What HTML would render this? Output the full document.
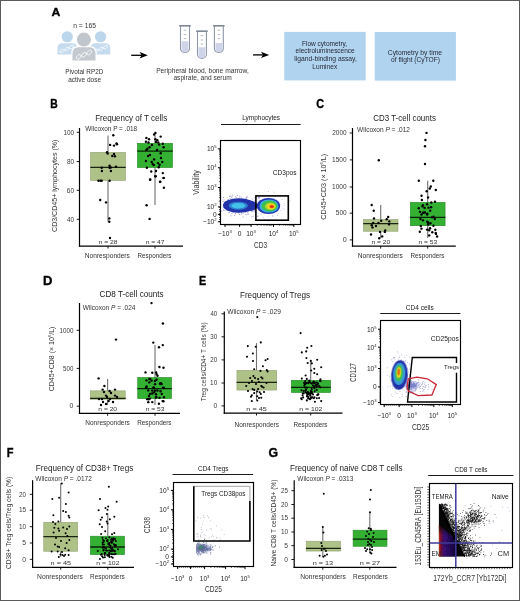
<!DOCTYPE html>
<html><head><meta charset="utf-8"><style>
html,body{margin:0;padding:0;background:#fff;}
body{width:520px;height:601px;overflow:hidden;position:relative;font-family:"Liberation Sans", sans-serif;}
.frame{position:absolute;left:0;top:0;width:518px;height:599px;border:1px solid #5a5a5a;}
svg{position:absolute;left:0;top:0;will-change:transform;}
</style></head><body>
<svg width="520" height="601" viewBox="0 0 520 601" font-family='"Liberation Sans", sans-serif'><defs><filter id="bl1" x="-50%" y="-50%" width="200%" height="200%"><feGaussianBlur stdDeviation="1.0"/></filter><filter id="bl2" x="-50%" y="-50%" width="200%" height="200%"><feGaussianBlur stdDeviation="0.6"/></filter><linearGradient id="gr1" x1="0" y1="0" x2="1" y2="0"><stop offset="0" stop-color="#c83a10"/><stop offset="0.1" stop-color="#801030"/><stop offset="0.3" stop-color="#3a1078"/><stop offset="0.7" stop-color="#220a58"/><stop offset="1" stop-color="#120630"/></linearGradient><linearGradient id="gr2" x1="0" y1="0" x2="0" y2="1"><stop offset="0" stop-color="#060606" stop-opacity="0.9"/><stop offset="0.35" stop-color="#060606" stop-opacity="0"/></linearGradient></defs><text x="51.60" y="15.90" font-size="11.6" textLength="8.83" lengthAdjust="spacingAndGlyphs" font-weight="bold" fill="#000" stroke="#000" stroke-width="0.35">A</text>
<text x="73.25" y="28.40" font-size="7.0" textLength="22.63" lengthAdjust="spacingAndGlyphs" fill="#333">n = 165</text>
<circle cx="67.25" cy="36.75" r="5.6" fill="#bcd6ec"/>
<circle cx="100.6" cy="36.75" r="5.6" fill="#bcd6ec"/>
<path d="M57.5,54.5 L57.5,47.7 Q57.5,43.2 62.0,43.2 L72.5,43.2 Q77.0,43.2 77.0,47.7 L77.0,54.5 Z" fill="#c6dcee"/>
<path d="M90.8,54.5 L90.8,47.7 Q90.8,43.2 95.3,43.2 L105.8,43.2 Q110.3,43.2 110.3,47.7 L110.3,54.5 Z" fill="#c6dcee"/>
<polyline points="59.50,52.00 60.23,52.38 60.95,52.61 61.67,52.58 62.40,52.23 63.12,51.56 63.85,50.66 64.58,49.67 65.30,48.72 66.03,47.96 66.75,47.50 67.47,47.36 68.20,47.52 68.92,47.87 69.65,48.26 70.38,48.56 71.10,48.63 71.83,48.38 72.55,47.81 73.28,46.98 74.00,46.00" fill="none" stroke="#fff" stroke-width="0.8"/>
<polyline points="59.50,52.00 60.23,51.02 60.95,50.19 61.67,49.62 62.40,49.37 63.12,49.44 63.85,49.74 64.58,50.13 65.30,50.48 66.03,50.64 66.75,50.50 67.47,50.04 68.20,49.28 68.92,48.33 69.65,47.34 70.38,46.44 71.10,45.77 71.83,45.42 72.55,45.39 73.28,45.62 74.00,46.00" fill="none" stroke="#fff" stroke-width="0.8"/>
<polyline points="93.50,52.00 94.22,52.38 94.95,52.61 95.67,52.58 96.40,52.23 97.12,51.56 97.85,50.66 98.58,49.67 99.30,48.72 100.03,47.96 100.75,47.50 101.47,47.36 102.20,47.52 102.92,47.87 103.65,48.26 104.38,48.56 105.10,48.63 105.83,48.38 106.55,47.81 107.28,46.98 108.00,46.00" fill="none" stroke="#fff" stroke-width="0.8"/>
<polyline points="93.50,52.00 94.22,51.02 94.95,50.19 95.67,49.62 96.40,49.37 97.12,49.44 97.85,49.74 98.58,50.13 99.30,50.48 100.03,50.64 100.75,50.50 101.47,50.04 102.20,49.28 102.92,48.33 103.65,47.34 104.38,46.44 105.10,45.77 105.83,45.42 106.55,45.39 107.28,45.62 108.00,46.00" fill="none" stroke="#fff" stroke-width="0.8"/>
<circle cx="83.9" cy="39.6" r="8.3" fill="#fff"/>
<path d="M72.5,61.0 L72.5,53.3 Q72.5,47.3 78.5,47.3 L89.5,47.3 Q95.5,47.3 95.5,53.3 L95.5,61.0 Z" fill="#fff" stroke="#fff" stroke-width="2.4"/>
<circle cx="83.9" cy="39.6" r="7.0" fill="#c0c6cc"/>
<path d="M72.5,60.6 L72.5,53.3 Q72.5,47.3 78.5,47.3 L89.5,47.3 Q95.5,47.3 95.5,53.3 L95.5,60.6 Z" fill="#c3c9ce"/>
<polyline points="76.00,58.00 76.80,58.67 77.60,59.13 78.40,59.20 79.20,58.79 80.00,57.93 80.80,56.73 81.60,55.38 82.40,54.11 83.20,53.11 84.00,52.55 84.80,52.46 85.60,52.81 86.40,53.43 87.20,54.13 88.00,54.68 88.80,54.89 89.60,54.65 90.40,53.93 91.20,52.82 92.00,51.50" fill="none" stroke="#fff" stroke-width="0.9"/>
<polyline points="76.00,58.00 76.80,56.68 77.60,55.57 78.40,54.85 79.20,54.61 80.00,54.82 80.80,55.37 81.60,56.07 82.40,56.69 83.20,57.04 84.00,56.95 84.80,56.39 85.60,55.39 86.40,54.12 87.20,52.77 88.00,51.57 88.80,50.71 89.60,50.30 90.40,50.37 91.20,50.83 92.00,51.50" fill="none" stroke="#fff" stroke-width="0.9"/>
<text x="65.27" y="74.30" font-size="7.6" textLength="38.13" lengthAdjust="spacingAndGlyphs" fill="#333">Pivotal RP2D</text>
<text x="68.22" y="82.00" font-size="7.6" textLength="32.86" lengthAdjust="spacingAndGlyphs" fill="#333">active dose</text>
<line x1="131.20" y1="55.30" x2="144.80" y2="55.30" stroke="#000" stroke-width="1.3"/>
<path d="M139.60000000000002,52.099999999999994 L147.8,55.3 L139.60000000000002,58.5 L141.60000000000002,55.3 Z" fill="#000"/>
<line x1="253.00" y1="54.90" x2="266.20" y2="54.90" stroke="#000" stroke-width="1.3"/>
<path d="M261.0,51.699999999999996 L269.2,54.9 L261.0,58.1 L263.0,54.9 Z" fill="#000"/>
<path d="M180.5,26.0 L180.5,48.89999999999999 A4.600000000000011,4.600000000000011 0 0 0 189.5,48.89999999999999 L189.5,26.0" fill="#fff" stroke="#8d97a6" stroke-width="1.1"/>
<path d="M181.6,41.2 L181.6,48.89999999999999 A3.4000000000000057,3.4000000000000057 0 0 0 188.4,48.89999999999999 L188.4,41.2 Z" fill="#d0d4e8"/>
<line x1="183.70" y1="30.20" x2="186.30" y2="30.20" stroke="#aab2c0" stroke-width="0.9"/>
<line x1="183.70" y1="34.60" x2="186.30" y2="34.60" stroke="#aab2c0" stroke-width="0.9"/>
<line x1="183.70" y1="38.60" x2="186.30" y2="38.60" stroke="#aab2c0" stroke-width="0.9"/>
<rect x="179.20" y="25.00" width="11.60" height="1.60" fill="#7f8894"/>
<path d="M197.5,31.4 L197.5,54.75 A4.55,4.55 0 0 0 206.39999999999998,54.75 L206.39999999999998,31.4" fill="#fff" stroke="#8d97a6" stroke-width="1.1"/>
<path d="M198.6,47.3 L198.6,54.75 A3.3499999999999943,3.3499999999999943 0 0 0 205.29999999999998,54.75 L205.29999999999998,47.3 Z" fill="#d0d4e8"/>
<line x1="200.65" y1="35.60" x2="203.25" y2="35.60" stroke="#aab2c0" stroke-width="0.9"/>
<line x1="200.65" y1="40.00" x2="203.25" y2="40.00" stroke="#aab2c0" stroke-width="0.9"/>
<line x1="200.65" y1="44.00" x2="203.25" y2="44.00" stroke="#aab2c0" stroke-width="0.9"/>
<rect x="196.20" y="30.40" width="11.50" height="1.60" fill="#7f8894"/>
<path d="M214.4,26.0 L214.4,48.95 A4.55,4.55 0 0 0 223.29999999999998,48.95 L223.29999999999998,26.0" fill="#fff" stroke="#8d97a6" stroke-width="1.1"/>
<path d="M215.5,43.0 L215.5,48.95 A3.3499999999999943,3.3499999999999943 0 0 0 222.2,48.95 L222.2,43.0 Z" fill="#d0d4e8"/>
<line x1="217.55" y1="30.20" x2="220.15" y2="30.20" stroke="#aab2c0" stroke-width="0.9"/>
<line x1="217.55" y1="34.60" x2="220.15" y2="34.60" stroke="#aab2c0" stroke-width="0.9"/>
<line x1="217.55" y1="38.60" x2="220.15" y2="38.60" stroke="#aab2c0" stroke-width="0.9"/>
<rect x="213.10" y="25.00" width="11.50" height="1.60" fill="#7f8894"/>
<text x="156.15" y="72.60" font-size="7.2" textLength="92.74" lengthAdjust="spacingAndGlyphs" fill="#333">Peripheral blood, bone marrow,</text>
<text x="173.42" y="80.40" font-size="7.2" textLength="58.32" lengthAdjust="spacingAndGlyphs" fill="#333">aspirate, and serum</text>
<rect x="284.30" y="31.90" width="81.40" height="48.50" fill="#b0d3f0"/>
<rect x="374.70" y="32.00" width="81.20" height="48.60" fill="#b0d3f0"/>
<text x="301.97" y="46.00" font-size="7.3" textLength="45.21" lengthAdjust="spacingAndGlyphs" fill="#262a36">Flow cytometry,</text>
<text x="295.62" y="53.40" font-size="7.3" textLength="59.06" lengthAdjust="spacingAndGlyphs" fill="#262a36">electroluminescence</text>
<text x="294.25" y="61.20" font-size="7.3" textLength="62.55" lengthAdjust="spacingAndGlyphs" fill="#262a36">ligand-binding assay,</text>
<text x="312.36" y="68.80" font-size="7.3" textLength="24.81" lengthAdjust="spacingAndGlyphs" fill="#262a36">Luminex</text>
<text x="387.86" y="54.50" font-size="7.3" textLength="54.14" lengthAdjust="spacingAndGlyphs" fill="#262a36">Cytometry by time</text>
<text x="391.12" y="61.90" font-size="7.3" textLength="48.89" lengthAdjust="spacingAndGlyphs" fill="#262a36">of flight (CyTOF)</text>
<text x="50.31" y="107.70" font-size="12.0" textLength="7.46" lengthAdjust="spacingAndGlyphs" font-weight="bold" fill="#000" stroke="#000" stroke-width="0.35">B</text>
<line x1="79.50" y1="128.00" x2="79.50" y2="246.70" stroke="#000" stroke-width="1.2"/>
<line x1="78.90" y1="246.10" x2="183.00" y2="246.10" stroke="#000" stroke-width="1.2"/>
<line x1="76.70" y1="132.30" x2="79.50" y2="132.30" stroke="#000" stroke-width="0.9"/>
<text x="63.41" y="134.50" font-size="6.3" textLength="10.63" lengthAdjust="spacingAndGlyphs" fill="#3a3a3a">100</text>
<line x1="76.70" y1="161.50" x2="79.50" y2="161.50" stroke="#000" stroke-width="0.9"/>
<text x="66.92" y="163.70" font-size="6.3" textLength="7.13" lengthAdjust="spacingAndGlyphs" fill="#3a3a3a">80</text>
<line x1="76.70" y1="190.30" x2="79.50" y2="190.30" stroke="#000" stroke-width="0.9"/>
<text x="66.87" y="192.50" font-size="6.3" textLength="7.18" lengthAdjust="spacingAndGlyphs" fill="#3a3a3a">60</text>
<line x1="76.70" y1="219.30" x2="79.50" y2="219.30" stroke="#000" stroke-width="0.9"/>
<text x="67.06" y="221.50" font-size="6.3" textLength="6.99" lengthAdjust="spacingAndGlyphs" fill="#3a3a3a">40</text>
<text x="57.50" y="231.96" font-size="7.7" textLength="92.40" lengthAdjust="spacingAndGlyphs" fill="#333" transform="rotate(-90 57.50 231.96)">CD3/CD45+ lymphocytes (%)</text>
<text x="95.14" y="120.60" font-size="8.7" textLength="72.05" lengthAdjust="spacingAndGlyphs" fill="#222">Frequency of T cells</text>
<text x="85.27" y="130.70" font-size="6.7" textLength="51.91" lengthAdjust="spacingAndGlyphs" fill="#333">Wilcoxon P = .018</text>
<line x1="108.00" y1="135.60" x2="108.00" y2="221.80" stroke="#6f6f6f" stroke-width="1.1"/>
<rect x="90.65" y="152.35" width="34.70" height="28.00" fill="#aec186" stroke="#98a87a" stroke-width="0.7"/>
<line x1="90.30" y1="167.30" x2="125.70" y2="167.30" stroke="#1a2410" stroke-width="1.3"/>
<circle cx="113.30" cy="135.30" r="1.2" fill="#000"/>
<circle cx="116.50" cy="143.50" r="1.2" fill="#000"/>
<circle cx="117.00" cy="144.20" r="1.2" fill="#000"/>
<circle cx="114.00" cy="145.60" r="1.2" fill="#000"/>
<circle cx="110.10" cy="144.90" r="1.2" fill="#000"/>
<circle cx="107.00" cy="152.30" r="1.2" fill="#000"/>
<circle cx="107.70" cy="153.60" r="1.2" fill="#000"/>
<circle cx="114.00" cy="153.90" r="1.2" fill="#000"/>
<circle cx="112.30" cy="156.00" r="1.2" fill="#000"/>
<circle cx="114.90" cy="156.20" r="1.2" fill="#000"/>
<circle cx="109.60" cy="165.70" r="1.2" fill="#000"/>
<circle cx="110.70" cy="167.50" r="1.2" fill="#000"/>
<circle cx="109.60" cy="167.80" r="1.2" fill="#000"/>
<circle cx="116.00" cy="166.80" r="1.2" fill="#000"/>
<circle cx="101.70" cy="167.80" r="1.2" fill="#000"/>
<circle cx="101.90" cy="171.00" r="1.2" fill="#000"/>
<circle cx="110.90" cy="171.00" r="1.2" fill="#000"/>
<circle cx="98.50" cy="180.70" r="1.2" fill="#000"/>
<circle cx="100.60" cy="180.70" r="1.2" fill="#000"/>
<circle cx="101.70" cy="180.70" r="1.2" fill="#000"/>
<circle cx="109.60" cy="180.70" r="1.2" fill="#000"/>
<circle cx="100.20" cy="200.00" r="1.2" fill="#000"/>
<circle cx="106.00" cy="202.40" r="1.2" fill="#000"/>
<circle cx="109.30" cy="218.40" r="1.2" fill="#000"/>
<circle cx="109.30" cy="221.80" r="1.2" fill="#000"/>
<circle cx="110.00" cy="238.00" r="1.2" fill="#000"/>
<line x1="108.00" y1="246.10" x2="108.00" y2="248.50" stroke="#000" stroke-width="0.9"/>
<text x="98.70" y="244.00" font-size="5.7" textLength="18.84" lengthAdjust="spacingAndGlyphs" fill="#333">n = 28</text>
<text x="84.86" y="257.50" font-size="6.8" textLength="44.98" lengthAdjust="spacingAndGlyphs" fill="#333">Nonresponders</text>
<line x1="155.00" y1="133.00" x2="155.00" y2="204.90" stroke="#6f6f6f" stroke-width="1.1"/>
<rect x="137.55" y="143.35" width="34.90" height="24.10" fill="#34b033" stroke="#2a8f2a" stroke-width="0.7"/>
<line x1="137.20" y1="151.10" x2="172.80" y2="151.10" stroke="#0a260a" stroke-width="1.3"/>
<circle cx="155.40" cy="132.90" r="1.2" fill="#000"/>
<circle cx="154.10" cy="134.50" r="1.2" fill="#000"/>
<circle cx="160.70" cy="136.60" r="1.2" fill="#000"/>
<circle cx="146.40" cy="137.90" r="1.2" fill="#000"/>
<circle cx="149.00" cy="139.30" r="1.2" fill="#000"/>
<circle cx="145.90" cy="141.70" r="1.2" fill="#000"/>
<circle cx="148.50" cy="142.50" r="1.2" fill="#000"/>
<circle cx="155.40" cy="139.30" r="1.2" fill="#000"/>
<circle cx="157.30" cy="140.30" r="1.2" fill="#000"/>
<circle cx="155.90" cy="141.90" r="1.2" fill="#000"/>
<circle cx="158.30" cy="142.50" r="1.2" fill="#000"/>
<circle cx="159.10" cy="144.60" r="1.2" fill="#000"/>
<circle cx="162.80" cy="143.80" r="1.2" fill="#000"/>
<circle cx="163.60" cy="147.20" r="1.2" fill="#000"/>
<circle cx="149.60" cy="147.20" r="1.2" fill="#000"/>
<circle cx="147.50" cy="148.80" r="1.2" fill="#000"/>
<circle cx="146.40" cy="149.90" r="1.2" fill="#000"/>
<circle cx="160.70" cy="153.30" r="1.2" fill="#000"/>
<circle cx="145.90" cy="161.00" r="1.2" fill="#000"/>
<circle cx="154.10" cy="159.40" r="1.2" fill="#000"/>
<circle cx="151.70" cy="162.00" r="1.2" fill="#000"/>
<circle cx="152.70" cy="164.10" r="1.2" fill="#000"/>
<circle cx="153.80" cy="165.00" r="1.2" fill="#000"/>
<circle cx="158.00" cy="163.10" r="1.2" fill="#000"/>
<circle cx="159.60" cy="164.70" r="1.2" fill="#000"/>
<circle cx="162.30" cy="162.00" r="1.2" fill="#000"/>
<circle cx="146.90" cy="167.80" r="1.2" fill="#000"/>
<circle cx="158.80" cy="167.30" r="1.2" fill="#000"/>
<circle cx="151.20" cy="171.50" r="1.2" fill="#000"/>
<circle cx="162.80" cy="173.10" r="1.2" fill="#000"/>
<circle cx="163.60" cy="177.90" r="1.2" fill="#000"/>
<circle cx="155.40" cy="176.30" r="1.2" fill="#000"/>
<circle cx="150.10" cy="179.50" r="1.2" fill="#000"/>
<circle cx="160.10" cy="181.60" r="1.2" fill="#000"/>
<circle cx="150.20" cy="179.70" r="1.2" fill="#000"/>
<circle cx="155.60" cy="176.20" r="1.2" fill="#000"/>
<circle cx="160.20" cy="181.90" r="1.2" fill="#000"/>
<circle cx="163.70" cy="178.10" r="1.2" fill="#000"/>
<circle cx="163.90" cy="187.70" r="1.2" fill="#000"/>
<circle cx="146.60" cy="205.30" r="1.2" fill="#000"/>
<circle cx="149.60" cy="218.90" r="1.2" fill="#000"/>
<circle cx="152.00" cy="145.00" r="1.2" fill="#000"/>
<circle cx="157.00" cy="150.00" r="1.2" fill="#000"/>
<circle cx="150.00" cy="155.00" r="1.2" fill="#000"/>
<circle cx="161.00" cy="158.00" r="1.2" fill="#000"/>
<circle cx="148.00" cy="156.00" r="1.2" fill="#000"/>
<circle cx="156.00" cy="171.00" r="1.2" fill="#000"/>
<line x1="155.00" y1="246.10" x2="155.00" y2="248.50" stroke="#000" stroke-width="0.9"/>
<text x="145.70" y="244.00" font-size="5.7" textLength="18.88" lengthAdjust="spacingAndGlyphs" fill="#333">n = 47</text>
<text x="137.58" y="257.50" font-size="6.8" textLength="33.94" lengthAdjust="spacingAndGlyphs" fill="#333">Responders</text>
<text x="242.17" y="120.20" font-size="7.0" textLength="37.96" lengthAdjust="spacingAndGlyphs" fill="#222">Lymphocytes</text>
<line x1="221.00" y1="124.50" x2="300.60" y2="124.50" stroke="#1a1a1a" stroke-width="1.0"/>
<rect x="220.50" y="140.50" width="80.00" height="84.00" fill="none" stroke="#000" stroke-width="1.15"/>
<g fill="#6a58c0" opacity="0.6"><circle cx="240.9" cy="211.3" r="0.55"/><circle cx="231.6" cy="210.2" r="0.55"/><circle cx="237.7" cy="204.9" r="0.55"/><circle cx="257.1" cy="206.7" r="0.55"/><circle cx="239.6" cy="209.1" r="0.55"/><circle cx="250.1" cy="205.9" r="0.55"/><circle cx="245.3" cy="201.9" r="0.55"/><circle cx="236.7" cy="204.2" r="0.55"/><circle cx="228.0" cy="199.7" r="0.55"/><circle cx="225.4" cy="205.0" r="0.55"/><circle cx="238.4" cy="204.7" r="0.55"/><circle cx="240.6" cy="200.4" r="0.55"/><circle cx="239.3" cy="207.0" r="0.55"/><circle cx="246.8" cy="202.4" r="0.55"/><circle cx="236.4" cy="197.5" r="0.55"/><circle cx="235.5" cy="196.8" r="0.55"/><circle cx="227.2" cy="210.6" r="0.55"/><circle cx="220.2" cy="209.4" r="0.55"/><circle cx="243.0" cy="204.7" r="0.55"/><circle cx="244.1" cy="208.2" r="0.55"/><circle cx="249.4" cy="205.0" r="0.55"/><circle cx="234.7" cy="203.5" r="0.55"/><circle cx="231.1" cy="205.8" r="0.55"/><circle cx="232.9" cy="210.5" r="0.55"/><circle cx="223.2" cy="201.4" r="0.55"/><circle cx="231.4" cy="197.2" r="0.55"/><circle cx="257.1" cy="195.9" r="0.55"/><circle cx="237.5" cy="203.8" r="0.55"/><circle cx="254.9" cy="197.7" r="0.55"/><circle cx="249.6" cy="202.9" r="0.55"/><circle cx="238.6" cy="203.2" r="0.55"/><circle cx="245.8" cy="201.2" r="0.55"/><circle cx="239.3" cy="207.5" r="0.55"/><circle cx="256.6" cy="195.9" r="0.55"/><circle cx="253.7" cy="210.0" r="0.55"/><circle cx="235.6" cy="207.3" r="0.55"/><circle cx="235.8" cy="212.9" r="0.55"/><circle cx="241.9" cy="205.1" r="0.55"/><circle cx="237.9" cy="205.2" r="0.55"/><circle cx="238.4" cy="202.3" r="0.55"/><circle cx="258.5" cy="198.0" r="0.55"/><circle cx="207.5" cy="205.5" r="0.55"/><circle cx="238.7" cy="207.6" r="0.55"/><circle cx="238.2" cy="205.4" r="0.55"/><circle cx="243.0" cy="210.1" r="0.55"/><circle cx="236.0" cy="204.4" r="0.55"/><circle cx="257.5" cy="208.2" r="0.55"/><circle cx="231.1" cy="215.8" r="0.55"/><circle cx="247.0" cy="203.5" r="0.55"/><circle cx="229.4" cy="207.3" r="0.55"/><circle cx="232.5" cy="201.6" r="0.55"/><circle cx="228.3" cy="203.9" r="0.55"/><circle cx="250.0" cy="204.2" r="0.55"/><circle cx="227.0" cy="208.8" r="0.55"/><circle cx="240.6" cy="209.5" r="0.55"/><circle cx="250.8" cy="205.3" r="0.55"/><circle cx="238.7" cy="205.8" r="0.55"/><circle cx="229.8" cy="208.8" r="0.55"/><circle cx="252.3" cy="206.7" r="0.55"/><circle cx="237.9" cy="204.9" r="0.55"/><circle cx="233.0" cy="202.6" r="0.55"/><circle cx="236.4" cy="202.5" r="0.55"/><circle cx="236.1" cy="199.4" r="0.55"/><circle cx="243.2" cy="206.2" r="0.55"/><circle cx="229.6" cy="196.3" r="0.55"/><circle cx="239.9" cy="210.6" r="0.55"/><circle cx="233.4" cy="204.0" r="0.55"/><circle cx="234.9" cy="208.7" r="0.55"/><circle cx="231.8" cy="210.1" r="0.55"/><circle cx="237.3" cy="209.9" r="0.55"/><circle cx="240.3" cy="205.0" r="0.55"/><circle cx="226.7" cy="203.1" r="0.55"/><circle cx="237.6" cy="208.8" r="0.55"/><circle cx="242.2" cy="203.1" r="0.55"/><circle cx="243.7" cy="210.1" r="0.55"/><circle cx="238.7" cy="204.2" r="0.55"/><circle cx="236.5" cy="209.4" r="0.55"/><circle cx="244.8" cy="202.1" r="0.55"/><circle cx="243.4" cy="204.0" r="0.55"/><circle cx="233.2" cy="211.2" r="0.55"/><circle cx="247.4" cy="203.0" r="0.55"/><circle cx="240.7" cy="208.1" r="0.55"/><circle cx="234.2" cy="205.5" r="0.55"/><circle cx="246.0" cy="198.5" r="0.55"/><circle cx="242.9" cy="209.1" r="0.55"/><circle cx="244.5" cy="200.4" r="0.55"/><circle cx="242.9" cy="202.4" r="0.55"/><circle cx="245.1" cy="208.5" r="0.55"/><circle cx="241.9" cy="202.8" r="0.55"/><circle cx="234.7" cy="209.6" r="0.55"/><circle cx="231.9" cy="208.1" r="0.55"/><circle cx="244.6" cy="204.8" r="0.55"/><circle cx="261.6" cy="206.3" r="0.55"/><circle cx="259.3" cy="197.5" r="0.55"/><circle cx="219.8" cy="210.1" r="0.55"/><circle cx="245.7" cy="204.7" r="0.55"/><circle cx="239.5" cy="198.0" r="0.55"/><circle cx="234.3" cy="201.7" r="0.55"/><circle cx="238.0" cy="209.7" r="0.55"/><circle cx="240.5" cy="207.6" r="0.55"/><circle cx="233.7" cy="204.2" r="0.55"/><circle cx="241.0" cy="204.8" r="0.55"/><circle cx="251.4" cy="202.3" r="0.55"/><circle cx="257.0" cy="201.9" r="0.55"/><circle cx="249.5" cy="202.8" r="0.55"/><circle cx="254.8" cy="206.6" r="0.55"/><circle cx="243.6" cy="209.1" r="0.55"/><circle cx="234.3" cy="201.6" r="0.55"/><circle cx="221.8" cy="211.1" r="0.55"/><circle cx="233.7" cy="203.5" r="0.55"/><circle cx="239.7" cy="214.4" r="0.55"/><circle cx="224.4" cy="207.0" r="0.55"/><circle cx="236.4" cy="208.2" r="0.55"/><circle cx="223.8" cy="204.3" r="0.55"/><circle cx="247.6" cy="212.5" r="0.55"/><circle cx="254.4" cy="202.4" r="0.55"/><circle cx="240.5" cy="205.5" r="0.55"/><circle cx="227.6" cy="200.0" r="0.55"/><circle cx="246.8" cy="207.0" r="0.55"/><circle cx="238.7" cy="211.1" r="0.55"/><circle cx="231.0" cy="208.2" r="0.55"/><circle cx="240.1" cy="205.8" r="0.55"/><circle cx="244.4" cy="206.7" r="0.55"/><circle cx="242.4" cy="207.1" r="0.55"/><circle cx="257.4" cy="204.7" r="0.55"/><circle cx="249.1" cy="208.6" r="0.55"/><circle cx="236.9" cy="209.3" r="0.55"/><circle cx="232.3" cy="210.9" r="0.55"/><circle cx="232.7" cy="203.9" r="0.55"/><circle cx="242.9" cy="209.5" r="0.55"/><circle cx="248.2" cy="209.8" r="0.55"/><circle cx="238.1" cy="202.0" r="0.55"/><circle cx="244.9" cy="207.3" r="0.55"/><circle cx="231.4" cy="210.1" r="0.55"/><circle cx="241.8" cy="202.0" r="0.55"/><circle cx="244.0" cy="200.4" r="0.55"/><circle cx="232.1" cy="207.7" r="0.55"/><circle cx="226.0" cy="206.2" r="0.55"/><circle cx="227.8" cy="209.1" r="0.55"/><circle cx="233.5" cy="206.8" r="0.55"/><circle cx="226.5" cy="204.6" r="0.55"/><circle cx="248.5" cy="207.9" r="0.55"/><circle cx="223.5" cy="209.9" r="0.55"/><circle cx="248.0" cy="204.4" r="0.55"/><circle cx="252.8" cy="201.6" r="0.55"/><circle cx="239.2" cy="210.7" r="0.55"/><circle cx="251.8" cy="211.4" r="0.55"/><circle cx="230.2" cy="198.5" r="0.55"/><circle cx="243.5" cy="200.0" r="0.55"/><circle cx="238.8" cy="200.6" r="0.55"/><circle cx="249.6" cy="209.4" r="0.55"/><circle cx="245.0" cy="206.1" r="0.55"/><circle cx="240.4" cy="204.8" r="0.55"/><circle cx="243.5" cy="207.0" r="0.55"/><circle cx="244.1" cy="204.2" r="0.55"/><circle cx="257.1" cy="207.2" r="0.55"/><circle cx="252.5" cy="211.6" r="0.55"/><circle cx="232.1" cy="198.9" r="0.55"/><circle cx="251.3" cy="204.4" r="0.55"/><circle cx="240.7" cy="204.9" r="0.55"/><circle cx="241.2" cy="201.0" r="0.55"/><circle cx="239.1" cy="204.1" r="0.55"/><circle cx="239.9" cy="196.2" r="0.55"/><circle cx="247.4" cy="207.4" r="0.55"/><circle cx="224.5" cy="202.9" r="0.55"/><circle cx="240.3" cy="208.6" r="0.55"/><circle cx="240.0" cy="211.8" r="0.55"/><circle cx="240.2" cy="201.8" r="0.55"/><circle cx="233.9" cy="209.1" r="0.55"/><circle cx="234.5" cy="209.5" r="0.55"/><circle cx="249.2" cy="208.5" r="0.55"/><circle cx="249.2" cy="205.3" r="0.55"/><circle cx="239.9" cy="203.5" r="0.55"/><circle cx="234.5" cy="199.4" r="0.55"/><circle cx="235.0" cy="201.5" r="0.55"/><circle cx="227.2" cy="206.6" r="0.55"/><circle cx="244.1" cy="204.6" r="0.55"/><circle cx="252.3" cy="210.0" r="0.55"/><circle cx="249.4" cy="203.5" r="0.55"/><circle cx="226.6" cy="208.3" r="0.55"/><circle cx="242.8" cy="209.0" r="0.55"/><circle cx="243.8" cy="211.3" r="0.55"/><circle cx="237.4" cy="208.8" r="0.55"/><circle cx="231.9" cy="196.3" r="0.55"/><circle cx="236.0" cy="212.3" r="0.55"/><circle cx="224.9" cy="210.3" r="0.55"/><circle cx="233.9" cy="204.3" r="0.55"/><circle cx="240.4" cy="206.9" r="0.55"/><circle cx="231.2" cy="206.5" r="0.55"/><circle cx="244.0" cy="209.5" r="0.55"/><circle cx="233.2" cy="212.5" r="0.55"/><circle cx="257.2" cy="216.1" r="0.55"/><circle cx="227.9" cy="206.7" r="0.55"/><circle cx="223.3" cy="207.6" r="0.55"/><circle cx="245.0" cy="201.2" r="0.55"/><circle cx="225.7" cy="206.8" r="0.55"/><circle cx="245.7" cy="202.7" r="0.55"/><circle cx="237.6" cy="195.4" r="0.55"/><circle cx="233.6" cy="206.6" r="0.55"/><circle cx="241.4" cy="212.6" r="0.55"/><circle cx="229.7" cy="196.5" r="0.55"/><circle cx="244.1" cy="203.5" r="0.55"/><circle cx="242.6" cy="209.0" r="0.55"/><circle cx="245.4" cy="212.1" r="0.55"/><circle cx="252.2" cy="199.0" r="0.55"/><circle cx="239.4" cy="214.4" r="0.55"/><circle cx="236.3" cy="210.1" r="0.55"/><circle cx="239.5" cy="204.2" r="0.55"/><circle cx="254.2" cy="210.4" r="0.55"/><circle cx="237.8" cy="209.8" r="0.55"/><circle cx="228.2" cy="203.0" r="0.55"/><circle cx="248.1" cy="206.2" r="0.55"/><circle cx="230.4" cy="207.9" r="0.55"/><circle cx="243.0" cy="211.4" r="0.55"/><circle cx="248.6" cy="204.8" r="0.55"/><circle cx="235.6" cy="205.4" r="0.55"/><circle cx="237.9" cy="212.1" r="0.55"/><circle cx="254.3" cy="211.7" r="0.55"/><circle cx="243.4" cy="205.0" r="0.55"/><circle cx="248.1" cy="204.5" r="0.55"/><circle cx="242.1" cy="199.0" r="0.55"/><circle cx="236.2" cy="212.0" r="0.55"/><circle cx="230.8" cy="199.7" r="0.55"/><circle cx="238.5" cy="213.0" r="0.55"/><circle cx="253.1" cy="204.5" r="0.55"/><circle cx="235.7" cy="205.5" r="0.55"/><circle cx="231.6" cy="206.2" r="0.55"/><circle cx="237.3" cy="199.8" r="0.55"/><circle cx="234.8" cy="204.9" r="0.55"/><circle cx="232.3" cy="201.3" r="0.55"/><circle cx="248.1" cy="214.0" r="0.55"/><circle cx="237.4" cy="204.2" r="0.55"/><circle cx="244.5" cy="205.0" r="0.55"/><circle cx="233.0" cy="211.8" r="0.55"/><circle cx="230.6" cy="202.9" r="0.55"/><circle cx="234.0" cy="202.3" r="0.55"/><circle cx="237.9" cy="208.4" r="0.55"/><circle cx="253.0" cy="208.8" r="0.55"/><circle cx="240.3" cy="200.7" r="0.55"/><circle cx="239.4" cy="202.0" r="0.55"/><circle cx="239.1" cy="210.1" r="0.55"/><circle cx="241.8" cy="205.1" r="0.55"/><circle cx="233.2" cy="205.9" r="0.55"/><circle cx="241.0" cy="202.1" r="0.55"/><circle cx="235.5" cy="209.7" r="0.55"/><circle cx="225.1" cy="204.1" r="0.55"/><circle cx="229.5" cy="212.5" r="0.55"/><circle cx="245.4" cy="208.2" r="0.55"/><circle cx="243.6" cy="207.2" r="0.55"/><circle cx="242.6" cy="199.3" r="0.55"/><circle cx="242.3" cy="208.5" r="0.55"/><circle cx="227.1" cy="209.5" r="0.55"/><circle cx="246.0" cy="199.6" r="0.55"/><circle cx="235.8" cy="204.7" r="0.55"/><circle cx="235.3" cy="207.6" r="0.55"/><circle cx="228.5" cy="205.1" r="0.55"/><circle cx="242.0" cy="209.0" r="0.55"/><circle cx="240.4" cy="205.0" r="0.55"/><circle cx="246.2" cy="197.6" r="0.55"/><circle cx="248.4" cy="204.7" r="0.55"/><circle cx="228.7" cy="204.2" r="0.55"/><circle cx="223.5" cy="197.4" r="0.55"/><circle cx="237.1" cy="202.7" r="0.55"/><circle cx="246.6" cy="202.3" r="0.55"/><circle cx="228.3" cy="202.0" r="0.55"/><circle cx="255.4" cy="206.1" r="0.55"/><circle cx="234.5" cy="201.8" r="0.55"/><circle cx="230.1" cy="205.3" r="0.55"/><circle cx="243.8" cy="210.8" r="0.55"/><circle cx="250.3" cy="207.1" r="0.55"/><circle cx="234.1" cy="202.4" r="0.55"/><circle cx="219.2" cy="201.7" r="0.55"/><circle cx="243.8" cy="204.6" r="0.55"/><circle cx="243.3" cy="200.3" r="0.55"/><circle cx="248.1" cy="207.2" r="0.55"/><circle cx="240.4" cy="207.7" r="0.55"/><circle cx="219.9" cy="203.7" r="0.55"/><circle cx="231.9" cy="213.6" r="0.55"/><circle cx="238.4" cy="203.9" r="0.55"/><circle cx="247.7" cy="201.6" r="0.55"/><circle cx="252.8" cy="203.0" r="0.55"/><circle cx="239.5" cy="202.2" r="0.55"/><circle cx="247.3" cy="196.9" r="0.55"/><circle cx="246.2" cy="202.6" r="0.55"/><circle cx="240.4" cy="201.2" r="0.55"/><circle cx="242.1" cy="206.8" r="0.55"/><circle cx="245.3" cy="207.3" r="0.55"/><circle cx="245.6" cy="210.2" r="0.55"/><circle cx="236.5" cy="201.0" r="0.55"/><circle cx="228.5" cy="208.9" r="0.55"/><circle cx="236.6" cy="210.4" r="0.55"/><circle cx="240.4" cy="201.7" r="0.55"/><circle cx="248.1" cy="214.2" r="0.55"/><circle cx="238.4" cy="202.1" r="0.55"/><circle cx="232.4" cy="209.7" r="0.55"/><circle cx="234.7" cy="204.3" r="0.55"/><circle cx="246.2" cy="206.0" r="0.55"/><circle cx="241.0" cy="203.7" r="0.55"/><circle cx="234.3" cy="206.7" r="0.55"/><circle cx="241.4" cy="208.5" r="0.55"/><circle cx="235.5" cy="207.4" r="0.55"/><circle cx="244.3" cy="206.3" r="0.55"/><circle cx="245.1" cy="210.2" r="0.55"/><circle cx="241.8" cy="206.3" r="0.55"/><circle cx="231.3" cy="207.4" r="0.55"/><circle cx="239.2" cy="204.7" r="0.55"/><circle cx="232.6" cy="208.4" r="0.55"/><circle cx="263.0" cy="207.8" r="0.55"/><circle cx="240.8" cy="207.8" r="0.55"/><circle cx="234.7" cy="206.4" r="0.55"/><circle cx="234.0" cy="203.3" r="0.55"/><circle cx="242.1" cy="207.0" r="0.55"/><circle cx="239.0" cy="202.7" r="0.55"/><circle cx="242.4" cy="201.4" r="0.55"/><circle cx="246.9" cy="204.5" r="0.55"/><circle cx="240.0" cy="209.3" r="0.55"/><circle cx="245.0" cy="200.6" r="0.55"/><circle cx="237.8" cy="207.5" r="0.55"/><circle cx="230.2" cy="195.9" r="0.55"/><circle cx="239.4" cy="205.8" r="0.55"/><circle cx="243.9" cy="206.3" r="0.55"/><circle cx="241.2" cy="207.0" r="0.55"/><circle cx="252.4" cy="208.0" r="0.55"/><circle cx="244.9" cy="204.4" r="0.55"/><circle cx="250.1" cy="205.2" r="0.55"/><circle cx="246.6" cy="197.1" r="0.55"/><circle cx="242.2" cy="205.6" r="0.55"/><circle cx="235.9" cy="211.4" r="0.55"/><circle cx="243.6" cy="205.4" r="0.55"/><circle cx="235.3" cy="213.9" r="0.55"/><circle cx="246.7" cy="208.8" r="0.55"/><circle cx="233.1" cy="211.5" r="0.55"/><circle cx="245.0" cy="204.9" r="0.55"/><circle cx="239.1" cy="199.2" r="0.55"/><circle cx="245.9" cy="201.4" r="0.55"/><circle cx="247.6" cy="204.2" r="0.55"/><circle cx="234.4" cy="207.5" r="0.55"/><circle cx="241.9" cy="201.3" r="0.55"/><circle cx="239.3" cy="208.5" r="0.55"/><circle cx="237.7" cy="200.4" r="0.55"/><circle cx="237.8" cy="202.0" r="0.55"/><circle cx="234.8" cy="206.2" r="0.55"/><circle cx="239.5" cy="205.1" r="0.55"/><circle cx="225.2" cy="207.5" r="0.55"/><circle cx="238.2" cy="204.3" r="0.55"/><circle cx="241.4" cy="214.1" r="0.55"/><circle cx="228.4" cy="199.3" r="0.55"/><circle cx="246.8" cy="202.7" r="0.55"/><circle cx="251.7" cy="201.9" r="0.55"/><circle cx="235.7" cy="209.5" r="0.55"/><circle cx="248.2" cy="207.9" r="0.55"/><circle cx="244.1" cy="205.5" r="0.55"/><circle cx="236.1" cy="205.1" r="0.55"/><circle cx="251.4" cy="209.0" r="0.55"/><circle cx="240.2" cy="207.3" r="0.55"/><circle cx="247.4" cy="210.9" r="0.55"/><circle cx="238.8" cy="205.7" r="0.55"/><circle cx="243.0" cy="216.9" r="0.55"/><circle cx="242.2" cy="211.3" r="0.55"/><circle cx="226.3" cy="209.5" r="0.55"/><circle cx="227.4" cy="201.5" r="0.55"/><circle cx="234.3" cy="205.4" r="0.55"/><circle cx="241.6" cy="207.5" r="0.55"/><circle cx="242.0" cy="204.2" r="0.55"/><circle cx="263.2" cy="207.6" r="0.55"/><circle cx="246.0" cy="214.4" r="0.55"/><circle cx="248.6" cy="208.4" r="0.55"/><circle cx="242.9" cy="213.8" r="0.55"/><circle cx="230.3" cy="202.0" r="0.55"/><circle cx="241.3" cy="197.5" r="0.55"/><circle cx="233.1" cy="210.7" r="0.55"/><circle cx="235.9" cy="206.7" r="0.55"/><circle cx="246.2" cy="201.2" r="0.55"/><circle cx="242.4" cy="203.4" r="0.55"/><circle cx="230.2" cy="204.9" r="0.55"/><circle cx="239.5" cy="204.3" r="0.55"/><circle cx="234.1" cy="210.0" r="0.55"/><circle cx="250.3" cy="208.3" r="0.55"/><circle cx="239.1" cy="201.6" r="0.55"/><circle cx="232.7" cy="201.4" r="0.55"/><circle cx="241.9" cy="209.8" r="0.55"/><circle cx="248.1" cy="205.9" r="0.55"/><circle cx="236.6" cy="206.7" r="0.55"/><circle cx="241.1" cy="208.5" r="0.55"/><circle cx="253.1" cy="203.2" r="0.55"/><circle cx="258.7" cy="197.3" r="0.55"/><circle cx="224.1" cy="199.7" r="0.55"/><circle cx="230.9" cy="205.0" r="0.55"/><circle cx="258.4" cy="203.1" r="0.55"/><circle cx="249.8" cy="204.5" r="0.55"/><circle cx="241.4" cy="201.8" r="0.55"/><circle cx="260.2" cy="205.8" r="0.55"/><circle cx="234.5" cy="215.5" r="0.55"/><circle cx="241.6" cy="207.7" r="0.55"/><circle cx="238.7" cy="202.5" r="0.55"/><circle cx="227.2" cy="205.3" r="0.55"/><circle cx="254.4" cy="207.8" r="0.55"/><circle cx="238.4" cy="210.4" r="0.55"/><circle cx="231.7" cy="211.7" r="0.55"/><circle cx="239.9" cy="202.5" r="0.55"/><circle cx="246.0" cy="208.1" r="0.55"/><circle cx="236.9" cy="206.9" r="0.55"/><circle cx="248.7" cy="211.8" r="0.55"/><circle cx="232.4" cy="195.1" r="0.55"/><circle cx="258.2" cy="204.9" r="0.55"/><circle cx="236.3" cy="207.8" r="0.55"/><circle cx="236.2" cy="210.3" r="0.55"/><circle cx="228.9" cy="205.1" r="0.55"/><circle cx="228.8" cy="212.3" r="0.55"/><circle cx="237.8" cy="210.6" r="0.55"/><circle cx="252.4" cy="201.0" r="0.55"/><circle cx="238.0" cy="209.0" r="0.55"/><circle cx="240.4" cy="205.4" r="0.55"/><circle cx="247.5" cy="209.8" r="0.55"/><circle cx="234.7" cy="205.4" r="0.55"/><circle cx="245.8" cy="206.9" r="0.55"/><circle cx="241.3" cy="201.3" r="0.55"/><circle cx="255.7" cy="205.0" r="0.55"/><circle cx="242.4" cy="205.9" r="0.55"/><circle cx="240.6" cy="206.6" r="0.55"/></g>
<g fill="#7a68c8" opacity="0.5"><circle cx="262.2" cy="208.9" r="0.5"/><circle cx="276.3" cy="209.0" r="0.5"/><circle cx="273.0" cy="209.4" r="0.5"/><circle cx="268.2" cy="216.0" r="0.5"/><circle cx="263.3" cy="208.9" r="0.5"/><circle cx="275.1" cy="208.4" r="0.5"/><circle cx="260.7" cy="201.6" r="0.5"/><circle cx="278.9" cy="202.3" r="0.5"/><circle cx="268.1" cy="209.7" r="0.5"/><circle cx="268.6" cy="198.2" r="0.5"/><circle cx="254.8" cy="206.5" r="0.5"/><circle cx="262.6" cy="205.7" r="0.5"/><circle cx="268.6" cy="207.8" r="0.5"/><circle cx="258.7" cy="198.7" r="0.5"/><circle cx="274.5" cy="203.9" r="0.5"/><circle cx="259.9" cy="197.1" r="0.5"/><circle cx="271.7" cy="200.7" r="0.5"/><circle cx="260.7" cy="210.1" r="0.5"/><circle cx="270.1" cy="209.8" r="0.5"/><circle cx="259.2" cy="192.8" r="0.5"/><circle cx="261.1" cy="205.5" r="0.5"/><circle cx="263.4" cy="211.4" r="0.5"/><circle cx="270.5" cy="201.8" r="0.5"/><circle cx="271.9" cy="206.3" r="0.5"/><circle cx="264.6" cy="212.6" r="0.5"/><circle cx="256.4" cy="212.1" r="0.5"/><circle cx="275.6" cy="196.8" r="0.5"/><circle cx="266.7" cy="206.2" r="0.5"/><circle cx="260.1" cy="204.1" r="0.5"/><circle cx="262.3" cy="207.3" r="0.5"/><circle cx="264.1" cy="196.3" r="0.5"/><circle cx="276.3" cy="211.5" r="0.5"/><circle cx="262.2" cy="211.3" r="0.5"/><circle cx="282.1" cy="199.3" r="0.5"/><circle cx="265.1" cy="204.4" r="0.5"/><circle cx="271.9" cy="205.5" r="0.5"/><circle cx="258.2" cy="213.3" r="0.5"/><circle cx="265.8" cy="210.6" r="0.5"/><circle cx="284.0" cy="203.3" r="0.5"/><circle cx="265.1" cy="211.6" r="0.5"/><circle cx="267.3" cy="209.6" r="0.5"/><circle cx="268.0" cy="221.0" r="0.5"/><circle cx="272.4" cy="208.7" r="0.5"/><circle cx="268.9" cy="208.9" r="0.5"/><circle cx="256.6" cy="205.6" r="0.5"/><circle cx="273.2" cy="201.0" r="0.5"/><circle cx="268.3" cy="206.5" r="0.5"/><circle cx="264.4" cy="219.5" r="0.5"/><circle cx="273.0" cy="208.7" r="0.5"/><circle cx="262.5" cy="207.4" r="0.5"/><circle cx="265.9" cy="206.6" r="0.5"/><circle cx="269.6" cy="219.5" r="0.5"/><circle cx="277.4" cy="215.5" r="0.5"/><circle cx="277.6" cy="221.1" r="0.5"/><circle cx="263.4" cy="200.6" r="0.5"/><circle cx="269.5" cy="208.3" r="0.5"/><circle cx="268.3" cy="203.9" r="0.5"/><circle cx="272.8" cy="215.6" r="0.5"/><circle cx="269.6" cy="205.9" r="0.5"/><circle cx="276.4" cy="205.5" r="0.5"/><circle cx="265.5" cy="208.6" r="0.5"/><circle cx="252.0" cy="216.4" r="0.5"/><circle cx="267.3" cy="209.6" r="0.5"/><circle cx="270.2" cy="209.1" r="0.5"/><circle cx="258.7" cy="215.9" r="0.5"/><circle cx="272.0" cy="208.5" r="0.5"/><circle cx="290.1" cy="200.7" r="0.5"/><circle cx="273.2" cy="206.5" r="0.5"/><circle cx="257.5" cy="216.7" r="0.5"/><circle cx="257.1" cy="207.7" r="0.5"/><circle cx="267.4" cy="208.0" r="0.5"/><circle cx="261.4" cy="213.9" r="0.5"/><circle cx="269.8" cy="200.6" r="0.5"/><circle cx="259.5" cy="208.4" r="0.5"/><circle cx="259.9" cy="209.2" r="0.5"/><circle cx="270.3" cy="204.1" r="0.5"/><circle cx="254.5" cy="200.5" r="0.5"/><circle cx="270.6" cy="204.4" r="0.5"/><circle cx="281.1" cy="204.8" r="0.5"/><circle cx="270.7" cy="210.4" r="0.5"/><circle cx="268.7" cy="208.6" r="0.5"/><circle cx="275.1" cy="206.3" r="0.5"/><circle cx="270.4" cy="205.2" r="0.5"/><circle cx="282.1" cy="207.9" r="0.5"/><circle cx="273.9" cy="192.1" r="0.5"/><circle cx="264.6" cy="201.4" r="0.5"/><circle cx="268.3" cy="204.8" r="0.5"/><circle cx="260.7" cy="205.6" r="0.5"/><circle cx="273.7" cy="212.4" r="0.5"/><circle cx="264.3" cy="212.3" r="0.5"/><circle cx="263.7" cy="210.1" r="0.5"/><circle cx="262.0" cy="212.3" r="0.5"/><circle cx="284.3" cy="205.6" r="0.5"/><circle cx="276.6" cy="199.8" r="0.5"/><circle cx="263.6" cy="220.3" r="0.5"/><circle cx="267.6" cy="209.5" r="0.5"/><circle cx="256.6" cy="207.0" r="0.5"/><circle cx="262.5" cy="213.1" r="0.5"/><circle cx="264.3" cy="219.8" r="0.5"/><circle cx="260.4" cy="208.7" r="0.5"/><circle cx="254.0" cy="205.0" r="0.5"/><circle cx="276.6" cy="206.5" r="0.5"/><circle cx="258.9" cy="209.5" r="0.5"/><circle cx="274.7" cy="209.2" r="0.5"/><circle cx="275.0" cy="199.9" r="0.5"/><circle cx="280.8" cy="210.6" r="0.5"/><circle cx="253.3" cy="216.4" r="0.5"/><circle cx="264.7" cy="209.6" r="0.5"/><circle cx="254.1" cy="203.9" r="0.5"/><circle cx="255.2" cy="211.2" r="0.5"/><circle cx="266.4" cy="202.4" r="0.5"/><circle cx="265.4" cy="212.6" r="0.5"/><circle cx="262.6" cy="209.9" r="0.5"/><circle cx="259.7" cy="198.7" r="0.5"/><circle cx="264.6" cy="205.6" r="0.5"/><circle cx="269.3" cy="211.7" r="0.5"/><circle cx="265.1" cy="205.2" r="0.5"/><circle cx="273.4" cy="209.2" r="0.5"/><circle cx="267.6" cy="208.2" r="0.5"/><circle cx="252.7" cy="204.3" r="0.5"/><circle cx="256.8" cy="205.2" r="0.5"/><circle cx="274.3" cy="198.6" r="0.5"/><circle cx="274.5" cy="204.2" r="0.5"/><circle cx="266.5" cy="204.7" r="0.5"/><circle cx="273.0" cy="203.7" r="0.5"/><circle cx="253.5" cy="208.6" r="0.5"/><circle cx="267.0" cy="210.2" r="0.5"/><circle cx="272.2" cy="201.0" r="0.5"/><circle cx="269.4" cy="207.6" r="0.5"/><circle cx="267.5" cy="207.5" r="0.5"/><circle cx="270.2" cy="204.2" r="0.5"/><circle cx="266.9" cy="211.9" r="0.5"/><circle cx="260.6" cy="206.6" r="0.5"/><circle cx="260.9" cy="201.7" r="0.5"/><circle cx="265.1" cy="207.9" r="0.5"/><circle cx="278.6" cy="206.0" r="0.5"/><circle cx="274.5" cy="209.7" r="0.5"/><circle cx="268.5" cy="191.5" r="0.5"/><circle cx="268.9" cy="207.3" r="0.5"/><circle cx="260.7" cy="207.7" r="0.5"/><circle cx="278.3" cy="201.2" r="0.5"/><circle cx="264.4" cy="211.5" r="0.5"/><circle cx="255.4" cy="201.8" r="0.5"/><circle cx="270.1" cy="211.8" r="0.5"/><circle cx="276.5" cy="210.8" r="0.5"/><circle cx="284.1" cy="208.9" r="0.5"/><circle cx="259.0" cy="206.0" r="0.5"/><circle cx="272.4" cy="208.9" r="0.5"/><circle cx="254.5" cy="208.9" r="0.5"/><circle cx="262.4" cy="206.0" r="0.5"/><circle cx="278.2" cy="206.2" r="0.5"/><circle cx="263.4" cy="206.4" r="0.5"/><circle cx="263.5" cy="217.2" r="0.5"/><circle cx="273.8" cy="211.6" r="0.5"/><circle cx="263.2" cy="203.8" r="0.5"/><circle cx="269.8" cy="196.1" r="0.5"/><circle cx="275.2" cy="200.6" r="0.5"/><circle cx="268.7" cy="208.7" r="0.5"/><circle cx="262.5" cy="208.8" r="0.5"/><circle cx="272.9" cy="216.5" r="0.5"/></g>
<g filter="url(#bl2)"><ellipse cx="239" cy="205.5" rx="16" ry="7.3" fill="#2030a8"/><ellipse cx="248" cy="205.8" rx="10" ry="5.2" fill="#2030a8"/><ellipse cx="238.3" cy="205.7" rx="9.6" ry="4.0" fill="#2f7fd0"/><ellipse cx="238.3" cy="205.7" rx="7" ry="2.8" fill="#45c0e8"/><ellipse cx="268.5" cy="206" rx="11.6" ry="8" fill="#2436b0"/><ellipse cx="269" cy="206" rx="9.6" ry="6.6" fill="#38b0dc"/><ellipse cx="269.5" cy="206" rx="8" ry="5.4" fill="#3cbf4a"/><ellipse cx="270.5" cy="206.3" rx="5.6" ry="3.7" fill="#a8d830"/><ellipse cx="271" cy="206.4" rx="4" ry="2.8" fill="#f0d020"/><ellipse cx="271.8" cy="206.5" rx="2.2" ry="1.6" fill="#e83010"/></g>
<rect x="255.9" y="195.9" width="32.4" height="24.3" fill="none" stroke="#000" stroke-width="1.6"/>
<text x="272.87" y="175.20" font-size="6.4" textLength="23.67" lengthAdjust="spacingAndGlyphs" fill="#222">CD3pos</text>
<line x1="219.00" y1="201.06" x2="220.50" y2="201.06" stroke="#000" stroke-width="0.6"/>
<line x1="219.00" y1="197.64" x2="220.50" y2="197.64" stroke="#000" stroke-width="0.6"/>
<line x1="219.00" y1="195.22" x2="220.50" y2="195.22" stroke="#000" stroke-width="0.6"/>
<line x1="219.00" y1="193.34" x2="220.50" y2="193.34" stroke="#000" stroke-width="0.6"/>
<line x1="219.00" y1="191.80" x2="220.50" y2="191.80" stroke="#000" stroke-width="0.6"/>
<line x1="219.00" y1="190.51" x2="220.50" y2="190.51" stroke="#000" stroke-width="0.6"/>
<line x1="219.00" y1="189.38" x2="220.50" y2="189.38" stroke="#000" stroke-width="0.6"/>
<line x1="219.00" y1="188.39" x2="220.50" y2="188.39" stroke="#000" stroke-width="0.6"/>
<line x1="219.00" y1="181.54" x2="220.50" y2="181.54" stroke="#000" stroke-width="0.6"/>
<line x1="219.00" y1="178.05" x2="220.50" y2="178.05" stroke="#000" stroke-width="0.6"/>
<line x1="219.00" y1="175.58" x2="220.50" y2="175.58" stroke="#000" stroke-width="0.6"/>
<line x1="219.00" y1="173.66" x2="220.50" y2="173.66" stroke="#000" stroke-width="0.6"/>
<line x1="219.00" y1="172.09" x2="220.50" y2="172.09" stroke="#000" stroke-width="0.6"/>
<line x1="219.00" y1="170.77" x2="220.50" y2="170.77" stroke="#000" stroke-width="0.6"/>
<line x1="219.00" y1="169.62" x2="220.50" y2="169.62" stroke="#000" stroke-width="0.6"/>
<line x1="219.00" y1="168.61" x2="220.50" y2="168.61" stroke="#000" stroke-width="0.6"/>
<line x1="219.00" y1="162.01" x2="220.50" y2="162.01" stroke="#000" stroke-width="0.6"/>
<line x1="219.00" y1="158.68" x2="220.50" y2="158.68" stroke="#000" stroke-width="0.6"/>
<line x1="219.00" y1="156.32" x2="220.50" y2="156.32" stroke="#000" stroke-width="0.6"/>
<line x1="219.00" y1="154.49" x2="220.50" y2="154.49" stroke="#000" stroke-width="0.6"/>
<line x1="219.00" y1="152.99" x2="220.50" y2="152.99" stroke="#000" stroke-width="0.6"/>
<line x1="219.00" y1="151.73" x2="220.50" y2="151.73" stroke="#000" stroke-width="0.6"/>
<line x1="219.00" y1="150.63" x2="220.50" y2="150.63" stroke="#000" stroke-width="0.6"/>
<line x1="219.00" y1="149.66" x2="220.50" y2="149.66" stroke="#000" stroke-width="0.6"/>
<line x1="257.24" y1="224.30" x2="257.24" y2="225.80" stroke="#000" stroke-width="0.6"/>
<line x1="261.19" y1="224.30" x2="261.19" y2="225.80" stroke="#000" stroke-width="0.6"/>
<line x1="263.99" y1="224.30" x2="263.99" y2="225.80" stroke="#000" stroke-width="0.6"/>
<line x1="266.16" y1="224.30" x2="266.16" y2="225.80" stroke="#000" stroke-width="0.6"/>
<line x1="267.93" y1="224.30" x2="267.93" y2="225.80" stroke="#000" stroke-width="0.6"/>
<line x1="269.43" y1="224.30" x2="269.43" y2="225.80" stroke="#000" stroke-width="0.6"/>
<line x1="270.73" y1="224.30" x2="270.73" y2="225.80" stroke="#000" stroke-width="0.6"/>
<line x1="271.88" y1="224.30" x2="271.88" y2="225.80" stroke="#000" stroke-width="0.6"/>
<line x1="279.37" y1="224.30" x2="279.37" y2="225.80" stroke="#000" stroke-width="0.6"/>
<line x1="283.16" y1="224.30" x2="283.16" y2="225.80" stroke="#000" stroke-width="0.6"/>
<line x1="285.84" y1="224.30" x2="285.84" y2="225.80" stroke="#000" stroke-width="0.6"/>
<line x1="287.93" y1="224.30" x2="287.93" y2="225.80" stroke="#000" stroke-width="0.6"/>
<line x1="289.63" y1="224.30" x2="289.63" y2="225.80" stroke="#000" stroke-width="0.6"/>
<line x1="291.07" y1="224.30" x2="291.07" y2="225.80" stroke="#000" stroke-width="0.6"/>
<line x1="292.32" y1="224.30" x2="292.32" y2="225.80" stroke="#000" stroke-width="0.6"/>
<line x1="293.42" y1="224.30" x2="293.42" y2="225.80" stroke="#000" stroke-width="0.6"/>
<line x1="225.00" y1="224.30" x2="225.00" y2="225.80" stroke="#000" stroke-width="0.6"/>
<line x1="227.00" y1="224.30" x2="227.00" y2="225.80" stroke="#000" stroke-width="0.6"/>
<line x1="229.00" y1="224.30" x2="229.00" y2="225.80" stroke="#000" stroke-width="0.6"/>
<line x1="231.00" y1="224.30" x2="231.00" y2="225.80" stroke="#000" stroke-width="0.6"/>
<line x1="233.00" y1="224.30" x2="233.00" y2="225.80" stroke="#000" stroke-width="0.6"/>
<line x1="235.00" y1="224.30" x2="235.00" y2="225.80" stroke="#000" stroke-width="0.6"/>
<line x1="237.00" y1="224.30" x2="237.00" y2="225.80" stroke="#000" stroke-width="0.6"/>
<line x1="239.00" y1="224.30" x2="239.00" y2="225.80" stroke="#000" stroke-width="0.6"/>
<line x1="241.00" y1="224.30" x2="241.00" y2="225.80" stroke="#000" stroke-width="0.6"/>
<line x1="243.00" y1="224.30" x2="243.00" y2="225.80" stroke="#000" stroke-width="0.6"/>
<line x1="245.00" y1="224.30" x2="245.00" y2="225.80" stroke="#000" stroke-width="0.6"/>
<line x1="247.00" y1="224.30" x2="247.00" y2="225.80" stroke="#000" stroke-width="0.6"/>
<line x1="249.00" y1="224.30" x2="249.00" y2="225.80" stroke="#000" stroke-width="0.6"/>
<line x1="251.00" y1="224.30" x2="251.00" y2="225.80" stroke="#000" stroke-width="0.6"/>
<line x1="219.00" y1="207.50" x2="220.50" y2="207.50" stroke="#000" stroke-width="0.6"/>
<line x1="219.00" y1="209.50" x2="220.50" y2="209.50" stroke="#000" stroke-width="0.6"/>
<line x1="219.00" y1="211.50" x2="220.50" y2="211.50" stroke="#000" stroke-width="0.6"/>
<line x1="219.00" y1="213.50" x2="220.50" y2="213.50" stroke="#000" stroke-width="0.6"/>
<line x1="219.00" y1="215.50" x2="220.50" y2="215.50" stroke="#000" stroke-width="0.6"/>
<line x1="219.00" y1="217.50" x2="220.50" y2="217.50" stroke="#000" stroke-width="0.6"/>
<line x1="219.00" y1="219.50" x2="220.50" y2="219.50" stroke="#000" stroke-width="0.6"/>
<line x1="219.00" y1="221.50" x2="220.50" y2="221.50" stroke="#000" stroke-width="0.6"/>
<line x1="217.90" y1="148.80" x2="220.50" y2="148.80" stroke="#000" stroke-width="1.0"/>
<text x="216.60" y="151.10" font-size="6.6" text-anchor="end" fill="#262626">10<tspan font-size="4.2" dy="-3.0">5</tspan></text>
<line x1="217.90" y1="167.70" x2="220.50" y2="167.70" stroke="#000" stroke-width="1.0"/>
<text x="216.60" y="170.00" font-size="6.6" text-anchor="end" fill="#262626">10<tspan font-size="4.2" dy="-3.0">4</tspan></text>
<line x1="217.90" y1="187.50" x2="220.50" y2="187.50" stroke="#000" stroke-width="1.0"/>
<text x="216.60" y="189.80" font-size="6.6" text-anchor="end" fill="#262626">10<tspan font-size="4.2" dy="-3.0">3</tspan></text>
<line x1="217.90" y1="206.90" x2="220.50" y2="206.90" stroke="#000" stroke-width="1.0"/>
<text x="216.60" y="209.20" font-size="6.6" text-anchor="end" fill="#262626">10<tspan font-size="4.2" dy="-3.0">2</tspan></text>
<line x1="217.90" y1="214.40" x2="220.50" y2="214.40" stroke="#000" stroke-width="1.0"/>
<text x="216.60" y="216.70" font-size="6.6" text-anchor="end" fill="#262626">0</text>
<line x1="217.90" y1="221.80" x2="220.50" y2="221.80" stroke="#000" stroke-width="1.0"/>
<text x="216.60" y="224.10" font-size="6.6" text-anchor="end" fill="#262626">−10<tspan font-size="4.2" dy="-3.0">2</tspan></text>
<line x1="225.00" y1="224.30" x2="225.00" y2="226.90" stroke="#000" stroke-width="1.0"/>
<text x="225.00" y="235.80" font-size="6.6" text-anchor="middle" fill="#262626">−10<tspan font-size="4.2" dy="-3.0">3</tspan></text>
<line x1="239.60" y1="224.30" x2="239.60" y2="226.90" stroke="#000" stroke-width="1.0"/>
<text x="239.60" y="235.80" font-size="6.6" text-anchor="middle" fill="#262626">0</text>
<line x1="251.00" y1="224.30" x2="251.00" y2="226.90" stroke="#000" stroke-width="1.0"/>
<text x="251.00" y="235.80" font-size="6.6" text-anchor="middle" fill="#262626">10<tspan font-size="4.2" dy="-3.0">3</tspan></text>
<line x1="273.50" y1="224.30" x2="273.50" y2="226.90" stroke="#000" stroke-width="1.0"/>
<text x="273.50" y="235.80" font-size="6.6" text-anchor="middle" fill="#262626">10<tspan font-size="4.2" dy="-3.0">4</tspan></text>
<line x1="293.80" y1="224.30" x2="293.80" y2="226.90" stroke="#000" stroke-width="1.0"/>
<text x="293.80" y="235.80" font-size="6.6" text-anchor="middle" fill="#262626">10<tspan font-size="4.2" dy="-3.0">5</tspan></text>
<text x="254.07" y="247.80" font-size="8.2" textLength="13.12" lengthAdjust="spacingAndGlyphs" fill="#333">CD3</text>
<text x="198.60" y="194.83" font-size="8.2" textLength="24.75" lengthAdjust="spacingAndGlyphs" fill="#333" transform="rotate(-90 198.60 194.83)">Viability</text>
<text x="316.35" y="107.60" font-size="12.0" textLength="7.84" lengthAdjust="spacingAndGlyphs" font-weight="bold" fill="#000" stroke="#000" stroke-width="0.35">C</text>
<line x1="352.50" y1="128.00" x2="352.50" y2="246.80" stroke="#000" stroke-width="1.2"/>
<line x1="351.90" y1="246.20" x2="455.80" y2="246.20" stroke="#000" stroke-width="1.2"/>
<line x1="349.70" y1="133.00" x2="352.50" y2="133.00" stroke="#000" stroke-width="0.9"/>
<text x="332.27" y="135.20" font-size="6.3" textLength="14.38" lengthAdjust="spacingAndGlyphs" fill="#3a3a3a">2000</text>
<line x1="349.70" y1="159.90" x2="352.50" y2="159.90" stroke="#000" stroke-width="0.9"/>
<text x="332.10" y="162.10" font-size="6.3" textLength="14.55" lengthAdjust="spacingAndGlyphs" fill="#3a3a3a">1500</text>
<line x1="349.70" y1="187.00" x2="352.50" y2="187.00" stroke="#000" stroke-width="0.9"/>
<text x="332.10" y="189.20" font-size="6.3" textLength="14.55" lengthAdjust="spacingAndGlyphs" fill="#3a3a3a">1000</text>
<line x1="349.70" y1="213.20" x2="352.50" y2="213.20" stroke="#000" stroke-width="0.9"/>
<text x="335.79" y="215.40" font-size="6.3" textLength="10.87" lengthAdjust="spacingAndGlyphs" fill="#3a3a3a">500</text>
<line x1="349.70" y1="239.90" x2="352.50" y2="239.90" stroke="#000" stroke-width="0.9"/>
<text x="342.67" y="242.10" font-size="6.3" textLength="4.01" lengthAdjust="spacingAndGlyphs" fill="#3a3a3a">0</text>
<text x="326.00" y="219.66" font-size="7.6" textLength="65.89" lengthAdjust="spacingAndGlyphs" fill="#333" transform="rotate(-90 326.00 219.66)">CD45+CD3 (× 10<tspan font-size="4.4" dy="-2.6">6</tspan><tspan dy="2.6">/L)</tspan></text>
<text x="373.20" y="120.50" font-size="8.7" textLength="62.69" lengthAdjust="spacingAndGlyphs" fill="#222">CD3 T-cell counts</text>
<text x="357.07" y="131.90" font-size="6.7" textLength="52.86" lengthAdjust="spacingAndGlyphs" fill="#333">Wilcoxon <tspan font-style="italic">P</tspan> = .012</text>
<line x1="380.70" y1="205.00" x2="380.70" y2="237.90" stroke="#6f6f6f" stroke-width="1.1"/>
<rect x="363.55" y="219.55" width="34.40" height="11.70" fill="#aec186" stroke="#98a87a" stroke-width="0.7"/>
<line x1="363.20" y1="223.70" x2="398.30" y2="223.70" stroke="#1a2410" stroke-width="1.3"/>
<circle cx="371.70" cy="205.00" r="1.2" fill="#000"/>
<circle cx="373.70" cy="210.70" r="1.2" fill="#000"/>
<circle cx="374.00" cy="218.40" r="1.2" fill="#000"/>
<circle cx="388.20" cy="217.00" r="1.2" fill="#000"/>
<circle cx="386.70" cy="219.20" r="1.2" fill="#000"/>
<circle cx="381.20" cy="220.70" r="1.2" fill="#000"/>
<circle cx="389.30" cy="221.40" r="1.2" fill="#000"/>
<circle cx="373.20" cy="222.90" r="1.2" fill="#000"/>
<circle cx="378.50" cy="222.90" r="1.2" fill="#000"/>
<circle cx="371.70" cy="225.20" r="1.2" fill="#000"/>
<circle cx="389.00" cy="224.40" r="1.2" fill="#000"/>
<circle cx="372.50" cy="227.40" r="1.2" fill="#000"/>
<circle cx="385.20" cy="230.40" r="1.2" fill="#000"/>
<circle cx="384.80" cy="231.90" r="1.2" fill="#000"/>
<circle cx="380.00" cy="231.90" r="1.2" fill="#000"/>
<circle cx="371.00" cy="234.50" r="1.2" fill="#000"/>
<circle cx="382.20" cy="236.40" r="1.2" fill="#000"/>
<circle cx="379.20" cy="238.20" r="1.2" fill="#000"/>
<circle cx="378.80" cy="160.30" r="1.2" fill="#000"/>
<circle cx="376.00" cy="226.00" r="1.2" fill="#000"/>
<line x1="380.70" y1="246.20" x2="380.70" y2="248.60" stroke="#000" stroke-width="0.9"/>
<text x="371.41" y="244.20" font-size="5.7" textLength="18.81" lengthAdjust="spacingAndGlyphs" fill="#333">n = 20</text>
<text x="357.86" y="257.50" font-size="6.8" textLength="44.98" lengthAdjust="spacingAndGlyphs" fill="#333">Nonresponders</text>
<line x1="427.70" y1="180.80" x2="427.70" y2="238.00" stroke="#6f6f6f" stroke-width="1.1"/>
<rect x="410.35" y="202.45" width="34.70" height="23.20" fill="#34b033" stroke="#2a8f2a" stroke-width="0.7"/>
<line x1="410.00" y1="217.30" x2="445.40" y2="217.30" stroke="#0a260a" stroke-width="1.3"/>
<circle cx="426.50" cy="132.90" r="1.2" fill="#000"/>
<circle cx="425.40" cy="140.00" r="1.2" fill="#000"/>
<circle cx="425.00" cy="146.30" r="1.2" fill="#000"/>
<circle cx="425.00" cy="164.00" r="1.2" fill="#000"/>
<circle cx="418.80" cy="180.80" r="1.2" fill="#000"/>
<circle cx="433.30" cy="180.80" r="1.2" fill="#000"/>
<circle cx="430.80" cy="186.50" r="1.2" fill="#000"/>
<circle cx="429.80" cy="188.50" r="1.2" fill="#000"/>
<circle cx="426.70" cy="191.30" r="1.2" fill="#000"/>
<circle cx="435.80" cy="190.00" r="1.2" fill="#000"/>
<circle cx="421.50" cy="195.80" r="1.2" fill="#000"/>
<circle cx="428.10" cy="197.50" r="1.2" fill="#000"/>
<circle cx="421.90" cy="200.00" r="1.2" fill="#000"/>
<circle cx="431.30" cy="202.50" r="1.2" fill="#000"/>
<circle cx="435.00" cy="201.70" r="1.2" fill="#000"/>
<circle cx="427.10" cy="204.20" r="1.2" fill="#000"/>
<circle cx="422.90" cy="205.20" r="1.2" fill="#000"/>
<circle cx="418.80" cy="208.30" r="1.2" fill="#000"/>
<circle cx="430.20" cy="210.80" r="1.2" fill="#000"/>
<circle cx="424.00" cy="212.50" r="1.2" fill="#000"/>
<circle cx="427.10" cy="214.60" r="1.2" fill="#000"/>
<circle cx="420.80" cy="226.00" r="1.2" fill="#000"/>
<circle cx="419.80" cy="231.70" r="1.2" fill="#000"/>
<circle cx="429.20" cy="230.20" r="1.2" fill="#000"/>
<circle cx="432.30" cy="232.30" r="1.2" fill="#000"/>
<circle cx="437.10" cy="236.50" r="1.2" fill="#000"/>
<circle cx="429.20" cy="235.40" r="1.2" fill="#000"/>
<circle cx="427.24" cy="221.67" r="1.2" fill="#000"/>
<circle cx="434.79" cy="219.04" r="1.2" fill="#000"/>
<circle cx="428.13" cy="222.45" r="1.2" fill="#000"/>
<circle cx="422.95" cy="220.33" r="1.2" fill="#000"/>
<circle cx="430.08" cy="228.20" r="1.2" fill="#000"/>
<circle cx="421.51" cy="214.50" r="1.2" fill="#000"/>
<circle cx="421.45" cy="228.67" r="1.2" fill="#000"/>
<circle cx="431.10" cy="207.17" r="1.2" fill="#000"/>
<circle cx="435.72" cy="233.01" r="1.2" fill="#000"/>
<circle cx="430.46" cy="223.24" r="1.2" fill="#000"/>
<circle cx="422.52" cy="206.42" r="1.2" fill="#000"/>
<circle cx="428.45" cy="207.67" r="1.2" fill="#000"/>
<circle cx="423.04" cy="212.77" r="1.2" fill="#000"/>
<circle cx="420.48" cy="218.99" r="1.2" fill="#000"/>
<circle cx="427.05" cy="229.59" r="1.2" fill="#000"/>
<circle cx="428.31" cy="223.93" r="1.2" fill="#000"/>
<circle cx="428.00" cy="224.55" r="1.2" fill="#000"/>
<circle cx="427.32" cy="213.79" r="1.2" fill="#000"/>
<circle cx="435.96" cy="233.88" r="1.2" fill="#000"/>
<circle cx="433.44" cy="225.82" r="1.2" fill="#000"/>
<circle cx="425.04" cy="212.43" r="1.2" fill="#000"/>
<circle cx="424.62" cy="207.97" r="1.2" fill="#000"/>
<circle cx="432.26" cy="217.21" r="1.2" fill="#000"/>
<circle cx="433.55" cy="216.82" r="1.2" fill="#000"/>
<circle cx="435.33" cy="229.72" r="1.2" fill="#000"/>
<circle cx="420.01" cy="211.87" r="1.2" fill="#000"/>
<line x1="427.70" y1="246.20" x2="427.70" y2="248.60" stroke="#000" stroke-width="0.9"/>
<text x="418.40" y="244.20" font-size="5.7" textLength="18.84" lengthAdjust="spacingAndGlyphs" fill="#333">n = 53</text>
<text x="410.48" y="257.50" font-size="6.8" textLength="33.94" lengthAdjust="spacingAndGlyphs" fill="#333">Responders</text>
<text x="43.03" y="284.50" font-size="12.0" textLength="9.42" lengthAdjust="spacingAndGlyphs" font-weight="bold" fill="#000" stroke="#000" stroke-width="0.35">D</text>
<line x1="79.50" y1="303.00" x2="79.50" y2="414.00" stroke="#000" stroke-width="1.2"/>
<line x1="78.90" y1="413.40" x2="180.00" y2="413.40" stroke="#000" stroke-width="1.2"/>
<line x1="76.70" y1="330.30" x2="79.50" y2="330.30" stroke="#000" stroke-width="0.9"/>
<text x="59.52" y="332.50" font-size="6.3" textLength="13.92" lengthAdjust="spacingAndGlyphs" fill="#3a3a3a">1000</text>
<line x1="76.70" y1="368.40" x2="79.50" y2="368.40" stroke="#000" stroke-width="0.9"/>
<text x="63.05" y="370.60" font-size="6.3" textLength="10.39" lengthAdjust="spacingAndGlyphs" fill="#3a3a3a">500</text>
<line x1="76.70" y1="406.20" x2="79.50" y2="406.20" stroke="#000" stroke-width="0.9"/>
<text x="69.63" y="408.40" font-size="6.3" textLength="3.84" lengthAdjust="spacingAndGlyphs" fill="#3a3a3a">0</text>
<text x="53.70" y="391.35" font-size="7.6" textLength="64.78" lengthAdjust="spacingAndGlyphs" fill="#333" transform="rotate(-90 53.70 391.35)">CD45+CD8 (× 10<tspan font-size="4.4" dy="-2.6">6</tspan><tspan dy="2.6">/L)</tspan></text>
<text x="99.59" y="296.90" font-size="8.7" textLength="64.00" lengthAdjust="spacingAndGlyphs" fill="#222">CD8 T-cell counts</text>
<text x="82.77" y="309.50" font-size="6.7" textLength="52.72" lengthAdjust="spacingAndGlyphs" fill="#333">Wilcoxon <tspan font-style="italic">P</tspan> = .024</text>
<line x1="107.60" y1="379.00" x2="107.60" y2="405.00" stroke="#6f6f6f" stroke-width="1.1"/>
<rect x="90.45" y="390.85" width="34.80" height="8.40" fill="#aec186" stroke="#98a87a" stroke-width="0.7"/>
<line x1="90.10" y1="398.30" x2="125.60" y2="398.30" stroke="#1a2410" stroke-width="1.3"/>
<circle cx="116.00" cy="339.60" r="1.2" fill="#000"/>
<circle cx="98.60" cy="378.40" r="1.2" fill="#000"/>
<circle cx="104.40" cy="386.00" r="1.2" fill="#000"/>
<circle cx="102.60" cy="389.60" r="1.2" fill="#000"/>
<circle cx="109.60" cy="391.00" r="1.2" fill="#000"/>
<circle cx="115.00" cy="389.60" r="1.2" fill="#000"/>
<circle cx="106.00" cy="395.60" r="1.2" fill="#000"/>
<circle cx="107.00" cy="397.00" r="1.2" fill="#000"/>
<circle cx="115.00" cy="395.60" r="1.2" fill="#000"/>
<circle cx="99.00" cy="399.00" r="1.2" fill="#000"/>
<circle cx="102.00" cy="399.00" r="1.2" fill="#000"/>
<circle cx="110.00" cy="399.00" r="1.2" fill="#000"/>
<circle cx="103.00" cy="402.00" r="1.2" fill="#000"/>
<circle cx="113.00" cy="402.00" r="1.2" fill="#000"/>
<circle cx="106.00" cy="404.00" r="1.2" fill="#000"/>
<circle cx="101.00" cy="405.00" r="1.2" fill="#000"/>
<circle cx="108.60" cy="401.00" r="1.2" fill="#000"/>
<circle cx="111.00" cy="393.00" r="1.2" fill="#000"/>
<circle cx="104.00" cy="392.00" r="1.2" fill="#000"/>
<circle cx="117.00" cy="397.00" r="1.2" fill="#000"/>
<line x1="107.60" y1="413.40" x2="107.60" y2="415.80" stroke="#000" stroke-width="0.9"/>
<text x="98.31" y="411.20" font-size="5.7" textLength="18.81" lengthAdjust="spacingAndGlyphs" fill="#333">n = 20</text>
<text x="85.27" y="425.20" font-size="6.8" textLength="44.57" lengthAdjust="spacingAndGlyphs" fill="#333">Nonresponders</text>
<line x1="155.00" y1="345.10" x2="155.00" y2="405.00" stroke="#6f6f6f" stroke-width="1.1"/>
<rect x="137.75" y="377.65" width="33.70" height="20.90" fill="#34b033" stroke="#2a8f2a" stroke-width="0.7"/>
<line x1="137.40" y1="388.60" x2="171.80" y2="388.60" stroke="#0a260a" stroke-width="1.3"/>
<circle cx="151.50" cy="303.10" r="1.2" fill="#000"/>
<circle cx="162.90" cy="323.50" r="1.2" fill="#000"/>
<circle cx="153.30" cy="342.60" r="1.2" fill="#000"/>
<circle cx="162.80" cy="345.10" r="1.2" fill="#000"/>
<circle cx="159.00" cy="347.30" r="1.2" fill="#000"/>
<circle cx="159.40" cy="367.00" r="1.2" fill="#000"/>
<circle cx="163.50" cy="367.70" r="1.2" fill="#000"/>
<circle cx="145.50" cy="372.40" r="1.2" fill="#000"/>
<circle cx="152.30" cy="372.70" r="1.2" fill="#000"/>
<circle cx="156.10" cy="372.40" r="1.2" fill="#000"/>
<circle cx="156.60" cy="374.10" r="1.2" fill="#000"/>
<circle cx="157.50" cy="375.80" r="1.2" fill="#000"/>
<circle cx="148.97" cy="395.93" r="1.2" fill="#000"/>
<circle cx="157.43" cy="390.46" r="1.2" fill="#000"/>
<circle cx="149.89" cy="398.61" r="1.2" fill="#000"/>
<circle cx="160.54" cy="391.32" r="1.2" fill="#000"/>
<circle cx="155.09" cy="384.14" r="1.2" fill="#000"/>
<circle cx="146.06" cy="387.65" r="1.2" fill="#000"/>
<circle cx="156.54" cy="379.80" r="1.2" fill="#000"/>
<circle cx="160.29" cy="384.04" r="1.2" fill="#000"/>
<circle cx="150.19" cy="379.10" r="1.2" fill="#000"/>
<circle cx="163.96" cy="397.21" r="1.2" fill="#000"/>
<circle cx="161.75" cy="394.01" r="1.2" fill="#000"/>
<circle cx="146.61" cy="386.55" r="1.2" fill="#000"/>
<circle cx="154.96" cy="381.01" r="1.2" fill="#000"/>
<circle cx="163.14" cy="387.58" r="1.2" fill="#000"/>
<circle cx="148.79" cy="399.26" r="1.2" fill="#000"/>
<circle cx="148.25" cy="402.13" r="1.2" fill="#000"/>
<circle cx="154.16" cy="392.35" r="1.2" fill="#000"/>
<circle cx="152.17" cy="390.60" r="1.2" fill="#000"/>
<circle cx="149.36" cy="378.97" r="1.2" fill="#000"/>
<circle cx="161.59" cy="384.11" r="1.2" fill="#000"/>
<circle cx="160.04" cy="383.42" r="1.2" fill="#000"/>
<circle cx="163.44" cy="401.24" r="1.2" fill="#000"/>
<circle cx="159.59" cy="397.83" r="1.2" fill="#000"/>
<circle cx="156.45" cy="396.97" r="1.2" fill="#000"/>
<circle cx="148.20" cy="390.38" r="1.2" fill="#000"/>
<circle cx="160.89" cy="383.23" r="1.2" fill="#000"/>
<circle cx="162.62" cy="401.08" r="1.2" fill="#000"/>
<circle cx="153.37" cy="387.50" r="1.2" fill="#000"/>
<circle cx="154.12" cy="388.03" r="1.2" fill="#000"/>
<circle cx="163.91" cy="388.05" r="1.2" fill="#000"/>
<circle cx="146.48" cy="380.42" r="1.2" fill="#000"/>
<circle cx="158.93" cy="403.81" r="1.2" fill="#000"/>
<circle cx="154.93" cy="390.78" r="1.2" fill="#000"/>
<circle cx="155.91" cy="397.45" r="1.2" fill="#000"/>
<circle cx="150.00" cy="393.83" r="1.2" fill="#000"/>
<circle cx="156.02" cy="394.19" r="1.2" fill="#000"/>
<circle cx="149.25" cy="382.42" r="1.2" fill="#000"/>
<circle cx="152.27" cy="402.10" r="1.2" fill="#000"/>
<circle cx="152.24" cy="393.53" r="1.2" fill="#000"/>
<circle cx="151.52" cy="380.69" r="1.2" fill="#000"/>
<circle cx="147.18" cy="399.16" r="1.2" fill="#000"/>
<line x1="155.00" y1="413.40" x2="155.00" y2="415.80" stroke="#000" stroke-width="0.9"/>
<text x="145.70" y="411.20" font-size="5.7" textLength="18.84" lengthAdjust="spacingAndGlyphs" fill="#333">n = 53</text>
<text x="137.18" y="425.20" font-size="6.8" textLength="34.35" lengthAdjust="spacingAndGlyphs" fill="#333">Responders</text>
<text x="199.08" y="284.50" font-size="12.0" textLength="7.13" lengthAdjust="spacingAndGlyphs" font-weight="bold" fill="#000" stroke="#000" stroke-width="0.35">E</text>
<line x1="224.30" y1="311.60" x2="224.30" y2="413.70" stroke="#000" stroke-width="1.2"/>
<line x1="223.70" y1="413.10" x2="342.50" y2="413.10" stroke="#000" stroke-width="1.2"/>
<line x1="221.50" y1="313.80" x2="224.30" y2="313.80" stroke="#000" stroke-width="0.9"/>
<text x="210.46" y="316.00" font-size="6.3" textLength="6.78" lengthAdjust="spacingAndGlyphs" fill="#3a3a3a">40</text>
<line x1="221.50" y1="336.80" x2="224.30" y2="336.80" stroke="#000" stroke-width="0.9"/>
<text x="210.36" y="339.00" font-size="6.3" textLength="6.88" lengthAdjust="spacingAndGlyphs" fill="#3a3a3a">30</text>
<line x1="221.50" y1="359.90" x2="224.30" y2="359.90" stroke="#000" stroke-width="0.9"/>
<text x="210.29" y="362.10" font-size="6.3" textLength="6.96" lengthAdjust="spacingAndGlyphs" fill="#3a3a3a">20</text>
<line x1="221.50" y1="383.00" x2="224.30" y2="383.00" stroke="#000" stroke-width="0.9"/>
<text x="210.11" y="385.20" font-size="6.3" textLength="7.14" lengthAdjust="spacingAndGlyphs" fill="#3a3a3a">10</text>
<line x1="221.50" y1="405.90" x2="224.30" y2="405.90" stroke="#000" stroke-width="0.9"/>
<text x="213.54" y="408.10" font-size="6.3" textLength="3.72" lengthAdjust="spacingAndGlyphs" fill="#3a3a3a">0</text>
<text x="206.00" y="401.35" font-size="7.8" textLength="78.95" lengthAdjust="spacingAndGlyphs" fill="#333" transform="rotate(-90 206.00 401.35)">Treg cells/CD4+ T cells (%)</text>
<text x="239.94" y="297.60" font-size="8.7" textLength="70.16" lengthAdjust="spacingAndGlyphs" fill="#222">Frequency of Tregs</text>
<text x="227.37" y="314.30" font-size="6.7" textLength="53.44" lengthAdjust="spacingAndGlyphs" fill="#333">Wilcoxon <tspan font-style="italic">P</tspan> = .029</text>
<line x1="256.50" y1="343.10" x2="256.50" y2="400.10" stroke="#6f6f6f" stroke-width="1.1"/>
<rect x="236.95" y="370.45" width="39.70" height="19.60" fill="#aec186" stroke="#98a87a" stroke-width="0.7"/>
<line x1="236.60" y1="382.30" x2="277.00" y2="382.30" stroke="#1a2410" stroke-width="1.3"/>
<circle cx="257.30" cy="317.10" r="1.05" fill="#000"/>
<circle cx="260.80" cy="342.40" r="1.05" fill="#000"/>
<circle cx="247.80" cy="346.10" r="1.05" fill="#000"/>
<circle cx="255.70" cy="346.70" r="1.05" fill="#000"/>
<circle cx="252.90" cy="353.50" r="1.05" fill="#000"/>
<circle cx="247.00" cy="356.70" r="1.05" fill="#000"/>
<circle cx="267.60" cy="359.00" r="1.05" fill="#000"/>
<circle cx="265.50" cy="360.30" r="1.05" fill="#000"/>
<circle cx="253.00" cy="361.00" r="1.05" fill="#000"/>
<circle cx="262.90" cy="366.20" r="1.05" fill="#000"/>
<circle cx="254.20" cy="369.30" r="1.05" fill="#000"/>
<circle cx="260.50" cy="370.90" r="1.05" fill="#000"/>
<circle cx="266.80" cy="370.10" r="1.05" fill="#000"/>
<circle cx="267.60" cy="371.40" r="1.05" fill="#000"/>
<circle cx="253.40" cy="376.10" r="1.05" fill="#000"/>
<circle cx="250.20" cy="378.00" r="1.05" fill="#000"/>
<circle cx="255.00" cy="378.00" r="1.05" fill="#000"/>
<circle cx="258.10" cy="379.10" r="1.05" fill="#000"/>
<circle cx="261.30" cy="377.20" r="1.05" fill="#000"/>
<circle cx="262.40" cy="378.40" r="1.05" fill="#000"/>
<circle cx="258.90" cy="382.00" r="1.05" fill="#000"/>
<circle cx="266.50" cy="383.10" r="1.05" fill="#000"/>
<circle cx="246.20" cy="386.00" r="1.05" fill="#000"/>
<circle cx="261.30" cy="386.00" r="1.05" fill="#000"/>
<circle cx="262.10" cy="386.70" r="1.05" fill="#000"/>
<circle cx="263.60" cy="387.50" r="1.05" fill="#000"/>
<circle cx="252.60" cy="389.10" r="1.05" fill="#000"/>
<circle cx="254.20" cy="389.90" r="1.05" fill="#000"/>
<circle cx="258.10" cy="389.10" r="1.05" fill="#000"/>
<circle cx="257.30" cy="391.50" r="1.05" fill="#000"/>
<circle cx="259.70" cy="392.30" r="1.05" fill="#000"/>
<circle cx="254.20" cy="393.10" r="1.05" fill="#000"/>
<circle cx="260.80" cy="393.90" r="1.05" fill="#000"/>
<circle cx="251.80" cy="395.40" r="1.05" fill="#000"/>
<circle cx="251.00" cy="396.70" r="1.05" fill="#000"/>
<circle cx="257.30" cy="396.20" r="1.05" fill="#000"/>
<circle cx="261.30" cy="397.80" r="1.05" fill="#000"/>
<circle cx="251.80" cy="401.00" r="1.05" fill="#000"/>
<circle cx="257.30" cy="400.50" r="1.05" fill="#000"/>
<circle cx="249.00" cy="383.00" r="1.05" fill="#000"/>
<circle cx="264.00" cy="392.00" r="1.05" fill="#000"/>
<circle cx="256.00" cy="384.00" r="1.05" fill="#000"/>
<circle cx="252.00" cy="381.00" r="1.05" fill="#000"/>
<circle cx="259.00" cy="398.00" r="1.05" fill="#000"/>
<circle cx="248.00" cy="391.00" r="1.05" fill="#000"/>
<line x1="256.50" y1="413.10" x2="256.50" y2="415.50" stroke="#000" stroke-width="0.9"/>
<text x="246.37" y="411.00" font-size="5.7" textLength="20.49" lengthAdjust="spacingAndGlyphs" fill="#333">n = 45</text>
<text x="234.47" y="426.60" font-size="6.8" textLength="44.57" lengthAdjust="spacingAndGlyphs" fill="#333">Nonresponders</text>
<line x1="310.70" y1="360.40" x2="310.70" y2="400.10" stroke="#6f6f6f" stroke-width="1.1"/>
<rect x="291.45" y="380.35" width="39.00" height="12.00" fill="#34b033" stroke="#2a8f2a" stroke-width="0.7"/>
<line x1="291.10" y1="387.40" x2="330.80" y2="387.40" stroke="#0a260a" stroke-width="1.3"/>
<circle cx="300.60" cy="333.10" r="1.05" fill="#000"/>
<circle cx="311.40" cy="346.00" r="1.05" fill="#000"/>
<circle cx="307.20" cy="347.80" r="1.05" fill="#000"/>
<circle cx="301.80" cy="352.40" r="1.05" fill="#000"/>
<circle cx="306.20" cy="351.40" r="1.05" fill="#000"/>
<circle cx="306.40" cy="358.10" r="1.05" fill="#000"/>
<circle cx="317.20" cy="359.70" r="1.05" fill="#000"/>
<circle cx="310.80" cy="360.90" r="1.05" fill="#000"/>
<circle cx="307.70" cy="363.00" r="1.05" fill="#000"/>
<circle cx="311.80" cy="363.40" r="1.05" fill="#000"/>
<circle cx="321.20" cy="367.20" r="1.05" fill="#000"/>
<circle cx="314.30" cy="368.70" r="1.05" fill="#000"/>
<circle cx="311.20" cy="370.50" r="1.05" fill="#000"/>
<circle cx="314.30" cy="373.00" r="1.05" fill="#000"/>
<circle cx="317.20" cy="374.30" r="1.05" fill="#000"/>
<circle cx="305.60" cy="375.50" r="1.05" fill="#000"/>
<circle cx="301.80" cy="378.60" r="1.05" fill="#000"/>
<circle cx="306.80" cy="378.90" r="1.05" fill="#000"/>
<circle cx="320.50" cy="379.30" r="1.05" fill="#000"/>
<circle cx="301.20" cy="398.30" r="1.05" fill="#000"/>
<circle cx="306.80" cy="400.40" r="1.05" fill="#000"/>
<circle cx="314.90" cy="401.70" r="1.05" fill="#000"/>
<circle cx="321.20" cy="401.10" r="1.05" fill="#000"/>
<circle cx="310.00" cy="399.20" r="1.05" fill="#000"/>
<circle cx="308.08" cy="383.32" r="1.05" fill="#000"/>
<circle cx="313.71" cy="398.28" r="1.05" fill="#000"/>
<circle cx="303.57" cy="391.06" r="1.05" fill="#000"/>
<circle cx="307.04" cy="387.67" r="1.05" fill="#000"/>
<circle cx="310.17" cy="395.62" r="1.05" fill="#000"/>
<circle cx="303.84" cy="393.23" r="1.05" fill="#000"/>
<circle cx="314.15" cy="383.10" r="1.05" fill="#000"/>
<circle cx="305.99" cy="383.00" r="1.05" fill="#000"/>
<circle cx="310.44" cy="393.09" r="1.05" fill="#000"/>
<circle cx="307.72" cy="392.42" r="1.05" fill="#000"/>
<circle cx="319.97" cy="380.66" r="1.05" fill="#000"/>
<circle cx="314.52" cy="397.34" r="1.05" fill="#000"/>
<circle cx="313.08" cy="394.52" r="1.05" fill="#000"/>
<circle cx="307.77" cy="394.65" r="1.05" fill="#000"/>
<circle cx="316.79" cy="382.48" r="1.05" fill="#000"/>
<circle cx="316.79" cy="398.26" r="1.05" fill="#000"/>
<circle cx="305.23" cy="381.07" r="1.05" fill="#000"/>
<circle cx="307.84" cy="392.16" r="1.05" fill="#000"/>
<circle cx="317.97" cy="383.64" r="1.05" fill="#000"/>
<circle cx="319.11" cy="386.03" r="1.05" fill="#000"/>
<circle cx="304.10" cy="382.92" r="1.05" fill="#000"/>
<circle cx="308.22" cy="393.27" r="1.05" fill="#000"/>
<circle cx="306.11" cy="389.87" r="1.05" fill="#000"/>
<circle cx="310.09" cy="382.70" r="1.05" fill="#000"/>
<circle cx="311.71" cy="389.17" r="1.05" fill="#000"/>
<circle cx="310.21" cy="394.89" r="1.05" fill="#000"/>
<circle cx="305.26" cy="390.80" r="1.05" fill="#000"/>
<circle cx="316.86" cy="386.44" r="1.05" fill="#000"/>
<circle cx="305.52" cy="382.78" r="1.05" fill="#000"/>
<circle cx="312.43" cy="397.25" r="1.05" fill="#000"/>
<circle cx="311.63" cy="397.49" r="1.05" fill="#000"/>
<circle cx="311.02" cy="393.21" r="1.05" fill="#000"/>
<circle cx="308.35" cy="382.55" r="1.05" fill="#000"/>
<circle cx="317.16" cy="394.99" r="1.05" fill="#000"/>
<circle cx="305.85" cy="392.18" r="1.05" fill="#000"/>
<circle cx="301.69" cy="399.23" r="1.05" fill="#000"/>
<circle cx="316.24" cy="384.84" r="1.05" fill="#000"/>
<circle cx="302.74" cy="393.60" r="1.05" fill="#000"/>
<circle cx="314.43" cy="388.21" r="1.05" fill="#000"/>
<circle cx="315.45" cy="385.52" r="1.05" fill="#000"/>
<circle cx="313.00" cy="385.54" r="1.05" fill="#000"/>
<circle cx="319.13" cy="397.95" r="1.05" fill="#000"/>
<circle cx="305.27" cy="387.60" r="1.05" fill="#000"/>
<circle cx="317.89" cy="394.64" r="1.05" fill="#000"/>
<circle cx="304.94" cy="384.29" r="1.05" fill="#000"/>
<circle cx="311.71" cy="383.61" r="1.05" fill="#000"/>
<circle cx="312.19" cy="393.33" r="1.05" fill="#000"/>
<circle cx="314.72" cy="391.34" r="1.05" fill="#000"/>
<circle cx="312.59" cy="383.10" r="1.05" fill="#000"/>
<circle cx="309.11" cy="393.52" r="1.05" fill="#000"/>
<circle cx="314.48" cy="382.37" r="1.05" fill="#000"/>
<circle cx="318.43" cy="394.26" r="1.05" fill="#000"/>
<circle cx="310.88" cy="391.05" r="1.05" fill="#000"/>
<circle cx="311.20" cy="397.87" r="1.05" fill="#000"/>
<circle cx="311.59" cy="391.79" r="1.05" fill="#000"/>
<circle cx="309.78" cy="398.83" r="1.05" fill="#000"/>
<circle cx="306.74" cy="392.99" r="1.05" fill="#000"/>
<circle cx="305.96" cy="383.54" r="1.05" fill="#000"/>
<circle cx="309.66" cy="381.43" r="1.05" fill="#000"/>
<circle cx="301.47" cy="390.20" r="1.05" fill="#000"/>
<circle cx="306.77" cy="393.63" r="1.05" fill="#000"/>
<circle cx="308.11" cy="398.44" r="1.05" fill="#000"/>
<circle cx="314.92" cy="383.04" r="1.05" fill="#000"/>
<circle cx="308.38" cy="397.08" r="1.05" fill="#000"/>
<circle cx="303.11" cy="397.38" r="1.05" fill="#000"/>
<circle cx="304.31" cy="385.59" r="1.05" fill="#000"/>
<circle cx="307.01" cy="395.95" r="1.05" fill="#000"/>
<circle cx="308.56" cy="393.83" r="1.05" fill="#000"/>
<circle cx="311.45" cy="391.88" r="1.05" fill="#000"/>
<circle cx="317.46" cy="384.66" r="1.05" fill="#000"/>
<circle cx="313.57" cy="381.44" r="1.05" fill="#000"/>
<circle cx="316.68" cy="389.90" r="1.05" fill="#000"/>
<circle cx="320.56" cy="381.09" r="1.05" fill="#000"/>
<circle cx="307.21" cy="396.52" r="1.05" fill="#000"/>
<circle cx="309.19" cy="380.54" r="1.05" fill="#000"/>
<circle cx="302.56" cy="395.20" r="1.05" fill="#000"/>
<circle cx="314.33" cy="386.45" r="1.05" fill="#000"/>
<circle cx="320.34" cy="387.33" r="1.05" fill="#000"/>
<line x1="310.70" y1="413.10" x2="310.70" y2="415.50" stroke="#000" stroke-width="0.9"/>
<text x="299.29" y="411.00" font-size="5.7" textLength="23.10" lengthAdjust="spacingAndGlyphs" fill="#333">n = 102</text>
<text x="293.38" y="426.60" font-size="6.8" textLength="34.15" lengthAdjust="spacingAndGlyphs" fill="#333">Responders</text>
<text x="405.87" y="309.80" font-size="7.0" textLength="27.76" lengthAdjust="spacingAndGlyphs" fill="#222">CD4 cells</text>
<line x1="380.30" y1="313.50" x2="460.40" y2="313.50" stroke="#1a1a1a" stroke-width="1.0"/>
<rect x="380.50" y="320.50" width="80.00" height="84.00" fill="none" stroke="#000" stroke-width="1.15"/>
<g fill="#4a50b8" opacity="0.5"><circle cx="406.4" cy="387.4" r="0.55"/><circle cx="410.1" cy="387.1" r="0.55"/><circle cx="414.3" cy="387.2" r="0.55"/><circle cx="420.1" cy="383.3" r="0.55"/><circle cx="406.6" cy="383.9" r="0.55"/><circle cx="413.1" cy="385.4" r="0.55"/><circle cx="408.0" cy="387.3" r="0.55"/><circle cx="410.6" cy="392.7" r="0.55"/><circle cx="413.8" cy="381.2" r="0.55"/><circle cx="407.8" cy="384.1" r="0.55"/><circle cx="410.6" cy="389.9" r="0.55"/><circle cx="408.0" cy="380.1" r="0.55"/><circle cx="408.8" cy="385.1" r="0.55"/><circle cx="416.6" cy="383.2" r="0.55"/><circle cx="411.6" cy="385.9" r="0.55"/><circle cx="409.8" cy="386.2" r="0.55"/><circle cx="422.5" cy="383.6" r="0.55"/><circle cx="413.3" cy="385.3" r="0.55"/><circle cx="415.9" cy="383.9" r="0.55"/><circle cx="418.9" cy="382.1" r="0.55"/><circle cx="415.3" cy="385.8" r="0.55"/><circle cx="413.8" cy="384.1" r="0.55"/><circle cx="410.1" cy="388.2" r="0.55"/><circle cx="407.0" cy="385.2" r="0.55"/><circle cx="418.1" cy="387.2" r="0.55"/><circle cx="408.1" cy="389.6" r="0.55"/><circle cx="414.1" cy="386.5" r="0.55"/><circle cx="411.9" cy="386.0" r="0.55"/><circle cx="411.2" cy="387.1" r="0.55"/><circle cx="410.9" cy="384.2" r="0.55"/><circle cx="415.2" cy="389.9" r="0.55"/><circle cx="410.9" cy="389.5" r="0.55"/><circle cx="409.4" cy="385.2" r="0.55"/><circle cx="412.0" cy="386.8" r="0.55"/><circle cx="407.2" cy="381.9" r="0.55"/><circle cx="406.6" cy="388.7" r="0.55"/><circle cx="410.4" cy="389.0" r="0.55"/><circle cx="419.4" cy="387.2" r="0.55"/><circle cx="423.8" cy="381.5" r="0.55"/><circle cx="408.2" cy="378.4" r="0.55"/><circle cx="413.4" cy="386.3" r="0.55"/><circle cx="421.2" cy="384.9" r="0.55"/><circle cx="424.2" cy="389.8" r="0.55"/><circle cx="418.1" cy="382.2" r="0.55"/><circle cx="407.6" cy="387.9" r="0.55"/><circle cx="410.6" cy="386.6" r="0.55"/><circle cx="422.9" cy="391.2" r="0.55"/><circle cx="406.6" cy="386.4" r="0.55"/><circle cx="411.3" cy="386.5" r="0.55"/><circle cx="407.8" cy="383.2" r="0.55"/><circle cx="407.0" cy="387.3" r="0.55"/><circle cx="415.4" cy="385.6" r="0.55"/><circle cx="406.8" cy="387.0" r="0.55"/><circle cx="411.1" cy="386.6" r="0.55"/><circle cx="408.3" cy="384.5" r="0.55"/><circle cx="416.1" cy="386.9" r="0.55"/><circle cx="406.2" cy="396.4" r="0.55"/><circle cx="413.9" cy="388.6" r="0.55"/><circle cx="407.4" cy="383.0" r="0.55"/><circle cx="416.2" cy="385.7" r="0.55"/><circle cx="406.5" cy="389.1" r="0.55"/><circle cx="415.2" cy="386.7" r="0.55"/><circle cx="406.2" cy="392.3" r="0.55"/><circle cx="411.2" cy="382.9" r="0.55"/><circle cx="412.8" cy="386.5" r="0.55"/><circle cx="406.3" cy="388.0" r="0.55"/><circle cx="408.1" cy="392.0" r="0.55"/><circle cx="407.8" cy="386.8" r="0.55"/><circle cx="416.5" cy="384.3" r="0.55"/><circle cx="415.1" cy="385.8" r="0.55"/><circle cx="416.7" cy="383.5" r="0.55"/><circle cx="409.8" cy="381.2" r="0.55"/><circle cx="410.0" cy="386.0" r="0.55"/><circle cx="410.5" cy="391.9" r="0.55"/><circle cx="422.5" cy="382.0" r="0.55"/><circle cx="412.8" cy="389.8" r="0.55"/><circle cx="410.0" cy="381.9" r="0.55"/><circle cx="410.4" cy="382.6" r="0.55"/><circle cx="413.7" cy="382.2" r="0.55"/><circle cx="408.3" cy="392.7" r="0.55"/><circle cx="409.4" cy="385.7" r="0.55"/><circle cx="428.6" cy="384.6" r="0.55"/><circle cx="407.3" cy="385.2" r="0.55"/><circle cx="409.8" cy="385.1" r="0.55"/><circle cx="419.1" cy="385.1" r="0.55"/><circle cx="411.1" cy="386.7" r="0.55"/><circle cx="413.7" cy="383.1" r="0.55"/><circle cx="406.5" cy="379.1" r="0.55"/><circle cx="406.1" cy="386.2" r="0.55"/><circle cx="407.3" cy="385.8" r="0.55"/><circle cx="409.2" cy="385.0" r="0.55"/><circle cx="411.8" cy="381.1" r="0.55"/><circle cx="414.2" cy="383.4" r="0.55"/><circle cx="410.4" cy="384.6" r="0.55"/><circle cx="409.8" cy="383.6" r="0.55"/><circle cx="418.1" cy="382.7" r="0.55"/><circle cx="416.8" cy="386.7" r="0.55"/><circle cx="408.3" cy="386.1" r="0.55"/><circle cx="414.6" cy="384.1" r="0.55"/><circle cx="414.1" cy="382.9" r="0.55"/><circle cx="411.5" cy="388.2" r="0.55"/><circle cx="407.2" cy="382.4" r="0.55"/><circle cx="423.1" cy="386.4" r="0.55"/><circle cx="407.8" cy="384.9" r="0.55"/><circle cx="414.5" cy="385.2" r="0.55"/><circle cx="407.8" cy="383.5" r="0.55"/><circle cx="407.1" cy="389.4" r="0.55"/><circle cx="409.9" cy="385.7" r="0.55"/><circle cx="415.4" cy="388.8" r="0.55"/><circle cx="414.1" cy="383.6" r="0.55"/><circle cx="422.3" cy="388.4" r="0.55"/><circle cx="406.6" cy="384.9" r="0.55"/><circle cx="410.4" cy="384.7" r="0.55"/><circle cx="411.5" cy="391.4" r="0.55"/><circle cx="420.2" cy="388.5" r="0.55"/><circle cx="415.1" cy="391.3" r="0.55"/><circle cx="408.3" cy="387.5" r="0.55"/><circle cx="414.2" cy="386.1" r="0.55"/><circle cx="424.8" cy="384.3" r="0.55"/><circle cx="406.2" cy="385.7" r="0.55"/><circle cx="410.3" cy="389.5" r="0.55"/><circle cx="420.2" cy="386.4" r="0.55"/><circle cx="409.6" cy="386.1" r="0.55"/><circle cx="406.5" cy="391.8" r="0.55"/><circle cx="415.5" cy="390.0" r="0.55"/><circle cx="418.6" cy="385.6" r="0.55"/><circle cx="411.5" cy="382.3" r="0.55"/><circle cx="413.7" cy="392.1" r="0.55"/><circle cx="425.4" cy="387.4" r="0.55"/><circle cx="412.2" cy="391.7" r="0.55"/><circle cx="408.8" cy="382.0" r="0.55"/><circle cx="410.6" cy="386.6" r="0.55"/><circle cx="407.1" cy="383.2" r="0.55"/><circle cx="408.5" cy="384.6" r="0.55"/><circle cx="410.4" cy="386.8" r="0.55"/><circle cx="408.0" cy="384.3" r="0.55"/><circle cx="413.1" cy="384.3" r="0.55"/><circle cx="413.4" cy="384.7" r="0.55"/><circle cx="408.9" cy="385.1" r="0.55"/><circle cx="423.3" cy="390.0" r="0.55"/><circle cx="411.6" cy="390.0" r="0.55"/><circle cx="409.5" cy="388.2" r="0.55"/><circle cx="407.8" cy="386.1" r="0.55"/><circle cx="422.1" cy="384.2" r="0.55"/><circle cx="411.2" cy="380.8" r="0.55"/><circle cx="411.1" cy="385.5" r="0.55"/><circle cx="415.1" cy="384.2" r="0.55"/><circle cx="425.0" cy="382.8" r="0.55"/><circle cx="407.5" cy="378.1" r="0.55"/><circle cx="415.7" cy="388.9" r="0.55"/><circle cx="412.7" cy="381.6" r="0.55"/><circle cx="418.5" cy="382.2" r="0.55"/><circle cx="412.7" cy="392.5" r="0.55"/><circle cx="416.1" cy="388.3" r="0.55"/><circle cx="417.2" cy="383.2" r="0.55"/><circle cx="408.4" cy="388.0" r="0.55"/><circle cx="411.9" cy="389.7" r="0.55"/><circle cx="425.3" cy="385.9" r="0.55"/><circle cx="413.4" cy="387.8" r="0.55"/><circle cx="409.0" cy="383.8" r="0.55"/><circle cx="407.2" cy="386.3" r="0.55"/><circle cx="410.5" cy="389.4" r="0.55"/><circle cx="410.3" cy="382.1" r="0.55"/><circle cx="420.5" cy="391.5" r="0.55"/><circle cx="409.7" cy="384.8" r="0.55"/><circle cx="428.1" cy="389.3" r="0.55"/><circle cx="426.2" cy="385.5" r="0.55"/><circle cx="412.2" cy="384.4" r="0.55"/><circle cx="411.8" cy="387.3" r="0.55"/><circle cx="409.6" cy="392.8" r="0.55"/><circle cx="418.2" cy="382.7" r="0.55"/><circle cx="409.9" cy="387.8" r="0.55"/><circle cx="412.7" cy="392.9" r="0.55"/><circle cx="414.2" cy="390.5" r="0.55"/><circle cx="410.8" cy="382.6" r="0.55"/><circle cx="412.8" cy="385.4" r="0.55"/><circle cx="411.2" cy="385.7" r="0.55"/><circle cx="407.9" cy="386.4" r="0.55"/><circle cx="407.9" cy="387.4" r="0.55"/><circle cx="432.1" cy="389.5" r="0.55"/><circle cx="410.6" cy="392.1" r="0.55"/><circle cx="410.3" cy="381.4" r="0.55"/><circle cx="418.5" cy="379.9" r="0.55"/><circle cx="416.4" cy="382.7" r="0.55"/><circle cx="418.9" cy="384.3" r="0.55"/><circle cx="407.9" cy="382.2" r="0.55"/><circle cx="411.2" cy="386.0" r="0.55"/><circle cx="411.8" cy="383.1" r="0.55"/><circle cx="411.0" cy="386.8" r="0.55"/><circle cx="410.9" cy="384.4" r="0.55"/><circle cx="416.6" cy="388.9" r="0.55"/><circle cx="411.2" cy="384.0" r="0.55"/><circle cx="413.2" cy="388.1" r="0.55"/><circle cx="424.1" cy="387.1" r="0.55"/><circle cx="428.7" cy="386.9" r="0.55"/><circle cx="409.0" cy="387.4" r="0.55"/><circle cx="415.7" cy="381.5" r="0.55"/><circle cx="407.3" cy="389.8" r="0.55"/><circle cx="420.2" cy="386.7" r="0.55"/><circle cx="412.7" cy="391.1" r="0.55"/></g>
<g fill="#6a60c0" opacity="0.5"><circle cx="407.3" cy="373.7" r="0.5"/><circle cx="409.9" cy="363.9" r="0.5"/><circle cx="392.5" cy="386.0" r="0.5"/><circle cx="402.8" cy="363.6" r="0.5"/><circle cx="404.9" cy="381.8" r="0.5"/><circle cx="403.1" cy="370.0" r="0.5"/><circle cx="393.1" cy="358.7" r="0.5"/><circle cx="398.4" cy="372.5" r="0.5"/><circle cx="396.9" cy="368.9" r="0.5"/><circle cx="404.1" cy="363.7" r="0.5"/><circle cx="395.7" cy="391.9" r="0.5"/><circle cx="396.3" cy="368.2" r="0.5"/><circle cx="404.8" cy="357.6" r="0.5"/><circle cx="407.6" cy="362.4" r="0.5"/><circle cx="395.3" cy="362.3" r="0.5"/><circle cx="394.7" cy="367.3" r="0.5"/><circle cx="404.2" cy="373.3" r="0.5"/><circle cx="406.4" cy="381.0" r="0.5"/><circle cx="393.2" cy="374.1" r="0.5"/><circle cx="396.4" cy="370.1" r="0.5"/><circle cx="400.1" cy="377.3" r="0.5"/><circle cx="401.7" cy="354.7" r="0.5"/><circle cx="398.7" cy="369.8" r="0.5"/><circle cx="408.8" cy="371.7" r="0.5"/><circle cx="399.3" cy="374.0" r="0.5"/><circle cx="403.4" cy="363.5" r="0.5"/><circle cx="398.8" cy="372.8" r="0.5"/><circle cx="399.4" cy="371.6" r="0.5"/><circle cx="396.7" cy="374.7" r="0.5"/><circle cx="392.8" cy="388.6" r="0.5"/><circle cx="399.4" cy="357.4" r="0.5"/><circle cx="398.0" cy="382.5" r="0.5"/><circle cx="398.5" cy="372.6" r="0.5"/><circle cx="387.9" cy="386.8" r="0.5"/><circle cx="399.8" cy="356.1" r="0.5"/><circle cx="397.2" cy="387.1" r="0.5"/><circle cx="401.4" cy="360.4" r="0.5"/><circle cx="396.6" cy="376.1" r="0.5"/><circle cx="409.9" cy="376.1" r="0.5"/><circle cx="403.2" cy="371.0" r="0.5"/><circle cx="399.7" cy="364.8" r="0.5"/><circle cx="392.8" cy="361.6" r="0.5"/><circle cx="396.5" cy="385.3" r="0.5"/><circle cx="399.3" cy="384.8" r="0.5"/><circle cx="403.3" cy="375.3" r="0.5"/><circle cx="396.9" cy="393.4" r="0.5"/><circle cx="405.2" cy="385.2" r="0.5"/><circle cx="412.0" cy="387.7" r="0.5"/><circle cx="400.6" cy="377.4" r="0.5"/><circle cx="402.3" cy="394.3" r="0.5"/><circle cx="394.4" cy="357.5" r="0.5"/><circle cx="397.0" cy="374.0" r="0.5"/><circle cx="396.5" cy="382.4" r="0.5"/><circle cx="402.5" cy="373.7" r="0.5"/><circle cx="399.9" cy="391.3" r="0.5"/><circle cx="409.6" cy="389.8" r="0.5"/><circle cx="397.6" cy="385.2" r="0.5"/><circle cx="393.7" cy="357.4" r="0.5"/><circle cx="408.1" cy="382.0" r="0.5"/><circle cx="402.9" cy="386.9" r="0.5"/><circle cx="407.9" cy="376.6" r="0.5"/><circle cx="400.9" cy="379.6" r="0.5"/><circle cx="403.8" cy="375.7" r="0.5"/><circle cx="392.8" cy="396.6" r="0.5"/><circle cx="395.8" cy="368.7" r="0.5"/><circle cx="402.6" cy="373.7" r="0.5"/><circle cx="402.2" cy="396.0" r="0.5"/><circle cx="406.7" cy="369.9" r="0.5"/><circle cx="401.2" cy="373.6" r="0.5"/><circle cx="405.9" cy="366.0" r="0.5"/><circle cx="394.8" cy="358.9" r="0.5"/><circle cx="402.1" cy="377.7" r="0.5"/><circle cx="403.2" cy="381.8" r="0.5"/><circle cx="393.5" cy="370.8" r="0.5"/><circle cx="394.2" cy="385.3" r="0.5"/><circle cx="403.9" cy="361.1" r="0.5"/><circle cx="402.3" cy="375.2" r="0.5"/><circle cx="400.2" cy="380.5" r="0.5"/><circle cx="396.6" cy="371.4" r="0.5"/><circle cx="396.2" cy="368.2" r="0.5"/><circle cx="394.4" cy="384.7" r="0.5"/><circle cx="402.6" cy="372.0" r="0.5"/><circle cx="391.3" cy="394.7" r="0.5"/><circle cx="399.8" cy="376.0" r="0.5"/><circle cx="402.9" cy="389.7" r="0.5"/><circle cx="398.1" cy="352.9" r="0.5"/><circle cx="398.0" cy="374.0" r="0.5"/><circle cx="396.7" cy="387.5" r="0.5"/><circle cx="397.4" cy="377.1" r="0.5"/><circle cx="395.5" cy="381.1" r="0.5"/><circle cx="396.1" cy="381.7" r="0.5"/><circle cx="400.3" cy="375.7" r="0.5"/><circle cx="401.2" cy="359.7" r="0.5"/><circle cx="397.3" cy="376.2" r="0.5"/><circle cx="397.7" cy="385.0" r="0.5"/><circle cx="404.0" cy="367.7" r="0.5"/><circle cx="405.5" cy="372.2" r="0.5"/><circle cx="402.4" cy="385.3" r="0.5"/><circle cx="394.0" cy="366.8" r="0.5"/><circle cx="399.3" cy="372.1" r="0.5"/><circle cx="391.2" cy="380.2" r="0.5"/><circle cx="400.5" cy="376.0" r="0.5"/><circle cx="401.2" cy="380.7" r="0.5"/><circle cx="395.5" cy="377.1" r="0.5"/><circle cx="397.5" cy="369.9" r="0.5"/><circle cx="395.3" cy="385.1" r="0.5"/><circle cx="387.4" cy="367.8" r="0.5"/><circle cx="403.1" cy="371.3" r="0.5"/><circle cx="396.3" cy="383.6" r="0.5"/><circle cx="394.9" cy="371.7" r="0.5"/><circle cx="401.7" cy="369.5" r="0.5"/><circle cx="397.0" cy="374.8" r="0.5"/><circle cx="404.5" cy="365.9" r="0.5"/><circle cx="402.3" cy="373.6" r="0.5"/><circle cx="397.9" cy="362.2" r="0.5"/><circle cx="408.3" cy="379.3" r="0.5"/><circle cx="400.9" cy="371.4" r="0.5"/><circle cx="407.7" cy="368.3" r="0.5"/><circle cx="394.5" cy="367.1" r="0.5"/><circle cx="399.4" cy="377.1" r="0.5"/><circle cx="389.6" cy="376.8" r="0.5"/><circle cx="400.9" cy="383.8" r="0.5"/><circle cx="397.9" cy="387.5" r="0.5"/><circle cx="409.6" cy="369.3" r="0.5"/><circle cx="398.3" cy="383.1" r="0.5"/><circle cx="405.6" cy="374.2" r="0.5"/><circle cx="405.3" cy="360.2" r="0.5"/><circle cx="404.3" cy="378.2" r="0.5"/><circle cx="404.1" cy="378.6" r="0.5"/><circle cx="403.0" cy="370.2" r="0.5"/><circle cx="406.6" cy="355.5" r="0.5"/><circle cx="400.9" cy="368.5" r="0.5"/><circle cx="409.4" cy="364.0" r="0.5"/><circle cx="400.2" cy="374.0" r="0.5"/><circle cx="403.6" cy="374.2" r="0.5"/><circle cx="394.3" cy="373.0" r="0.5"/><circle cx="405.5" cy="381.1" r="0.5"/><circle cx="396.0" cy="363.0" r="0.5"/><circle cx="393.2" cy="373.2" r="0.5"/><circle cx="398.8" cy="370.9" r="0.5"/><circle cx="397.0" cy="375.9" r="0.5"/><circle cx="406.2" cy="383.3" r="0.5"/><circle cx="397.5" cy="381.3" r="0.5"/><circle cx="398.4" cy="385.8" r="0.5"/><circle cx="404.8" cy="382.7" r="0.5"/><circle cx="410.8" cy="383.6" r="0.5"/><circle cx="404.2" cy="386.8" r="0.5"/><circle cx="394.5" cy="371.3" r="0.5"/><circle cx="397.9" cy="382.0" r="0.5"/><circle cx="399.8" cy="363.0" r="0.5"/><circle cx="395.8" cy="372.5" r="0.5"/><circle cx="397.3" cy="370.1" r="0.5"/><circle cx="392.3" cy="375.4" r="0.5"/><circle cx="393.2" cy="370.7" r="0.5"/><circle cx="396.5" cy="371.5" r="0.5"/><circle cx="406.8" cy="370.4" r="0.5"/><circle cx="397.6" cy="351.8" r="0.5"/><circle cx="395.2" cy="376.4" r="0.5"/><circle cx="398.0" cy="381.4" r="0.5"/><circle cx="398.1" cy="381.5" r="0.5"/><circle cx="401.0" cy="384.0" r="0.5"/><circle cx="398.2" cy="382.3" r="0.5"/><circle cx="397.3" cy="367.3" r="0.5"/><circle cx="405.3" cy="361.8" r="0.5"/><circle cx="395.0" cy="389.0" r="0.5"/><circle cx="400.5" cy="377.6" r="0.5"/><circle cx="400.8" cy="373.9" r="0.5"/><circle cx="409.5" cy="374.6" r="0.5"/><circle cx="406.8" cy="374.2" r="0.5"/><circle cx="396.2" cy="371.8" r="0.5"/><circle cx="399.9" cy="397.5" r="0.5"/><circle cx="396.6" cy="378.2" r="0.5"/><circle cx="391.9" cy="379.3" r="0.5"/><circle cx="399.0" cy="377.8" r="0.5"/><circle cx="400.1" cy="370.1" r="0.5"/><circle cx="400.0" cy="374.3" r="0.5"/><circle cx="404.8" cy="373.6" r="0.5"/><circle cx="399.0" cy="362.5" r="0.5"/><circle cx="404.0" cy="372.7" r="0.5"/><circle cx="395.1" cy="385.1" r="0.5"/><circle cx="404.3" cy="374.0" r="0.5"/><circle cx="399.9" cy="362.3" r="0.5"/><circle cx="387.8" cy="375.3" r="0.5"/><circle cx="392.1" cy="380.0" r="0.5"/><circle cx="397.8" cy="376.4" r="0.5"/><circle cx="396.9" cy="378.0" r="0.5"/><circle cx="403.5" cy="375.3" r="0.5"/><circle cx="403.4" cy="381.1" r="0.5"/><circle cx="398.9" cy="358.9" r="0.5"/><circle cx="402.8" cy="368.7" r="0.5"/><circle cx="394.4" cy="357.5" r="0.5"/><circle cx="390.7" cy="386.1" r="0.5"/><circle cx="408.5" cy="386.2" r="0.5"/><circle cx="409.8" cy="356.9" r="0.5"/><circle cx="403.3" cy="361.6" r="0.5"/><circle cx="392.2" cy="379.7" r="0.5"/><circle cx="404.2" cy="365.9" r="0.5"/><circle cx="391.3" cy="359.8" r="0.5"/><circle cx="398.5" cy="381.9" r="0.5"/><circle cx="409.5" cy="378.1" r="0.5"/></g>
<g filter="url(#bl2)" transform="rotate(4 399.5 374.5)"><ellipse cx="399.5" cy="375" rx="8.3" ry="14.8" fill="#2430a8"/><ellipse cx="399.2" cy="374" rx="6.0" ry="11.2" fill="#3a9ad8"/><ellipse cx="398.9" cy="373.3" rx="3.9" ry="8.2" fill="#3cbf4a"/><ellipse cx="398.7" cy="372.5" rx="2.3" ry="5.6" fill="#e0d828"/><ellipse cx="398.6" cy="372" rx="1.3" ry="3.4" fill="#e07010"/></g>
<g filter="url(#bl1)"><ellipse cx="412" cy="385.5" rx="6" ry="3" fill="#3040b0" opacity="0.45"/></g>
<path d="M412.3,357.5 L456.5,357.5 L456.5,402.0 L407.5,402.0 Z" fill="none" stroke="#000" stroke-width="1.4"/>
<path d="M408.3,378.8 L416.9,377.1 L427.3,378.8 L436.3,384.6 L431.9,395 L418.1,395.6 L408.3,391 L407.1,386.9 Z" fill="none" stroke="#c82838" stroke-width="1.3"/>
<text x="430.86" y="340.80" font-size="6.3" textLength="27.88" lengthAdjust="spacingAndGlyphs" fill="#222">CD25pos</text>
<rect x="454.50" y="363.00" width="4.50" height="9.70" fill="#fff"/>
<text x="444.07" y="368.80" font-size="5.9" textLength="14.94" lengthAdjust="spacingAndGlyphs" fill="#222">Tregs</text>
<line x1="379.10" y1="362.09" x2="380.60" y2="362.09" stroke="#000" stroke-width="0.6"/>
<line x1="379.10" y1="358.34" x2="380.60" y2="358.34" stroke="#000" stroke-width="0.6"/>
<line x1="379.10" y1="355.68" x2="380.60" y2="355.68" stroke="#000" stroke-width="0.6"/>
<line x1="379.10" y1="353.61" x2="380.60" y2="353.61" stroke="#000" stroke-width="0.6"/>
<line x1="379.10" y1="351.93" x2="380.60" y2="351.93" stroke="#000" stroke-width="0.6"/>
<line x1="379.10" y1="350.50" x2="380.60" y2="350.50" stroke="#000" stroke-width="0.6"/>
<line x1="379.10" y1="349.26" x2="380.60" y2="349.26" stroke="#000" stroke-width="0.6"/>
<line x1="379.10" y1="348.17" x2="380.60" y2="348.17" stroke="#000" stroke-width="0.6"/>
<line x1="379.10" y1="341.78" x2="380.60" y2="341.78" stroke="#000" stroke-width="0.6"/>
<line x1="379.10" y1="338.61" x2="380.60" y2="338.61" stroke="#000" stroke-width="0.6"/>
<line x1="379.10" y1="336.36" x2="380.60" y2="336.36" stroke="#000" stroke-width="0.6"/>
<line x1="379.10" y1="334.62" x2="380.60" y2="334.62" stroke="#000" stroke-width="0.6"/>
<line x1="379.10" y1="333.19" x2="380.60" y2="333.19" stroke="#000" stroke-width="0.6"/>
<line x1="379.10" y1="331.99" x2="380.60" y2="331.99" stroke="#000" stroke-width="0.6"/>
<line x1="379.10" y1="330.94" x2="380.60" y2="330.94" stroke="#000" stroke-width="0.6"/>
<line x1="379.10" y1="330.02" x2="380.60" y2="330.02" stroke="#000" stroke-width="0.6"/>
<line x1="418.49" y1="404.50" x2="418.49" y2="406.00" stroke="#000" stroke-width="0.6"/>
<line x1="422.35" y1="404.50" x2="422.35" y2="406.00" stroke="#000" stroke-width="0.6"/>
<line x1="425.09" y1="404.50" x2="425.09" y2="406.00" stroke="#000" stroke-width="0.6"/>
<line x1="427.21" y1="404.50" x2="427.21" y2="406.00" stroke="#000" stroke-width="0.6"/>
<line x1="428.94" y1="404.50" x2="428.94" y2="406.00" stroke="#000" stroke-width="0.6"/>
<line x1="430.41" y1="404.50" x2="430.41" y2="406.00" stroke="#000" stroke-width="0.6"/>
<line x1="431.68" y1="404.50" x2="431.68" y2="406.00" stroke="#000" stroke-width="0.6"/>
<line x1="432.80" y1="404.50" x2="432.80" y2="406.00" stroke="#000" stroke-width="0.6"/>
<line x1="439.37" y1="404.50" x2="439.37" y2="406.00" stroke="#000" stroke-width="0.6"/>
<line x1="442.63" y1="404.50" x2="442.63" y2="406.00" stroke="#000" stroke-width="0.6"/>
<line x1="444.94" y1="404.50" x2="444.94" y2="406.00" stroke="#000" stroke-width="0.6"/>
<line x1="446.73" y1="404.50" x2="446.73" y2="406.00" stroke="#000" stroke-width="0.6"/>
<line x1="448.20" y1="404.50" x2="448.20" y2="406.00" stroke="#000" stroke-width="0.6"/>
<line x1="449.43" y1="404.50" x2="449.43" y2="406.00" stroke="#000" stroke-width="0.6"/>
<line x1="450.51" y1="404.50" x2="450.51" y2="406.00" stroke="#000" stroke-width="0.6"/>
<line x1="451.45" y1="404.50" x2="451.45" y2="406.00" stroke="#000" stroke-width="0.6"/>
<line x1="384.20" y1="404.50" x2="384.20" y2="406.00" stroke="#000" stroke-width="0.6"/>
<line x1="386.20" y1="404.50" x2="386.20" y2="406.00" stroke="#000" stroke-width="0.6"/>
<line x1="388.20" y1="404.50" x2="388.20" y2="406.00" stroke="#000" stroke-width="0.6"/>
<line x1="390.20" y1="404.50" x2="390.20" y2="406.00" stroke="#000" stroke-width="0.6"/>
<line x1="392.20" y1="404.50" x2="392.20" y2="406.00" stroke="#000" stroke-width="0.6"/>
<line x1="394.20" y1="404.50" x2="394.20" y2="406.00" stroke="#000" stroke-width="0.6"/>
<line x1="396.20" y1="404.50" x2="396.20" y2="406.00" stroke="#000" stroke-width="0.6"/>
<line x1="398.20" y1="404.50" x2="398.20" y2="406.00" stroke="#000" stroke-width="0.6"/>
<line x1="400.20" y1="404.50" x2="400.20" y2="406.00" stroke="#000" stroke-width="0.6"/>
<line x1="402.20" y1="404.50" x2="402.20" y2="406.00" stroke="#000" stroke-width="0.6"/>
<line x1="404.20" y1="404.50" x2="404.20" y2="406.00" stroke="#000" stroke-width="0.6"/>
<line x1="406.20" y1="404.50" x2="406.20" y2="406.00" stroke="#000" stroke-width="0.6"/>
<line x1="408.20" y1="404.50" x2="408.20" y2="406.00" stroke="#000" stroke-width="0.6"/>
<line x1="410.20" y1="404.50" x2="410.20" y2="406.00" stroke="#000" stroke-width="0.6"/>
<line x1="379.10" y1="369.00" x2="380.60" y2="369.00" stroke="#000" stroke-width="0.6"/>
<line x1="379.10" y1="371.00" x2="380.60" y2="371.00" stroke="#000" stroke-width="0.6"/>
<line x1="379.10" y1="373.00" x2="380.60" y2="373.00" stroke="#000" stroke-width="0.6"/>
<line x1="379.10" y1="375.00" x2="380.60" y2="375.00" stroke="#000" stroke-width="0.6"/>
<line x1="379.10" y1="377.00" x2="380.60" y2="377.00" stroke="#000" stroke-width="0.6"/>
<line x1="379.10" y1="379.00" x2="380.60" y2="379.00" stroke="#000" stroke-width="0.6"/>
<line x1="379.10" y1="381.00" x2="380.60" y2="381.00" stroke="#000" stroke-width="0.6"/>
<line x1="379.10" y1="383.00" x2="380.60" y2="383.00" stroke="#000" stroke-width="0.6"/>
<line x1="379.10" y1="385.00" x2="380.60" y2="385.00" stroke="#000" stroke-width="0.6"/>
<line x1="379.10" y1="387.00" x2="380.60" y2="387.00" stroke="#000" stroke-width="0.6"/>
<line x1="379.10" y1="389.00" x2="380.60" y2="389.00" stroke="#000" stroke-width="0.6"/>
<line x1="379.10" y1="391.00" x2="380.60" y2="391.00" stroke="#000" stroke-width="0.6"/>
<line x1="379.10" y1="393.00" x2="380.60" y2="393.00" stroke="#000" stroke-width="0.6"/>
<line x1="379.10" y1="395.00" x2="380.60" y2="395.00" stroke="#000" stroke-width="0.6"/>
<line x1="379.10" y1="397.00" x2="380.60" y2="397.00" stroke="#000" stroke-width="0.6"/>
<line x1="379.10" y1="399.00" x2="380.60" y2="399.00" stroke="#000" stroke-width="0.6"/>
<line x1="379.10" y1="401.00" x2="380.60" y2="401.00" stroke="#000" stroke-width="0.6"/>
<line x1="378.00" y1="329.20" x2="380.60" y2="329.20" stroke="#000" stroke-width="1.0"/>
<text x="376.60" y="331.50" font-size="6.6" text-anchor="end" fill="#262626">10<tspan font-size="4.2" dy="-3.0">5</tspan></text>
<line x1="378.00" y1="347.20" x2="380.60" y2="347.20" stroke="#000" stroke-width="1.0"/>
<text x="376.60" y="349.50" font-size="6.6" text-anchor="end" fill="#262626">10<tspan font-size="4.2" dy="-3.0">4</tspan></text>
<line x1="378.00" y1="368.50" x2="380.60" y2="368.50" stroke="#000" stroke-width="1.0"/>
<text x="376.60" y="370.80" font-size="6.6" text-anchor="end" fill="#262626">10<tspan font-size="4.2" dy="-3.0">3</tspan></text>
<line x1="378.00" y1="386.90" x2="380.60" y2="386.90" stroke="#000" stroke-width="1.0"/>
<text x="376.60" y="389.20" font-size="6.6" text-anchor="end" fill="#262626">0</text>
<line x1="378.00" y1="402.60" x2="380.60" y2="402.60" stroke="#000" stroke-width="1.0"/>
<text x="376.60" y="404.90" font-size="6.6" text-anchor="end" fill="#262626">−10<tspan font-size="4.2" dy="-3.0">3</tspan></text>
<line x1="384.20" y1="404.50" x2="384.20" y2="407.10" stroke="#000" stroke-width="1.0"/>
<text x="384.20" y="417.90" font-size="6.6" text-anchor="middle" fill="#262626">−10<tspan font-size="4.2" dy="-3.0">3</tspan></text>
<line x1="399.20" y1="404.50" x2="399.20" y2="407.10" stroke="#000" stroke-width="1.0"/>
<text x="399.20" y="417.90" font-size="6.6" text-anchor="middle" fill="#262626">0</text>
<line x1="411.90" y1="404.50" x2="411.90" y2="407.10" stroke="#000" stroke-width="1.0"/>
<text x="411.90" y="417.90" font-size="6.6" text-anchor="middle" fill="#262626">10<tspan font-size="4.2" dy="-3.0">3</tspan></text>
<line x1="433.80" y1="404.50" x2="433.80" y2="407.10" stroke="#000" stroke-width="1.0"/>
<text x="433.80" y="417.90" font-size="6.6" text-anchor="middle" fill="#262626">10<tspan font-size="4.2" dy="-3.0">4</tspan></text>
<line x1="452.30" y1="404.50" x2="452.30" y2="407.10" stroke="#000" stroke-width="1.0"/>
<text x="452.30" y="417.90" font-size="6.6" text-anchor="middle" fill="#262626">10<tspan font-size="4.2" dy="-3.0">5</tspan></text>
<text x="411.95" y="430.20" font-size="9.0" textLength="17.43" lengthAdjust="spacingAndGlyphs" fill="#333">CD25</text>
<text x="355.80" y="381.80" font-size="8.4" textLength="18.60" lengthAdjust="spacingAndGlyphs" fill="#333" transform="rotate(-90 355.80 381.80)">CD127</text>
<text x="6.86" y="457.10" font-size="12.0" textLength="6.74" lengthAdjust="spacingAndGlyphs" font-weight="bold" fill="#000" stroke="#000" stroke-width="0.35">F</text>
<line x1="32.60" y1="480.20" x2="32.60" y2="567.90" stroke="#000" stroke-width="1.2"/>
<line x1="32.00" y1="567.30" x2="134.00" y2="567.30" stroke="#000" stroke-width="1.2"/>
<line x1="29.80" y1="494.30" x2="32.60" y2="494.30" stroke="#000" stroke-width="0.9"/>
<text x="19.09" y="496.50" font-size="6.3" textLength="6.96" lengthAdjust="spacingAndGlyphs" fill="#3a3a3a">20</text>
<line x1="29.80" y1="510.20" x2="32.60" y2="510.20" stroke="#000" stroke-width="0.9"/>
<text x="18.91" y="512.40" font-size="6.3" textLength="7.16" lengthAdjust="spacingAndGlyphs" fill="#3a3a3a">15</text>
<line x1="29.80" y1="526.70" x2="32.60" y2="526.70" stroke="#000" stroke-width="0.9"/>
<text x="18.91" y="528.90" font-size="6.3" textLength="7.14" lengthAdjust="spacingAndGlyphs" fill="#3a3a3a">10</text>
<line x1="29.80" y1="543.00" x2="32.60" y2="543.00" stroke="#000" stroke-width="0.9"/>
<text x="22.33" y="545.20" font-size="6.3" textLength="3.75" lengthAdjust="spacingAndGlyphs" fill="#3a3a3a">5</text>
<line x1="29.80" y1="559.30" x2="32.60" y2="559.30" stroke="#000" stroke-width="0.9"/>
<text x="22.34" y="561.50" font-size="6.3" textLength="3.72" lengthAdjust="spacingAndGlyphs" fill="#3a3a3a">0</text>
<text x="11.40" y="568.93" font-size="7.8" textLength="92.03" lengthAdjust="spacingAndGlyphs" fill="#333" transform="rotate(-90 11.40 568.93)">CD38+ Treg cells/Treg cells (%)</text>
<text x="35.74" y="470.60" font-size="8.7" textLength="97.45" lengthAdjust="spacingAndGlyphs" fill="#222">Frequency of CD38+ Tregs</text>
<text x="35.37" y="481.30" font-size="6.7" textLength="56.46" lengthAdjust="spacingAndGlyphs" fill="#333">Wilcoxon <tspan font-style="italic">P</tspan> = .0172</text>
<line x1="60.70" y1="483.30" x2="60.70" y2="556.70" stroke="#6f6f6f" stroke-width="1.1"/>
<rect x="43.75" y="522.35" width="33.80" height="28.90" fill="#aec186" stroke="#98a87a" stroke-width="0.7"/>
<line x1="43.40" y1="536.70" x2="77.90" y2="536.70" stroke="#1a2410" stroke-width="1.3"/>
<circle cx="61.80" cy="483.40" r="1.0" fill="#000"/>
<circle cx="68.60" cy="492.60" r="1.0" fill="#000"/>
<circle cx="52.30" cy="499.10" r="1.0" fill="#000"/>
<circle cx="59.10" cy="497.70" r="1.0" fill="#000"/>
<circle cx="65.90" cy="503.90" r="1.0" fill="#000"/>
<circle cx="63.20" cy="511.10" r="1.0" fill="#000"/>
<circle cx="65.90" cy="512.10" r="1.0" fill="#000"/>
<circle cx="53.40" cy="515.20" r="1.0" fill="#000"/>
<circle cx="68.60" cy="515.70" r="1.0" fill="#000"/>
<circle cx="69.30" cy="517.50" r="1.0" fill="#000"/>
<circle cx="53.00" cy="522.00" r="1.0" fill="#000"/>
<circle cx="58.40" cy="521.60" r="1.0" fill="#000"/>
<circle cx="55.30" cy="523.90" r="1.0" fill="#000"/>
<circle cx="54.30" cy="527.70" r="1.0" fill="#000"/>
<circle cx="58.40" cy="528.40" r="1.0" fill="#000"/>
<circle cx="63.20" cy="527.50" r="1.0" fill="#000"/>
<circle cx="69.30" cy="526.40" r="1.0" fill="#000"/>
<circle cx="53.60" cy="532.50" r="1.0" fill="#000"/>
<circle cx="59.10" cy="530.80" r="1.0" fill="#000"/>
<circle cx="65.60" cy="533.20" r="1.0" fill="#000"/>
<circle cx="67.30" cy="535.90" r="1.0" fill="#000"/>
<circle cx="69.30" cy="540.00" r="1.0" fill="#000"/>
<circle cx="66.60" cy="543.00" r="1.0" fill="#000"/>
<circle cx="55.00" cy="544.40" r="1.0" fill="#000"/>
<circle cx="57.70" cy="546.60" r="1.0" fill="#000"/>
<circle cx="59.10" cy="547.10" r="1.0" fill="#000"/>
<circle cx="65.20" cy="548.20" r="1.0" fill="#000"/>
<circle cx="68.60" cy="550.30" r="1.0" fill="#000"/>
<circle cx="51.60" cy="551.60" r="1.0" fill="#000"/>
<circle cx="57.70" cy="551.60" r="1.0" fill="#000"/>
<circle cx="60.50" cy="554.40" r="1.0" fill="#000"/>
<circle cx="62.50" cy="555.00" r="1.0" fill="#000"/>
<circle cx="65.20" cy="554.80" r="1.0" fill="#000"/>
<circle cx="68.60" cy="555.00" r="1.0" fill="#000"/>
<circle cx="58.80" cy="557.10" r="1.0" fill="#000"/>
<circle cx="62.00" cy="552.00" r="1.0" fill="#000"/>
<circle cx="64.00" cy="556.00" r="1.0" fill="#000"/>
<circle cx="56.00" cy="538.00" r="1.0" fill="#000"/>
<circle cx="61.00" cy="541.00" r="1.0" fill="#000"/>
<circle cx="67.00" cy="529.00" r="1.0" fill="#000"/>
<line x1="60.70" y1="567.30" x2="60.70" y2="569.70" stroke="#000" stroke-width="0.9"/>
<text x="50.57" y="564.90" font-size="5.7" textLength="20.49" lengthAdjust="spacingAndGlyphs" fill="#333">n = 45</text>
<text x="37.05" y="579.20" font-size="6.8" textLength="45.79" lengthAdjust="spacingAndGlyphs" fill="#333">Nonresponders</text>
<line x1="107.80" y1="513.40" x2="107.80" y2="557.00" stroke="#6f6f6f" stroke-width="1.1"/>
<rect x="90.55" y="536.25" width="33.90" height="18.20" fill="#34b033" stroke="#2a8f2a" stroke-width="0.7"/>
<line x1="90.20" y1="547.00" x2="124.80" y2="547.00" stroke="#0a260a" stroke-width="1.3"/>
<circle cx="108.90" cy="486.80" r="1.0" fill="#000"/>
<circle cx="100.00" cy="499.10" r="1.0" fill="#000"/>
<circle cx="116.60" cy="501.80" r="1.0" fill="#000"/>
<circle cx="108.20" cy="506.60" r="1.0" fill="#000"/>
<circle cx="105.50" cy="508.00" r="1.0" fill="#000"/>
<circle cx="98.60" cy="510.30" r="1.0" fill="#000"/>
<circle cx="107.50" cy="509.70" r="1.0" fill="#000"/>
<circle cx="106.80" cy="514.10" r="1.0" fill="#000"/>
<circle cx="102.00" cy="517.50" r="1.0" fill="#000"/>
<circle cx="114.30" cy="516.80" r="1.0" fill="#000"/>
<circle cx="100.70" cy="519.80" r="1.0" fill="#000"/>
<circle cx="109.80" cy="519.30" r="1.0" fill="#000"/>
<circle cx="106.80" cy="521.60" r="1.0" fill="#000"/>
<circle cx="107.50" cy="523.40" r="1.0" fill="#000"/>
<circle cx="99.70" cy="524.30" r="1.0" fill="#000"/>
<circle cx="102.00" cy="527.10" r="1.0" fill="#000"/>
<circle cx="105.20" cy="531.20" r="1.0" fill="#000"/>
<circle cx="101.10" cy="533.90" r="1.0" fill="#000"/>
<circle cx="114.30" cy="532.90" r="1.0" fill="#000"/>
<circle cx="112.00" cy="534.30" r="1.0" fill="#000"/>
<circle cx="100.99" cy="554.81" r="1.0" fill="#000"/>
<circle cx="108.24" cy="544.05" r="1.0" fill="#000"/>
<circle cx="104.35" cy="547.70" r="1.0" fill="#000"/>
<circle cx="115.63" cy="544.91" r="1.0" fill="#000"/>
<circle cx="103.92" cy="540.69" r="1.0" fill="#000"/>
<circle cx="110.75" cy="550.90" r="1.0" fill="#000"/>
<circle cx="114.60" cy="550.97" r="1.0" fill="#000"/>
<circle cx="102.80" cy="544.43" r="1.0" fill="#000"/>
<circle cx="105.19" cy="553.03" r="1.0" fill="#000"/>
<circle cx="109.25" cy="543.52" r="1.0" fill="#000"/>
<circle cx="103.99" cy="544.49" r="1.0" fill="#000"/>
<circle cx="115.56" cy="553.75" r="1.0" fill="#000"/>
<circle cx="106.98" cy="550.82" r="1.0" fill="#000"/>
<circle cx="111.76" cy="542.69" r="1.0" fill="#000"/>
<circle cx="115.83" cy="545.97" r="1.0" fill="#000"/>
<circle cx="109.30" cy="545.09" r="1.0" fill="#000"/>
<circle cx="109.40" cy="537.31" r="1.0" fill="#000"/>
<circle cx="99.95" cy="558.97" r="1.0" fill="#000"/>
<circle cx="115.08" cy="546.30" r="1.0" fill="#000"/>
<circle cx="111.95" cy="538.40" r="1.0" fill="#000"/>
<circle cx="111.18" cy="541.78" r="1.0" fill="#000"/>
<circle cx="102.49" cy="537.69" r="1.0" fill="#000"/>
<circle cx="102.74" cy="547.73" r="1.0" fill="#000"/>
<circle cx="103.10" cy="539.97" r="1.0" fill="#000"/>
<circle cx="110.59" cy="545.65" r="1.0" fill="#000"/>
<circle cx="114.70" cy="551.29" r="1.0" fill="#000"/>
<circle cx="113.02" cy="550.83" r="1.0" fill="#000"/>
<circle cx="115.57" cy="545.11" r="1.0" fill="#000"/>
<circle cx="109.52" cy="557.08" r="1.0" fill="#000"/>
<circle cx="113.10" cy="540.47" r="1.0" fill="#000"/>
<circle cx="109.11" cy="555.74" r="1.0" fill="#000"/>
<circle cx="102.12" cy="556.17" r="1.0" fill="#000"/>
<circle cx="109.29" cy="552.63" r="1.0" fill="#000"/>
<circle cx="109.20" cy="550.38" r="1.0" fill="#000"/>
<circle cx="104.77" cy="553.24" r="1.0" fill="#000"/>
<circle cx="108.28" cy="555.51" r="1.0" fill="#000"/>
<circle cx="111.74" cy="549.50" r="1.0" fill="#000"/>
<circle cx="102.65" cy="542.66" r="1.0" fill="#000"/>
<circle cx="111.41" cy="542.45" r="1.0" fill="#000"/>
<circle cx="112.37" cy="540.23" r="1.0" fill="#000"/>
<circle cx="111.46" cy="556.73" r="1.0" fill="#000"/>
<circle cx="115.08" cy="538.99" r="1.0" fill="#000"/>
<circle cx="105.99" cy="550.17" r="1.0" fill="#000"/>
<circle cx="110.97" cy="539.82" r="1.0" fill="#000"/>
<circle cx="112.39" cy="547.94" r="1.0" fill="#000"/>
<circle cx="111.97" cy="542.14" r="1.0" fill="#000"/>
<circle cx="110.03" cy="547.25" r="1.0" fill="#000"/>
<circle cx="114.55" cy="554.21" r="1.0" fill="#000"/>
<circle cx="104.94" cy="552.96" r="1.0" fill="#000"/>
<circle cx="105.98" cy="538.28" r="1.0" fill="#000"/>
<circle cx="107.60" cy="539.96" r="1.0" fill="#000"/>
<circle cx="103.02" cy="557.47" r="1.0" fill="#000"/>
<circle cx="107.49" cy="541.39" r="1.0" fill="#000"/>
<circle cx="113.33" cy="550.35" r="1.0" fill="#000"/>
<circle cx="113.79" cy="538.17" r="1.0" fill="#000"/>
<circle cx="104.67" cy="555.10" r="1.0" fill="#000"/>
<circle cx="112.95" cy="554.14" r="1.0" fill="#000"/>
<circle cx="112.77" cy="557.64" r="1.0" fill="#000"/>
<circle cx="103.14" cy="547.35" r="1.0" fill="#000"/>
<circle cx="107.27" cy="555.30" r="1.0" fill="#000"/>
<circle cx="110.93" cy="551.31" r="1.0" fill="#000"/>
<circle cx="97.83" cy="550.91" r="1.0" fill="#000"/>
<circle cx="104.87" cy="557.37" r="1.0" fill="#000"/>
<circle cx="115.88" cy="540.93" r="1.0" fill="#000"/>
<circle cx="113.35" cy="539.49" r="1.0" fill="#000"/>
<circle cx="106.02" cy="548.18" r="1.0" fill="#000"/>
<circle cx="109.23" cy="542.92" r="1.0" fill="#000"/>
<circle cx="101.73" cy="553.88" r="1.0" fill="#000"/>
<circle cx="114.58" cy="544.96" r="1.0" fill="#000"/>
<circle cx="112.90" cy="550.48" r="1.0" fill="#000"/>
<circle cx="103.54" cy="541.52" r="1.0" fill="#000"/>
<circle cx="107.81" cy="555.05" r="1.0" fill="#000"/>
<circle cx="103.67" cy="550.03" r="1.0" fill="#000"/>
<circle cx="109.20" cy="553.90" r="1.0" fill="#000"/>
<circle cx="113.16" cy="540.35" r="1.0" fill="#000"/>
<circle cx="111.23" cy="553.90" r="1.0" fill="#000"/>
<circle cx="117.98" cy="549.32" r="1.0" fill="#000"/>
<circle cx="110.92" cy="548.36" r="1.0" fill="#000"/>
<circle cx="103.68" cy="546.95" r="1.0" fill="#000"/>
<circle cx="106.97" cy="540.74" r="1.0" fill="#000"/>
<circle cx="103.40" cy="550.45" r="1.0" fill="#000"/>
<circle cx="113.80" cy="544.13" r="1.0" fill="#000"/>
<line x1="107.80" y1="567.30" x2="107.80" y2="569.70" stroke="#000" stroke-width="0.9"/>
<text x="96.39" y="564.90" font-size="5.7" textLength="23.10" lengthAdjust="spacingAndGlyphs" fill="#333">n = 102</text>
<text x="90.07" y="579.20" font-size="6.8" textLength="34.76" lengthAdjust="spacingAndGlyphs" fill="#333">Responders</text>
<text x="198.08" y="470.80" font-size="7.0" textLength="30.45" lengthAdjust="spacingAndGlyphs" fill="#222">CD4 Tregs</text>
<line x1="172.50" y1="474.50" x2="253.10" y2="474.50" stroke="#1a1a1a" stroke-width="1.0"/>
<rect x="173.50" y="482.50" width="80.00" height="84.00" fill="none" stroke="#000" stroke-width="1.15"/>
<g fill="#c0c0cc"><circle cx="210.1" cy="528.5" r="0.55"/><circle cx="204.0" cy="517.1" r="0.55"/><circle cx="197.7" cy="517.4" r="0.55"/><circle cx="209.2" cy="538.0" r="0.55"/><circle cx="212.3" cy="535.0" r="0.55"/><circle cx="200.8" cy="537.1" r="0.55"/><circle cx="204.9" cy="538.5" r="0.55"/><circle cx="211.1" cy="536.5" r="0.55"/><circle cx="204.4" cy="539.4" r="0.55"/><circle cx="200.9" cy="518.1" r="0.55"/><circle cx="196.7" cy="534.1" r="0.55"/><circle cx="197.9" cy="534.8" r="0.55"/><circle cx="200.6" cy="536.5" r="0.55"/><circle cx="220.3" cy="539.8" r="0.55"/><circle cx="198.1" cy="533.3" r="0.55"/><circle cx="220.2" cy="537.8" r="0.55"/><circle cx="203.5" cy="515.3" r="0.55"/><circle cx="213.5" cy="536.3" r="0.55"/><circle cx="204.0" cy="517.2" r="0.55"/><circle cx="207.4" cy="515.7" r="0.55"/><circle cx="203.9" cy="534.8" r="0.55"/><circle cx="200.6" cy="535.4" r="0.55"/><circle cx="198.7" cy="537.1" r="0.55"/><circle cx="201.2" cy="527.1" r="0.55"/><circle cx="214.1" cy="539.7" r="0.55"/><circle cx="201.4" cy="532.7" r="0.55"/><circle cx="201.7" cy="529.6" r="0.55"/><circle cx="201.5" cy="529.5" r="0.55"/><circle cx="197.2" cy="536.7" r="0.55"/><circle cx="198.5" cy="539.7" r="0.55"/><circle cx="196.0" cy="520.7" r="0.55"/><circle cx="217.0" cy="538.0" r="0.55"/><circle cx="206.5" cy="530.2" r="0.55"/><circle cx="199.7" cy="539.8" r="0.55"/><circle cx="208.6" cy="517.4" r="0.55"/><circle cx="202.6" cy="524.1" r="0.55"/><circle cx="221.9" cy="529.8" r="0.55"/><circle cx="202.3" cy="532.2" r="0.55"/><circle cx="216.5" cy="537.3" r="0.55"/><circle cx="211.5" cy="529.6" r="0.55"/><circle cx="203.0" cy="521.0" r="0.55"/><circle cx="224.2" cy="534.5" r="0.55"/><circle cx="205.2" cy="535.1" r="0.55"/><circle cx="216.6" cy="525.7" r="0.55"/><circle cx="210.6" cy="520.8" r="0.55"/></g>
<g filter="url(#bl1)"><ellipse cx="204.5" cy="548.3" rx="7" ry="3.6" fill="#4a5a96" opacity="0.55"/></g>
<g fill="#2c3a78" opacity="0.6"><circle cx="201.9" cy="547.6" r="0.6"/><circle cx="198.2" cy="549.9" r="0.6"/><circle cx="199.8" cy="549.1" r="0.6"/><circle cx="204.7" cy="539.5" r="0.6"/><circle cx="197.6" cy="549.1" r="0.6"/><circle cx="204.5" cy="548.0" r="0.6"/><circle cx="200.5" cy="549.4" r="0.6"/><circle cx="206.6" cy="545.4" r="0.6"/><circle cx="203.0" cy="549.1" r="0.6"/><circle cx="210.1" cy="550.4" r="0.6"/><circle cx="203.9" cy="549.0" r="0.6"/><circle cx="198.3" cy="547.0" r="0.6"/><circle cx="198.3" cy="541.5" r="0.6"/><circle cx="204.3" cy="544.7" r="0.6"/><circle cx="201.9" cy="550.2" r="0.6"/><circle cx="203.9" cy="552.7" r="0.6"/><circle cx="198.5" cy="551.3" r="0.6"/><circle cx="209.2" cy="548.3" r="0.6"/><circle cx="203.6" cy="547.8" r="0.6"/><circle cx="207.0" cy="548.6" r="0.6"/><circle cx="201.8" cy="548.6" r="0.6"/><circle cx="199.5" cy="549.2" r="0.6"/><circle cx="210.4" cy="554.1" r="0.6"/><circle cx="205.3" cy="547.3" r="0.6"/><circle cx="202.4" cy="548.3" r="0.6"/><circle cx="200.9" cy="549.5" r="0.6"/><circle cx="199.1" cy="542.8" r="0.6"/><circle cx="203.8" cy="552.1" r="0.6"/><circle cx="198.1" cy="544.0" r="0.6"/><circle cx="202.1" cy="544.2" r="0.6"/><circle cx="203.1" cy="551.6" r="0.6"/><circle cx="197.9" cy="551.5" r="0.6"/><circle cx="197.7" cy="544.0" r="0.6"/><circle cx="200.8" cy="554.8" r="0.6"/><circle cx="201.6" cy="545.3" r="0.6"/><circle cx="204.7" cy="548.6" r="0.6"/><circle cx="196.5" cy="552.5" r="0.6"/><circle cx="208.1" cy="549.5" r="0.6"/><circle cx="203.5" cy="544.3" r="0.6"/><circle cx="201.9" cy="551.6" r="0.6"/><circle cx="197.4" cy="543.1" r="0.6"/><circle cx="203.9" cy="552.7" r="0.6"/><circle cx="203.3" cy="545.2" r="0.6"/><circle cx="212.6" cy="547.3" r="0.6"/><circle cx="204.4" cy="547.9" r="0.6"/><circle cx="202.7" cy="552.9" r="0.6"/><circle cx="203.3" cy="547.1" r="0.6"/><circle cx="200.2" cy="544.1" r="0.6"/><circle cx="197.0" cy="546.6" r="0.6"/><circle cx="198.1" cy="544.7" r="0.6"/><circle cx="199.9" cy="545.8" r="0.6"/><circle cx="204.5" cy="544.9" r="0.6"/><circle cx="203.3" cy="544.9" r="0.6"/><circle cx="200.3" cy="548.6" r="0.6"/><circle cx="205.3" cy="549.8" r="0.6"/><circle cx="198.4" cy="552.5" r="0.6"/><circle cx="197.8" cy="547.7" r="0.6"/><circle cx="201.1" cy="548.7" r="0.6"/><circle cx="199.8" cy="548.8" r="0.6"/><circle cx="198.2" cy="549.9" r="0.6"/><circle cx="197.1" cy="549.0" r="0.6"/><circle cx="202.7" cy="548.9" r="0.6"/><circle cx="203.1" cy="545.9" r="0.6"/><circle cx="197.6" cy="554.3" r="0.6"/><circle cx="203.1" cy="548.3" r="0.6"/><circle cx="197.7" cy="551.1" r="0.6"/><circle cx="205.7" cy="551.8" r="0.6"/><circle cx="197.7" cy="548.8" r="0.6"/><circle cx="198.7" cy="547.5" r="0.6"/><circle cx="202.2" cy="547.6" r="0.6"/><circle cx="210.8" cy="544.9" r="0.6"/><circle cx="199.3" cy="545.6" r="0.6"/><circle cx="200.1" cy="544.6" r="0.6"/><circle cx="199.0" cy="549.4" r="0.6"/><circle cx="203.4" cy="546.3" r="0.6"/><circle cx="212.9" cy="546.3" r="0.6"/><circle cx="201.2" cy="546.7" r="0.6"/><circle cx="196.7" cy="548.2" r="0.6"/><circle cx="203.0" cy="550.6" r="0.6"/><circle cx="199.2" cy="547.3" r="0.6"/><circle cx="205.9" cy="544.0" r="0.6"/><circle cx="201.4" cy="550.4" r="0.6"/><circle cx="197.3" cy="550.6" r="0.6"/><circle cx="202.8" cy="547.8" r="0.6"/><circle cx="210.5" cy="546.8" r="0.6"/><circle cx="200.7" cy="547.1" r="0.6"/><circle cx="204.1" cy="547.9" r="0.6"/><circle cx="201.4" cy="549.5" r="0.6"/><circle cx="204.0" cy="548.0" r="0.6"/><circle cx="198.2" cy="551.4" r="0.6"/><circle cx="203.0" cy="551.0" r="0.6"/><circle cx="201.6" cy="549.1" r="0.6"/><circle cx="198.9" cy="543.2" r="0.6"/><circle cx="204.5" cy="548.6" r="0.6"/><circle cx="198.8" cy="554.8" r="0.6"/><circle cx="197.5" cy="546.2" r="0.6"/><circle cx="196.9" cy="549.9" r="0.6"/><circle cx="201.9" cy="548.1" r="0.6"/><circle cx="202.2" cy="546.3" r="0.6"/><circle cx="201.9" cy="545.3" r="0.6"/><circle cx="196.6" cy="546.9" r="0.6"/><circle cx="196.9" cy="545.9" r="0.6"/><circle cx="202.3" cy="547.8" r="0.6"/><circle cx="198.8" cy="551.6" r="0.6"/><circle cx="202.5" cy="548.9" r="0.6"/><circle cx="196.8" cy="544.6" r="0.6"/><circle cx="201.3" cy="548.8" r="0.6"/><circle cx="210.4" cy="550.0" r="0.6"/><circle cx="202.7" cy="546.0" r="0.6"/><circle cx="207.7" cy="548.7" r="0.6"/><circle cx="204.1" cy="549.9" r="0.6"/><circle cx="198.9" cy="544.5" r="0.6"/><circle cx="210.7" cy="549.0" r="0.6"/><circle cx="201.4" cy="550.1" r="0.6"/><circle cx="199.1" cy="546.8" r="0.6"/><circle cx="200.0" cy="553.3" r="0.6"/><circle cx="207.8" cy="550.4" r="0.6"/><circle cx="198.9" cy="545.5" r="0.6"/><circle cx="199.1" cy="553.1" r="0.6"/><circle cx="199.6" cy="547.5" r="0.6"/><circle cx="204.6" cy="548.8" r="0.6"/><circle cx="202.3" cy="548.3" r="0.6"/><circle cx="201.4" cy="551.4" r="0.6"/><circle cx="197.4" cy="547.3" r="0.6"/><circle cx="198.0" cy="553.4" r="0.6"/><circle cx="199.0" cy="544.3" r="0.6"/><circle cx="206.8" cy="549.0" r="0.6"/><circle cx="219.5" cy="547.0" r="0.6"/><circle cx="197.1" cy="547.5" r="0.6"/><circle cx="199.0" cy="546.7" r="0.6"/><circle cx="206.3" cy="542.8" r="0.6"/><circle cx="197.3" cy="546.8" r="0.6"/><circle cx="200.3" cy="554.3" r="0.6"/><circle cx="201.8" cy="551.4" r="0.6"/><circle cx="199.8" cy="549.2" r="0.6"/><circle cx="197.9" cy="547.7" r="0.6"/><circle cx="201.4" cy="550.0" r="0.6"/><circle cx="198.5" cy="548.7" r="0.6"/><circle cx="206.0" cy="546.2" r="0.6"/><circle cx="199.0" cy="547.3" r="0.6"/><circle cx="201.6" cy="549.3" r="0.6"/><circle cx="202.6" cy="546.4" r="0.6"/><circle cx="202.3" cy="547.3" r="0.6"/><circle cx="205.9" cy="549.8" r="0.6"/><circle cx="201.8" cy="551.5" r="0.6"/><circle cx="210.8" cy="548.1" r="0.6"/><circle cx="205.0" cy="547.0" r="0.6"/><circle cx="197.2" cy="551.8" r="0.6"/><circle cx="196.8" cy="553.0" r="0.6"/><circle cx="200.0" cy="548.1" r="0.6"/><circle cx="197.1" cy="551.0" r="0.6"/><circle cx="196.8" cy="546.5" r="0.6"/><circle cx="198.7" cy="544.3" r="0.6"/><circle cx="204.8" cy="550.4" r="0.6"/><circle cx="199.3" cy="549.1" r="0.6"/><circle cx="200.5" cy="547.1" r="0.6"/><circle cx="201.8" cy="546.1" r="0.6"/><circle cx="201.7" cy="552.8" r="0.6"/><circle cx="206.8" cy="549.1" r="0.6"/><circle cx="200.0" cy="548.8" r="0.6"/><circle cx="205.9" cy="547.0" r="0.6"/><circle cx="197.0" cy="549.7" r="0.6"/><circle cx="206.0" cy="547.6" r="0.6"/><circle cx="198.0" cy="546.9" r="0.6"/><circle cx="200.8" cy="546.5" r="0.6"/><circle cx="197.1" cy="550.8" r="0.6"/><circle cx="201.0" cy="546.6" r="0.6"/><circle cx="199.2" cy="549.3" r="0.6"/><circle cx="201.1" cy="544.8" r="0.6"/><circle cx="198.8" cy="545.5" r="0.6"/><circle cx="201.2" cy="545.6" r="0.6"/><circle cx="203.6" cy="546.3" r="0.6"/><circle cx="196.9" cy="545.5" r="0.6"/><circle cx="197.9" cy="548.7" r="0.6"/><circle cx="197.0" cy="549.1" r="0.6"/><circle cx="202.2" cy="546.2" r="0.6"/><circle cx="196.5" cy="548.2" r="0.6"/><circle cx="209.9" cy="549.4" r="0.6"/><circle cx="201.5" cy="546.3" r="0.6"/><circle cx="199.4" cy="548.6" r="0.6"/><circle cx="198.7" cy="549.7" r="0.6"/><circle cx="201.0" cy="550.3" r="0.6"/><circle cx="199.2" cy="547.2" r="0.6"/><circle cx="196.6" cy="550.6" r="0.6"/><circle cx="199.3" cy="550.3" r="0.6"/><circle cx="197.2" cy="551.5" r="0.6"/><circle cx="211.0" cy="549.6" r="0.6"/><circle cx="206.9" cy="553.1" r="0.6"/><circle cx="200.2" cy="544.4" r="0.6"/><circle cx="211.9" cy="549.5" r="0.6"/><circle cx="203.6" cy="551.1" r="0.6"/><circle cx="199.0" cy="552.4" r="0.6"/><circle cx="197.0" cy="546.6" r="0.6"/><circle cx="196.9" cy="548.9" r="0.6"/><circle cx="196.8" cy="549.4" r="0.6"/><circle cx="210.7" cy="552.7" r="0.6"/><circle cx="200.2" cy="550.1" r="0.6"/><circle cx="201.7" cy="548.8" r="0.6"/><circle cx="197.6" cy="543.9" r="0.6"/><circle cx="199.0" cy="550.1" r="0.6"/><circle cx="203.8" cy="542.4" r="0.6"/><circle cx="200.7" cy="545.9" r="0.6"/><circle cx="197.2" cy="548.3" r="0.6"/><circle cx="207.0" cy="550.1" r="0.6"/><circle cx="198.2" cy="548.8" r="0.6"/><circle cx="215.2" cy="545.8" r="0.6"/><circle cx="202.5" cy="548.0" r="0.6"/><circle cx="198.6" cy="548.9" r="0.6"/><circle cx="202.6" cy="546.4" r="0.6"/><circle cx="198.5" cy="547.9" r="0.6"/><circle cx="196.6" cy="549.2" r="0.6"/><circle cx="198.3" cy="548.9" r="0.6"/><circle cx="196.7" cy="551.2" r="0.6"/><circle cx="197.2" cy="549.2" r="0.6"/><circle cx="213.4" cy="550.0" r="0.6"/><circle cx="199.8" cy="551.3" r="0.6"/><circle cx="203.0" cy="550.3" r="0.6"/><circle cx="201.4" cy="549.5" r="0.6"/><circle cx="202.8" cy="550.5" r="0.6"/><circle cx="204.2" cy="546.5" r="0.6"/></g>
<g filter="url(#bl2)"><ellipse cx="200.8" cy="547.2" rx="2.6" ry="2" fill="#3a8a6a" opacity="0.7"/></g>
<path d="M193.8,486.3 L249.9,486.3 L249.9,501" fill="none" stroke="#b4b4b4" stroke-width="1.2"/>
<path d="M193.8,486.3 L193.8,541 L249.9,541 L249.9,501" fill="none" stroke="#000" stroke-width="1.6"/>
<text x="201.26" y="495.90" font-size="6.3" textLength="44.17" lengthAdjust="spacingAndGlyphs" fill="#222">Tregs CD38pos</text>
<line x1="172.00" y1="543.17" x2="173.50" y2="543.17" stroke="#000" stroke-width="0.6"/>
<line x1="172.00" y1="539.70" x2="173.50" y2="539.70" stroke="#000" stroke-width="0.6"/>
<line x1="172.00" y1="537.24" x2="173.50" y2="537.24" stroke="#000" stroke-width="0.6"/>
<line x1="172.00" y1="535.33" x2="173.50" y2="535.33" stroke="#000" stroke-width="0.6"/>
<line x1="172.00" y1="533.77" x2="173.50" y2="533.77" stroke="#000" stroke-width="0.6"/>
<line x1="172.00" y1="532.45" x2="173.50" y2="532.45" stroke="#000" stroke-width="0.6"/>
<line x1="172.00" y1="531.31" x2="173.50" y2="531.31" stroke="#000" stroke-width="0.6"/>
<line x1="172.00" y1="530.30" x2="173.50" y2="530.30" stroke="#000" stroke-width="0.6"/>
<line x1="172.00" y1="523.50" x2="173.50" y2="523.50" stroke="#000" stroke-width="0.6"/>
<line x1="172.00" y1="520.05" x2="173.50" y2="520.05" stroke="#000" stroke-width="0.6"/>
<line x1="172.00" y1="517.60" x2="173.50" y2="517.60" stroke="#000" stroke-width="0.6"/>
<line x1="172.00" y1="515.70" x2="173.50" y2="515.70" stroke="#000" stroke-width="0.6"/>
<line x1="172.00" y1="514.15" x2="173.50" y2="514.15" stroke="#000" stroke-width="0.6"/>
<line x1="172.00" y1="512.84" x2="173.50" y2="512.84" stroke="#000" stroke-width="0.6"/>
<line x1="172.00" y1="511.70" x2="173.50" y2="511.70" stroke="#000" stroke-width="0.6"/>
<line x1="172.00" y1="510.70" x2="173.50" y2="510.70" stroke="#000" stroke-width="0.6"/>
<line x1="172.00" y1="503.96" x2="173.50" y2="503.96" stroke="#000" stroke-width="0.6"/>
<line x1="172.00" y1="500.54" x2="173.50" y2="500.54" stroke="#000" stroke-width="0.6"/>
<line x1="172.00" y1="498.12" x2="173.50" y2="498.12" stroke="#000" stroke-width="0.6"/>
<line x1="172.00" y1="496.24" x2="173.50" y2="496.24" stroke="#000" stroke-width="0.6"/>
<line x1="172.00" y1="494.70" x2="173.50" y2="494.70" stroke="#000" stroke-width="0.6"/>
<line x1="172.00" y1="493.41" x2="173.50" y2="493.41" stroke="#000" stroke-width="0.6"/>
<line x1="172.00" y1="492.28" x2="173.50" y2="492.28" stroke="#000" stroke-width="0.6"/>
<line x1="172.00" y1="491.29" x2="173.50" y2="491.29" stroke="#000" stroke-width="0.6"/>
<line x1="210.92" y1="566.50" x2="210.92" y2="568.00" stroke="#000" stroke-width="0.6"/>
<line x1="214.62" y1="566.50" x2="214.62" y2="568.00" stroke="#000" stroke-width="0.6"/>
<line x1="217.24" y1="566.50" x2="217.24" y2="568.00" stroke="#000" stroke-width="0.6"/>
<line x1="219.28" y1="566.50" x2="219.28" y2="568.00" stroke="#000" stroke-width="0.6"/>
<line x1="220.94" y1="566.50" x2="220.94" y2="568.00" stroke="#000" stroke-width="0.6"/>
<line x1="222.35" y1="566.50" x2="222.35" y2="568.00" stroke="#000" stroke-width="0.6"/>
<line x1="223.56" y1="566.50" x2="223.56" y2="568.00" stroke="#000" stroke-width="0.6"/>
<line x1="224.64" y1="566.50" x2="224.64" y2="568.00" stroke="#000" stroke-width="0.6"/>
<line x1="231.44" y1="566.50" x2="231.44" y2="568.00" stroke="#000" stroke-width="0.6"/>
<line x1="234.86" y1="566.50" x2="234.86" y2="568.00" stroke="#000" stroke-width="0.6"/>
<line x1="237.28" y1="566.50" x2="237.28" y2="568.00" stroke="#000" stroke-width="0.6"/>
<line x1="239.16" y1="566.50" x2="239.16" y2="568.00" stroke="#000" stroke-width="0.6"/>
<line x1="240.70" y1="566.50" x2="240.70" y2="568.00" stroke="#000" stroke-width="0.6"/>
<line x1="241.99" y1="566.50" x2="241.99" y2="568.00" stroke="#000" stroke-width="0.6"/>
<line x1="243.12" y1="566.50" x2="243.12" y2="568.00" stroke="#000" stroke-width="0.6"/>
<line x1="244.11" y1="566.50" x2="244.11" y2="568.00" stroke="#000" stroke-width="0.6"/>
<line x1="177.70" y1="566.50" x2="177.70" y2="568.00" stroke="#000" stroke-width="0.6"/>
<line x1="179.70" y1="566.50" x2="179.70" y2="568.00" stroke="#000" stroke-width="0.6"/>
<line x1="181.70" y1="566.50" x2="181.70" y2="568.00" stroke="#000" stroke-width="0.6"/>
<line x1="183.70" y1="566.50" x2="183.70" y2="568.00" stroke="#000" stroke-width="0.6"/>
<line x1="185.70" y1="566.50" x2="185.70" y2="568.00" stroke="#000" stroke-width="0.6"/>
<line x1="187.70" y1="566.50" x2="187.70" y2="568.00" stroke="#000" stroke-width="0.6"/>
<line x1="189.70" y1="566.50" x2="189.70" y2="568.00" stroke="#000" stroke-width="0.6"/>
<line x1="191.70" y1="566.50" x2="191.70" y2="568.00" stroke="#000" stroke-width="0.6"/>
<line x1="193.70" y1="566.50" x2="193.70" y2="568.00" stroke="#000" stroke-width="0.6"/>
<line x1="195.70" y1="566.50" x2="195.70" y2="568.00" stroke="#000" stroke-width="0.6"/>
<line x1="197.70" y1="566.50" x2="197.70" y2="568.00" stroke="#000" stroke-width="0.6"/>
<line x1="199.70" y1="566.50" x2="199.70" y2="568.00" stroke="#000" stroke-width="0.6"/>
<line x1="201.70" y1="566.50" x2="201.70" y2="568.00" stroke="#000" stroke-width="0.6"/>
<line x1="203.70" y1="566.50" x2="203.70" y2="568.00" stroke="#000" stroke-width="0.6"/>
<line x1="172.00" y1="549.50" x2="173.50" y2="549.50" stroke="#000" stroke-width="0.6"/>
<line x1="172.00" y1="551.50" x2="173.50" y2="551.50" stroke="#000" stroke-width="0.6"/>
<line x1="172.00" y1="553.50" x2="173.50" y2="553.50" stroke="#000" stroke-width="0.6"/>
<line x1="172.00" y1="555.50" x2="173.50" y2="555.50" stroke="#000" stroke-width="0.6"/>
<line x1="172.00" y1="557.50" x2="173.50" y2="557.50" stroke="#000" stroke-width="0.6"/>
<line x1="172.00" y1="559.50" x2="173.50" y2="559.50" stroke="#000" stroke-width="0.6"/>
<line x1="172.00" y1="561.50" x2="173.50" y2="561.50" stroke="#000" stroke-width="0.6"/>
<line x1="172.00" y1="563.50" x2="173.50" y2="563.50" stroke="#000" stroke-width="0.6"/>
<line x1="170.90" y1="490.40" x2="173.50" y2="490.40" stroke="#000" stroke-width="1.0"/>
<text x="169.00" y="492.70" font-size="6.6" text-anchor="end" fill="#262626">10<tspan font-size="4.2" dy="-3.0">5</tspan></text>
<line x1="170.90" y1="509.80" x2="173.50" y2="509.80" stroke="#000" stroke-width="1.0"/>
<text x="169.00" y="512.10" font-size="6.6" text-anchor="end" fill="#262626">10<tspan font-size="4.2" dy="-3.0">4</tspan></text>
<line x1="170.90" y1="529.40" x2="173.50" y2="529.40" stroke="#000" stroke-width="1.0"/>
<text x="169.00" y="531.70" font-size="6.6" text-anchor="end" fill="#262626">10<tspan font-size="4.2" dy="-3.0">3</tspan></text>
<line x1="170.90" y1="549.10" x2="173.50" y2="549.10" stroke="#000" stroke-width="1.0"/>
<text x="169.00" y="551.40" font-size="6.6" text-anchor="end" fill="#262626">10<tspan font-size="4.2" dy="-3.0">2</tspan></text>
<line x1="170.90" y1="556.90" x2="173.50" y2="556.90" stroke="#000" stroke-width="1.0"/>
<text x="169.00" y="559.20" font-size="6.6" text-anchor="end" fill="#262626">0</text>
<line x1="170.90" y1="564.00" x2="173.50" y2="564.00" stroke="#000" stroke-width="1.0"/>
<text x="169.00" y="566.30" font-size="6.6" text-anchor="end" fill="#262626">−10<tspan font-size="4.2" dy="-3.0">2</tspan></text>
<line x1="177.70" y1="566.50" x2="177.70" y2="569.10" stroke="#000" stroke-width="1.0"/>
<text x="177.70" y="580.90" font-size="6.6" text-anchor="middle" fill="#262626">−10<tspan font-size="4.2" dy="-3.0">3</tspan></text>
<line x1="190.60" y1="566.50" x2="190.60" y2="569.10" stroke="#000" stroke-width="1.0"/>
<text x="190.60" y="580.90" font-size="6.6" text-anchor="middle" fill="#262626">0</text>
<line x1="204.60" y1="566.50" x2="204.60" y2="569.10" stroke="#000" stroke-width="1.0"/>
<text x="204.60" y="580.90" font-size="6.6" text-anchor="middle" fill="#262626">10<tspan font-size="4.2" dy="-3.0">3</tspan></text>
<line x1="225.60" y1="566.50" x2="225.60" y2="569.10" stroke="#000" stroke-width="1.0"/>
<text x="225.60" y="580.90" font-size="6.6" text-anchor="middle" fill="#262626">10<tspan font-size="4.2" dy="-3.0">4</tspan></text>
<line x1="245.00" y1="566.50" x2="245.00" y2="569.10" stroke="#000" stroke-width="1.0"/>
<text x="245.00" y="580.90" font-size="6.6" text-anchor="middle" fill="#262626">10<tspan font-size="4.2" dy="-3.0">5</tspan></text>
<text x="205.06" y="592.30" font-size="8.6" textLength="16.91" lengthAdjust="spacingAndGlyphs" fill="#333">CD25</text>
<text x="149.60" y="533.02" font-size="8.4" textLength="15.99" lengthAdjust="spacingAndGlyphs" fill="#333" transform="rotate(-90 149.60 533.02)">CD38</text>
<text x="268.40" y="457.10" font-size="12.0" textLength="9.57" lengthAdjust="spacingAndGlyphs" font-weight="bold" fill="#000" stroke="#000" stroke-width="0.35">G</text>
<line x1="294.20" y1="480.30" x2="294.20" y2="567.90" stroke="#000" stroke-width="1.2"/>
<line x1="293.60" y1="567.30" x2="396.50" y2="567.30" stroke="#000" stroke-width="1.2"/>
<line x1="291.40" y1="490.70" x2="294.20" y2="490.70" stroke="#000" stroke-width="0.9"/>
<text x="281.08" y="492.90" font-size="6.3" textLength="6.98" lengthAdjust="spacingAndGlyphs" fill="#3a3a3a">25</text>
<line x1="291.40" y1="504.50" x2="294.20" y2="504.50" stroke="#000" stroke-width="0.9"/>
<text x="281.09" y="506.70" font-size="6.3" textLength="6.96" lengthAdjust="spacingAndGlyphs" fill="#3a3a3a">20</text>
<line x1="291.40" y1="518.20" x2="294.20" y2="518.20" stroke="#000" stroke-width="0.9"/>
<text x="280.91" y="520.40" font-size="6.3" textLength="7.16" lengthAdjust="spacingAndGlyphs" fill="#3a3a3a">15</text>
<line x1="291.40" y1="532.00" x2="294.20" y2="532.00" stroke="#000" stroke-width="0.9"/>
<text x="280.91" y="534.20" font-size="6.3" textLength="7.14" lengthAdjust="spacingAndGlyphs" fill="#3a3a3a">10</text>
<line x1="291.40" y1="545.70" x2="294.20" y2="545.70" stroke="#000" stroke-width="0.9"/>
<text x="284.33" y="547.90" font-size="6.3" textLength="3.75" lengthAdjust="spacingAndGlyphs" fill="#3a3a3a">5</text>
<line x1="291.40" y1="559.50" x2="294.20" y2="559.50" stroke="#000" stroke-width="0.9"/>
<text x="284.34" y="561.70" font-size="6.3" textLength="3.72" lengthAdjust="spacingAndGlyphs" fill="#3a3a3a">0</text>
<text x="276.20" y="566.44" font-size="7.8" textLength="86.84" lengthAdjust="spacingAndGlyphs" fill="#333" transform="rotate(-90 276.20 566.44)">Naive CD8 T cells/CD45+ (%)</text>
<text x="289.94" y="470.60" font-size="8.7" textLength="112.65" lengthAdjust="spacingAndGlyphs" fill="#222">Frequency of naive CD8 T cells</text>
<text x="297.37" y="481.30" font-size="6.7" textLength="55.91" lengthAdjust="spacingAndGlyphs" fill="#333">Wilcoxon <tspan font-style="italic">P</tspan> = .0313</text>
<line x1="322.80" y1="527.10" x2="322.80" y2="556.70" stroke="#6f6f6f" stroke-width="1.1"/>
<rect x="306.25" y="541.25" width="34.20" height="9.80" fill="#aec186" stroke="#98a87a" stroke-width="0.7"/>
<line x1="305.90" y1="548.30" x2="340.80" y2="548.30" stroke="#1a2410" stroke-width="1.3"/>
<circle cx="323.80" cy="493.70" r="1.0" fill="#000"/>
<circle cx="322.80" cy="527.10" r="1.0" fill="#000"/>
<circle cx="323.40" cy="532.40" r="1.0" fill="#000"/>
<circle cx="321.30" cy="543.00" r="1.0" fill="#000"/>
<circle cx="323.80" cy="548.70" r="1.0" fill="#000"/>
<circle cx="321.70" cy="550.00" r="1.0" fill="#000"/>
<circle cx="324.90" cy="548.70" r="1.0" fill="#000"/>
<circle cx="319.60" cy="555.70" r="1.0" fill="#000"/>
<circle cx="324.90" cy="555.70" r="1.0" fill="#000"/>
<circle cx="327.00" cy="554.60" r="1.0" fill="#000"/>
<circle cx="323.40" cy="556.70" r="1.0" fill="#000"/>
<circle cx="322.00" cy="546.00" r="1.0" fill="#000"/>
<circle cx="326.00" cy="551.00" r="1.0" fill="#000"/>
<line x1="322.80" y1="567.30" x2="322.80" y2="569.70" stroke="#000" stroke-width="0.9"/>
<text x="312.67" y="564.90" font-size="5.7" textLength="20.51" lengthAdjust="spacingAndGlyphs" fill="#333">n = 13</text>
<text x="300.15" y="579.20" font-size="6.8" textLength="45.79" lengthAdjust="spacingAndGlyphs" fill="#333">Nonresponders</text>
<line x1="369.80" y1="512.30" x2="369.80" y2="553.60" stroke="#6f6f6f" stroke-width="1.1"/>
<rect x="353.15" y="530.25" width="33.80" height="16.00" fill="#34b033" stroke="#2a8f2a" stroke-width="0.7"/>
<line x1="352.80" y1="539.20" x2="387.30" y2="539.20" stroke="#0a260a" stroke-width="1.3"/>
<circle cx="370.80" cy="490.10" r="1.0" fill="#000"/>
<circle cx="370.00" cy="499.60" r="1.0" fill="#000"/>
<circle cx="370.00" cy="512.30" r="1.0" fill="#000"/>
<circle cx="368.70" cy="528.20" r="1.0" fill="#000"/>
<circle cx="370.80" cy="528.80" r="1.0" fill="#000"/>
<circle cx="367.20" cy="531.40" r="1.0" fill="#000"/>
<circle cx="373.60" cy="533.00" r="1.0" fill="#000"/>
<circle cx="370.00" cy="539.80" r="1.0" fill="#000"/>
<circle cx="368.30" cy="538.80" r="1.0" fill="#000"/>
<circle cx="371.40" cy="540.90" r="1.0" fill="#000"/>
<circle cx="369.30" cy="544.00" r="1.0" fill="#000"/>
<circle cx="367.90" cy="545.10" r="1.0" fill="#000"/>
<circle cx="371.00" cy="545.10" r="1.0" fill="#000"/>
<circle cx="367.20" cy="549.30" r="1.0" fill="#000"/>
<circle cx="370.00" cy="549.30" r="1.0" fill="#000"/>
<circle cx="372.10" cy="550.00" r="1.0" fill="#000"/>
<circle cx="370.40" cy="552.50" r="1.0" fill="#000"/>
<circle cx="371.40" cy="553.60" r="1.0" fill="#000"/>
<circle cx="366.00" cy="536.00" r="1.0" fill="#000"/>
<circle cx="374.00" cy="542.00" r="1.0" fill="#000"/>
<circle cx="369.00" cy="534.00" r="1.0" fill="#000"/>
<circle cx="372.00" cy="547.00" r="1.0" fill="#000"/>
<circle cx="366.00" cy="551.00" r="1.0" fill="#000"/>
<circle cx="373.00" cy="537.00" r="1.0" fill="#000"/>
<circle cx="368.00" cy="542.00" r="1.0" fill="#000"/>
<circle cx="371.00" cy="530.00" r="1.0" fill="#000"/>
<circle cx="365.00" cy="548.00" r="1.0" fill="#000"/>
<line x1="369.80" y1="567.30" x2="369.80" y2="569.70" stroke="#000" stroke-width="0.9"/>
<text x="359.66" y="564.90" font-size="5.7" textLength="20.55" lengthAdjust="spacingAndGlyphs" fill="#333">n = 27</text>
<text x="353.07" y="579.20" font-size="6.8" textLength="34.76" lengthAdjust="spacingAndGlyphs" fill="#333">Responders</text>
<text x="454.58" y="471.90" font-size="7.0" textLength="32.95" lengthAdjust="spacingAndGlyphs" fill="#222">CD8 T cells</text>
<line x1="428.20" y1="475.50" x2="513.50" y2="475.50" stroke="#1a1a1a" stroke-width="1.0"/>
<rect x="429.50" y="483.50" width="83.00" height="84.00" fill="none" stroke="#000" stroke-width="1.15"/>
<path d="M438.9,503.5 L440,504.5 439.40,504.50 440.70,507.10 442.00,509.70 443.30,512.30 444.60,514.90 445.90,517.50 447.20,520.10 448.50,522.70 449.80,525.30 451.10,527.90 452.40,530.50 453.70,533.10 455.00,535.70 456.30,538.30 457.60,540.90 458.90,543.50 460.20,546.10 461.50,548.70 462.80,551.30 464.10,553.90 465.40,556.50 L465.3,556.4 L438.9,556.4 Z" fill="#060606"/>
<path d="M438.9,525 L441,526.5 L445,530 L451,535 L456,539 L456,556.4 L438.9,556.4 Z" fill="url(#gr1)"/>
<path d="M438.9,525 L441,526.5 L445,530 L451,535 L456,539 L456,556.4 L438.9,556.4 Z" fill="url(#gr2)"/>
<g fill="#000"><rect x="451.8" y="528.0" width="0.7" height="0.7"/><rect x="463.6" y="549.3" width="0.7" height="0.7"/><rect x="445.8" y="503.8" width="0.7" height="0.7"/><rect x="439.2" y="507.8" width="0.7" height="0.7"/><rect x="453.2" y="532.8" width="0.7" height="0.7"/><rect x="448.2" y="523.6" width="0.7" height="0.7"/><rect x="468.6" y="540.7" width="0.7" height="0.7"/><rect x="443.5" y="511.8" width="0.7" height="0.7"/><rect x="448.3" y="516.1" width="0.7" height="0.7"/><rect x="468.9" y="552.4" width="0.7" height="0.7"/><rect x="453.7" y="534.7" width="0.7" height="0.7"/><rect x="465.2" y="543.0" width="0.7" height="0.7"/><rect x="441.4" y="508.9" width="0.7" height="0.7"/><rect x="468.6" y="541.9" width="0.7" height="0.7"/><rect x="452.6" y="525.8" width="0.7" height="0.7"/><rect x="444.7" y="514.6" width="0.7" height="0.7"/><rect x="445.8" y="518.4" width="0.7" height="0.7"/><rect x="466.4" y="550.4" width="0.7" height="0.7"/><rect x="469.0" y="550.0" width="0.7" height="0.7"/><rect x="452.3" y="529.5" width="0.7" height="0.7"/><rect x="445.7" y="504.7" width="0.7" height="0.7"/><rect x="444.6" y="509.4" width="0.7" height="0.7"/><rect x="460.2" y="535.1" width="0.7" height="0.7"/><rect x="469.4" y="550.9" width="0.7" height="0.7"/><rect x="444.5" y="514.2" width="0.7" height="0.7"/><rect x="451.3" y="532.1" width="0.7" height="0.7"/><rect x="441.6" y="504.4" width="0.7" height="0.7"/><rect x="467.2" y="552.2" width="0.7" height="0.7"/><rect x="455.7" y="525.7" width="0.7" height="0.7"/><rect x="443.3" y="508.4" width="0.7" height="0.7"/><rect x="457.2" y="534.2" width="0.7" height="0.7"/><rect x="474.5" y="554.2" width="0.7" height="0.7"/><rect x="444.0" y="506.4" width="0.7" height="0.7"/><rect x="443.2" y="511.4" width="0.7" height="0.7"/><rect x="464.3" y="517.7" width="0.7" height="0.7"/><rect x="440.7" y="509.9" width="0.7" height="0.7"/><rect x="461.5" y="540.8" width="0.7" height="0.7"/><rect x="454.8" y="535.8" width="0.7" height="0.7"/><rect x="442.4" y="505.8" width="0.7" height="0.7"/><rect x="461.2" y="534.7" width="0.7" height="0.7"/><rect x="464.5" y="544.5" width="0.7" height="0.7"/><rect x="464.3" y="549.2" width="0.7" height="0.7"/><rect x="459.9" y="534.4" width="0.7" height="0.7"/><rect x="466.1" y="555.7" width="0.7" height="0.7"/><rect x="465.8" y="533.9" width="0.7" height="0.7"/><rect x="446.9" y="520.9" width="0.7" height="0.7"/><rect x="450.0" y="526.4" width="0.7" height="0.7"/><rect x="451.9" y="520.7" width="0.7" height="0.7"/><rect x="440.7" y="508.2" width="0.7" height="0.7"/><rect x="460.7" y="545.0" width="0.7" height="0.7"/><rect x="439.0" y="504.8" width="0.7" height="0.7"/><rect x="462.9" y="529.8" width="0.7" height="0.7"/><rect x="455.8" y="541.0" width="0.7" height="0.7"/><rect x="459.2" y="526.0" width="0.7" height="0.7"/><rect x="448.5" y="515.7" width="0.7" height="0.7"/><rect x="448.2" y="523.2" width="0.7" height="0.7"/><rect x="469.3" y="549.0" width="0.7" height="0.7"/><rect x="447.0" y="512.5" width="0.7" height="0.7"/><rect x="459.4" y="548.1" width="0.7" height="0.7"/><rect x="466.0" y="555.1" width="0.7" height="0.7"/><rect x="455.7" y="512.6" width="0.7" height="0.7"/><rect x="460.6" y="535.6" width="0.7" height="0.7"/><rect x="439.8" y="504.1" width="0.7" height="0.7"/><rect x="448.9" y="524.1" width="0.7" height="0.7"/><rect x="460.3" y="535.9" width="0.7" height="0.7"/><rect x="441.6" y="510.9" width="0.7" height="0.7"/><rect x="453.9" y="533.2" width="0.7" height="0.7"/><rect x="454.1" y="532.9" width="0.7" height="0.7"/><rect x="463.8" y="540.3" width="0.7" height="0.7"/><rect x="459.3" y="540.7" width="0.7" height="0.7"/><rect x="470.9" y="543.9" width="0.7" height="0.7"/><rect x="448.6" y="512.4" width="0.7" height="0.7"/><rect x="458.2" y="541.3" width="0.7" height="0.7"/><rect x="464.7" y="529.7" width="0.7" height="0.7"/><rect x="445.0" y="508.7" width="0.7" height="0.7"/><rect x="443.4" y="512.7" width="0.7" height="0.7"/><rect x="465.7" y="536.8" width="0.7" height="0.7"/><rect x="447.6" y="515.3" width="0.7" height="0.7"/><rect x="439.3" y="504.2" width="0.7" height="0.7"/><rect x="459.2" y="533.1" width="0.7" height="0.7"/><rect x="450.6" y="524.0" width="0.7" height="0.7"/><rect x="472.2" y="553.6" width="0.7" height="0.7"/><rect x="452.7" y="531.8" width="0.7" height="0.7"/><rect x="464.1" y="556.0" width="0.7" height="0.7"/><rect x="471.8" y="550.5" width="0.7" height="0.7"/><rect x="453.6" y="531.9" width="0.7" height="0.7"/><rect x="473.9" y="551.6" width="0.7" height="0.7"/><rect x="455.6" y="532.2" width="0.7" height="0.7"/><rect x="446.3" y="519.4" width="0.7" height="0.7"/><rect x="447.1" y="509.0" width="0.7" height="0.7"/><rect x="464.9" y="540.5" width="0.7" height="0.7"/><rect x="456.4" y="537.2" width="0.7" height="0.7"/><rect x="441.7" y="506.3" width="0.7" height="0.7"/><rect x="465.8" y="550.0" width="0.7" height="0.7"/><rect x="447.0" y="515.7" width="0.7" height="0.7"/><rect x="465.1" y="536.6" width="0.7" height="0.7"/><rect x="472.7" y="549.8" width="0.7" height="0.7"/><rect x="455.5" y="535.9" width="0.7" height="0.7"/><rect x="457.5" y="539.4" width="0.7" height="0.7"/><rect x="443.0" y="513.5" width="0.7" height="0.7"/><rect x="454.2" y="535.7" width="0.7" height="0.7"/><rect x="448.4" y="522.3" width="0.7" height="0.7"/><rect x="450.9" y="528.4" width="0.7" height="0.7"/><rect x="457.9" y="544.5" width="0.7" height="0.7"/><rect x="445.9" y="521.2" width="0.7" height="0.7"/><rect x="463.4" y="554.0" width="0.7" height="0.7"/><rect x="475.1" y="534.7" width="0.7" height="0.7"/><rect x="463.0" y="547.6" width="0.7" height="0.7"/><rect x="441.7" y="509.1" width="0.7" height="0.7"/><rect x="462.8" y="544.8" width="0.7" height="0.7"/><rect x="442.4" y="513.7" width="0.7" height="0.7"/><rect x="442.4" y="509.9" width="0.7" height="0.7"/><rect x="471.3" y="553.1" width="0.7" height="0.7"/><rect x="457.8" y="542.7" width="0.7" height="0.7"/><rect x="456.0" y="528.2" width="0.7" height="0.7"/><rect x="454.8" y="537.1" width="0.7" height="0.7"/><rect x="443.4" y="516.0" width="0.7" height="0.7"/><rect x="448.5" y="513.9" width="0.7" height="0.7"/><rect x="449.9" y="526.7" width="0.7" height="0.7"/><rect x="440.0" y="509.0" width="0.7" height="0.7"/><rect x="464.6" y="545.8" width="0.7" height="0.7"/><rect x="462.0" y="548.6" width="0.7" height="0.7"/><rect x="453.4" y="535.5" width="0.7" height="0.7"/><rect x="446.2" y="518.1" width="0.7" height="0.7"/><rect x="449.9" y="519.4" width="0.7" height="0.7"/><rect x="481.1" y="545.1" width="0.7" height="0.7"/><rect x="478.9" y="551.2" width="0.7" height="0.7"/><rect x="469.8" y="552.2" width="0.7" height="0.7"/><rect x="469.9" y="554.7" width="0.7" height="0.7"/><rect x="446.2" y="516.6" width="0.7" height="0.7"/><rect x="460.2" y="535.5" width="0.7" height="0.7"/><rect x="459.5" y="547.8" width="0.7" height="0.7"/><rect x="448.8" y="524.6" width="0.7" height="0.7"/><rect x="454.6" y="527.9" width="0.7" height="0.7"/><rect x="460.8" y="535.8" width="0.7" height="0.7"/><rect x="444.2" y="513.4" width="0.7" height="0.7"/><rect x="449.4" y="524.8" width="0.7" height="0.7"/><rect x="455.4" y="532.3" width="0.7" height="0.7"/><rect x="443.7" y="513.5" width="0.7" height="0.7"/><rect x="447.6" y="510.8" width="0.7" height="0.7"/><rect x="458.0" y="536.6" width="0.7" height="0.7"/><rect x="460.3" y="535.6" width="0.7" height="0.7"/><rect x="467.8" y="543.8" width="0.7" height="0.7"/><rect x="448.4" y="514.7" width="0.7" height="0.7"/><rect x="452.0" y="532.2" width="0.7" height="0.7"/><rect x="452.8" y="532.7" width="0.7" height="0.7"/><rect x="453.5" y="528.4" width="0.7" height="0.7"/><rect x="465.1" y="547.6" width="0.7" height="0.7"/><rect x="460.0" y="530.7" width="0.7" height="0.7"/><rect x="449.9" y="518.6" width="0.7" height="0.7"/><rect x="452.0" y="531.7" width="0.7" height="0.7"/><rect x="461.9" y="552.2" width="0.7" height="0.7"/><rect x="439.5" y="505.7" width="0.7" height="0.7"/><rect x="441.7" y="508.6" width="0.7" height="0.7"/><rect x="472.1" y="547.1" width="0.7" height="0.7"/><rect x="447.6" y="524.4" width="0.7" height="0.7"/><rect x="465.6" y="550.5" width="0.7" height="0.7"/><rect x="455.3" y="540.0" width="0.7" height="0.7"/><rect x="447.1" y="522.5" width="0.7" height="0.7"/><rect x="452.8" y="523.9" width="0.7" height="0.7"/><rect x="449.7" y="513.2" width="0.7" height="0.7"/><rect x="462.0" y="533.7" width="0.7" height="0.7"/><rect x="450.9" y="528.8" width="0.7" height="0.7"/><rect x="469.0" y="549.3" width="0.7" height="0.7"/><rect x="474.2" y="543.4" width="0.7" height="0.7"/><rect x="448.0" y="517.9" width="0.7" height="0.7"/><rect x="462.1" y="539.5" width="0.7" height="0.7"/><rect x="447.5" y="515.8" width="0.7" height="0.7"/><rect x="455.2" y="521.9" width="0.7" height="0.7"/><rect x="470.2" y="535.3" width="0.7" height="0.7"/><rect x="440.3" y="504.9" width="0.7" height="0.7"/><rect x="443.2" y="513.4" width="0.7" height="0.7"/><rect x="446.3" y="508.6" width="0.7" height="0.7"/><rect x="442.0" y="510.6" width="0.7" height="0.7"/><rect x="472.6" y="551.2" width="0.7" height="0.7"/><rect x="445.0" y="515.0" width="0.7" height="0.7"/><rect x="457.9" y="525.9" width="0.7" height="0.7"/><rect x="481.4" y="548.3" width="0.7" height="0.7"/><rect x="456.0" y="541.4" width="0.7" height="0.7"/><rect x="462.2" y="529.7" width="0.7" height="0.7"/><rect x="451.9" y="524.6" width="0.7" height="0.7"/><rect x="461.3" y="528.0" width="0.7" height="0.7"/><rect x="466.1" y="532.9" width="0.7" height="0.7"/><rect x="465.2" y="552.1" width="0.7" height="0.7"/><rect x="446.9" y="522.3" width="0.7" height="0.7"/><rect x="463.2" y="550.5" width="0.7" height="0.7"/><rect x="455.6" y="513.4" width="0.7" height="0.7"/><rect x="459.4" y="531.6" width="0.7" height="0.7"/><rect x="458.9" y="539.0" width="0.7" height="0.7"/><rect x="464.3" y="555.1" width="0.7" height="0.7"/><rect x="462.3" y="548.7" width="0.7" height="0.7"/><rect x="456.8" y="534.2" width="0.7" height="0.7"/><rect x="454.9" y="518.5" width="0.7" height="0.7"/><rect x="440.7" y="510.4" width="0.7" height="0.7"/><rect x="449.4" y="525.0" width="0.7" height="0.7"/><rect x="479.8" y="544.7" width="0.7" height="0.7"/><rect x="441.2" y="505.7" width="0.7" height="0.7"/><rect x="445.7" y="512.7" width="0.7" height="0.7"/><rect x="447.7" y="514.1" width="0.7" height="0.7"/><rect x="465.4" y="538.8" width="0.7" height="0.7"/><rect x="461.1" y="548.2" width="0.7" height="0.7"/><rect x="462.4" y="545.3" width="0.7" height="0.7"/><rect x="448.7" y="523.6" width="0.7" height="0.7"/><rect x="468.9" y="554.3" width="0.7" height="0.7"/><rect x="453.2" y="529.0" width="0.7" height="0.7"/><rect x="446.0" y="513.1" width="0.7" height="0.7"/><rect x="444.8" y="508.5" width="0.7" height="0.7"/><rect x="470.1" y="554.5" width="0.7" height="0.7"/><rect x="453.9" y="535.9" width="0.7" height="0.7"/><rect x="463.0" y="553.7" width="0.7" height="0.7"/><rect x="442.9" y="514.0" width="0.7" height="0.7"/><rect x="442.2" y="506.6" width="0.7" height="0.7"/><rect x="460.9" y="548.5" width="0.7" height="0.7"/><rect x="448.3" y="514.4" width="0.7" height="0.7"/><rect x="440.7" y="510.0" width="0.7" height="0.7"/><rect x="445.7" y="519.9" width="0.7" height="0.7"/><rect x="458.7" y="537.2" width="0.7" height="0.7"/><rect x="471.4" y="553.0" width="0.7" height="0.7"/><rect x="451.8" y="520.6" width="0.7" height="0.7"/><rect x="463.4" y="551.9" width="0.7" height="0.7"/><rect x="457.2" y="542.7" width="0.7" height="0.7"/><rect x="443.5" y="514.6" width="0.7" height="0.7"/><rect x="459.7" y="547.9" width="0.7" height="0.7"/><rect x="462.5" y="541.1" width="0.7" height="0.7"/><rect x="464.0" y="540.8" width="0.7" height="0.7"/><rect x="440.9" y="507.5" width="0.7" height="0.7"/><rect x="477.0" y="553.3" width="0.7" height="0.7"/><rect x="443.2" y="506.6" width="0.7" height="0.7"/><rect x="464.2" y="548.3" width="0.7" height="0.7"/><rect x="453.6" y="522.8" width="0.7" height="0.7"/><rect x="457.5" y="522.0" width="0.7" height="0.7"/><rect x="452.0" y="530.8" width="0.7" height="0.7"/><rect x="464.3" y="555.0" width="0.7" height="0.7"/><rect x="450.0" y="520.1" width="0.7" height="0.7"/><rect x="460.0" y="545.7" width="0.7" height="0.7"/><rect x="451.0" y="531.7" width="0.7" height="0.7"/><rect x="464.7" y="550.1" width="0.7" height="0.7"/><rect x="461.4" y="546.9" width="0.7" height="0.7"/><rect x="447.4" y="517.2" width="0.7" height="0.7"/><rect x="464.6" y="527.4" width="0.7" height="0.7"/><rect x="454.2" y="525.1" width="0.7" height="0.7"/><rect x="468.1" y="553.9" width="0.7" height="0.7"/><rect x="470.1" y="545.8" width="0.7" height="0.7"/><rect x="455.4" y="537.6" width="0.7" height="0.7"/><rect x="449.0" y="526.5" width="0.7" height="0.7"/><rect x="463.8" y="524.1" width="0.7" height="0.7"/><rect x="471.5" y="554.1" width="0.7" height="0.7"/><rect x="464.1" y="555.4" width="0.7" height="0.7"/><rect x="445.9" y="519.0" width="0.7" height="0.7"/><rect x="441.1" y="503.9" width="0.7" height="0.7"/><rect x="447.0" y="514.1" width="0.7" height="0.7"/><rect x="457.7" y="535.8" width="0.7" height="0.7"/><rect x="468.1" y="554.8" width="0.7" height="0.7"/><rect x="446.6" y="513.4" width="0.7" height="0.7"/><rect x="461.2" y="538.6" width="0.7" height="0.7"/><rect x="441.0" y="511.1" width="0.7" height="0.7"/><rect x="453.3" y="514.0" width="0.7" height="0.7"/><rect x="454.0" y="528.5" width="0.7" height="0.7"/><rect x="465.0" y="543.3" width="0.7" height="0.7"/><rect x="458.8" y="537.6" width="0.7" height="0.7"/><rect x="469.8" y="544.4" width="0.7" height="0.7"/><rect x="457.5" y="528.0" width="0.7" height="0.7"/><rect x="454.9" y="528.7" width="0.7" height="0.7"/><rect x="446.0" y="508.2" width="0.7" height="0.7"/><rect x="464.3" y="541.8" width="0.7" height="0.7"/><rect x="444.8" y="507.4" width="0.7" height="0.7"/><rect x="452.4" y="531.7" width="0.7" height="0.7"/><rect x="445.5" y="511.4" width="0.7" height="0.7"/><rect x="460.3" y="531.8" width="0.7" height="0.7"/><rect x="463.1" y="553.2" width="0.7" height="0.7"/><rect x="444.9" y="518.6" width="0.7" height="0.7"/><rect x="474.8" y="540.6" width="0.7" height="0.7"/><rect x="466.0" y="540.5" width="0.7" height="0.7"/><rect x="457.6" y="544.0" width="0.7" height="0.7"/><rect x="461.0" y="549.7" width="0.7" height="0.7"/><rect x="458.7" y="530.5" width="0.7" height="0.7"/><rect x="461.1" y="544.1" width="0.7" height="0.7"/><rect x="447.3" y="523.2" width="0.7" height="0.7"/><rect x="468.9" y="555.4" width="0.7" height="0.7"/><rect x="459.3" y="540.3" width="0.7" height="0.7"/><rect x="470.2" y="550.1" width="0.7" height="0.7"/><rect x="449.7" y="520.7" width="0.7" height="0.7"/><rect x="483.4" y="554.3" width="0.7" height="0.7"/><rect x="445.8" y="517.0" width="0.7" height="0.7"/><rect x="470.4" y="546.3" width="0.7" height="0.7"/><rect x="443.0" y="507.2" width="0.7" height="0.7"/><rect x="463.7" y="546.6" width="0.7" height="0.7"/><rect x="453.4" y="527.4" width="0.7" height="0.7"/><rect x="460.6" y="547.5" width="0.7" height="0.7"/><rect x="463.8" y="550.2" width="0.7" height="0.7"/><rect x="459.0" y="544.4" width="0.7" height="0.7"/><rect x="462.3" y="549.3" width="0.7" height="0.7"/><rect x="451.2" y="518.9" width="0.7" height="0.7"/><rect x="441.9" y="508.1" width="0.7" height="0.7"/><rect x="474.6" y="551.6" width="0.7" height="0.7"/><rect x="467.3" y="546.6" width="0.7" height="0.7"/><rect x="446.3" y="516.8" width="0.7" height="0.7"/><rect x="460.0" y="541.0" width="0.7" height="0.7"/><rect x="463.1" y="555.0" width="0.7" height="0.7"/><rect x="459.8" y="531.9" width="0.7" height="0.7"/><rect x="448.9" y="525.1" width="0.7" height="0.7"/><rect x="447.7" y="516.5" width="0.7" height="0.7"/><rect x="456.1" y="540.3" width="0.7" height="0.7"/><rect x="482.0" y="542.0" width="0.7" height="0.7"/><rect x="448.8" y="513.2" width="0.7" height="0.7"/><rect x="441.3" y="510.6" width="0.7" height="0.7"/><rect x="460.8" y="529.9" width="0.7" height="0.7"/><rect x="454.1" y="524.0" width="0.7" height="0.7"/><rect x="452.9" y="532.4" width="0.7" height="0.7"/><rect x="448.8" y="521.3" width="0.7" height="0.7"/><rect x="471.6" y="546.3" width="0.7" height="0.7"/><rect x="447.4" y="507.9" width="0.7" height="0.7"/><rect x="442.5" y="508.0" width="0.7" height="0.7"/><rect x="452.0" y="522.9" width="0.7" height="0.7"/><rect x="453.7" y="515.2" width="0.7" height="0.7"/><rect x="468.5" y="553.1" width="0.7" height="0.7"/><rect x="453.9" y="536.6" width="0.7" height="0.7"/><rect x="447.7" y="511.8" width="0.7" height="0.7"/><rect x="439.5" y="506.8" width="0.7" height="0.7"/><rect x="445.0" y="512.0" width="0.7" height="0.7"/><rect x="463.5" y="546.9" width="0.7" height="0.7"/><rect x="443.5" y="511.5" width="0.7" height="0.7"/><rect x="463.1" y="550.7" width="0.7" height="0.7"/><rect x="441.4" y="507.3" width="0.7" height="0.7"/><rect x="471.6" y="551.5" width="0.7" height="0.7"/><rect x="464.8" y="540.0" width="0.7" height="0.7"/><rect x="460.5" y="534.6" width="0.7" height="0.7"/><rect x="445.1" y="518.4" width="0.7" height="0.7"/><rect x="459.4" y="537.7" width="0.7" height="0.7"/><rect x="449.1" y="517.3" width="0.7" height="0.7"/><rect x="453.0" y="523.0" width="0.7" height="0.7"/><rect x="460.7" y="537.6" width="0.7" height="0.7"/><rect x="468.3" y="537.7" width="0.7" height="0.7"/><rect x="460.2" y="549.8" width="0.7" height="0.7"/><rect x="473.5" y="543.0" width="0.7" height="0.7"/><rect x="464.6" y="553.4" width="0.7" height="0.7"/><rect x="446.9" y="518.1" width="0.7" height="0.7"/><rect x="440.6" y="504.5" width="0.7" height="0.7"/><rect x="443.8" y="515.9" width="0.7" height="0.7"/><rect x="447.9" y="524.7" width="0.7" height="0.7"/><rect x="445.0" y="503.8" width="0.7" height="0.7"/><rect x="457.8" y="541.2" width="0.7" height="0.7"/><rect x="464.1" y="546.1" width="0.7" height="0.7"/><rect x="462.3" y="537.6" width="0.7" height="0.7"/><rect x="465.9" y="555.4" width="0.7" height="0.7"/><rect x="445.4" y="514.6" width="0.7" height="0.7"/><rect x="441.3" y="508.5" width="0.7" height="0.7"/><rect x="452.6" y="514.9" width="0.7" height="0.7"/><rect x="444.1" y="513.3" width="0.7" height="0.7"/><rect x="453.2" y="533.8" width="0.7" height="0.7"/><rect x="466.1" y="545.1" width="0.7" height="0.7"/><rect x="452.8" y="532.6" width="0.7" height="0.7"/><rect x="448.9" y="511.1" width="0.7" height="0.7"/><rect x="440.8" y="505.7" width="0.7" height="0.7"/><rect x="473.5" y="544.0" width="0.7" height="0.7"/><rect x="472.9" y="540.4" width="0.7" height="0.7"/><rect x="459.3" y="533.5" width="0.7" height="0.7"/><rect x="446.4" y="512.9" width="0.7" height="0.7"/><rect x="460.0" y="541.0" width="0.7" height="0.7"/><rect x="449.8" y="522.0" width="0.7" height="0.7"/><rect x="442.1" y="511.0" width="0.7" height="0.7"/><rect x="460.3" y="542.3" width="0.7" height="0.7"/><rect x="452.2" y="520.3" width="0.7" height="0.7"/><rect x="465.8" y="542.1" width="0.7" height="0.7"/><rect x="444.1" y="513.9" width="0.7" height="0.7"/><rect x="474.2" y="556.2" width="0.7" height="0.7"/><rect x="444.5" y="514.5" width="0.7" height="0.7"/><rect x="455.9" y="527.2" width="0.7" height="0.7"/><rect x="458.3" y="542.9" width="0.7" height="0.7"/><rect x="452.4" y="521.2" width="0.7" height="0.7"/><rect x="445.6" y="510.7" width="0.7" height="0.7"/><rect x="465.1" y="547.0" width="0.7" height="0.7"/><rect x="462.0" y="547.5" width="0.7" height="0.7"/><rect x="440.9" y="509.8" width="0.7" height="0.7"/><rect x="472.2" y="553.5" width="0.7" height="0.7"/><rect x="465.5" y="554.8" width="0.7" height="0.7"/><rect x="471.9" y="547.4" width="0.7" height="0.7"/><rect x="452.2" y="530.7" width="0.7" height="0.7"/><rect x="441.1" y="507.2" width="0.7" height="0.7"/><rect x="444.7" y="505.9" width="0.7" height="0.7"/><rect x="456.3" y="534.8" width="0.7" height="0.7"/><rect x="450.7" y="507.1" width="0.7" height="0.7"/><rect x="455.4" y="525.4" width="0.7" height="0.7"/><rect x="453.2" y="522.7" width="0.7" height="0.7"/><rect x="465.8" y="542.9" width="0.7" height="0.7"/><rect x="442.5" y="513.2" width="0.7" height="0.7"/><rect x="443.1" y="506.4" width="0.7" height="0.7"/><rect x="448.2" y="517.7" width="0.7" height="0.7"/><rect x="466.4" y="551.7" width="0.7" height="0.7"/><rect x="441.6" y="509.0" width="0.7" height="0.7"/><rect x="442.2" y="506.5" width="0.7" height="0.7"/><rect x="441.7" y="507.7" width="0.7" height="0.7"/><rect x="451.4" y="530.8" width="0.7" height="0.7"/><rect x="450.6" y="528.6" width="0.7" height="0.7"/><rect x="444.6" y="511.8" width="0.7" height="0.7"/><rect x="458.5" y="526.2" width="0.7" height="0.7"/><rect x="456.0" y="522.4" width="0.7" height="0.7"/><rect x="457.9" y="536.7" width="0.7" height="0.7"/><rect x="464.0" y="553.7" width="0.7" height="0.7"/><rect x="471.1" y="553.9" width="0.7" height="0.7"/><rect x="450.0" y="523.7" width="0.7" height="0.7"/><rect x="453.1" y="522.2" width="0.7" height="0.7"/><rect x="451.8" y="521.9" width="0.7" height="0.7"/><rect x="456.9" y="529.0" width="0.7" height="0.7"/><rect x="483.0" y="554.1" width="0.7" height="0.7"/><rect x="461.4" y="523.0" width="0.7" height="0.7"/><rect x="478.2" y="547.9" width="0.7" height="0.7"/><rect x="466.1" y="549.9" width="0.7" height="0.7"/><rect x="451.8" y="526.0" width="0.7" height="0.7"/><rect x="459.2" y="519.8" width="0.7" height="0.7"/><rect x="450.7" y="524.0" width="0.7" height="0.7"/><rect x="454.6" y="530.3" width="0.7" height="0.7"/><rect x="460.3" y="532.3" width="0.7" height="0.7"/><rect x="449.8" y="513.1" width="0.7" height="0.7"/><rect x="464.6" y="547.4" width="0.7" height="0.7"/><rect x="446.7" y="521.4" width="0.7" height="0.7"/><rect x="456.9" y="536.5" width="0.7" height="0.7"/><rect x="462.9" y="534.1" width="0.7" height="0.7"/><rect x="456.6" y="533.8" width="0.7" height="0.7"/><rect x="467.4" y="534.9" width="0.7" height="0.7"/><rect x="447.6" y="512.4" width="0.7" height="0.7"/><rect x="440.7" y="510.0" width="0.7" height="0.7"/><rect x="460.5" y="548.5" width="0.7" height="0.7"/><rect x="479.6" y="554.4" width="0.7" height="0.7"/><rect x="454.5" y="538.5" width="0.7" height="0.7"/><rect x="470.4" y="538.2" width="0.7" height="0.7"/><rect x="454.5" y="519.8" width="0.7" height="0.7"/><rect x="447.4" y="508.8" width="0.7" height="0.7"/><rect x="462.7" y="544.8" width="0.7" height="0.7"/><rect x="461.5" y="548.6" width="0.7" height="0.7"/><rect x="450.9" y="522.7" width="0.7" height="0.7"/><rect x="444.6" y="518.3" width="0.7" height="0.7"/><rect x="445.3" y="519.6" width="0.7" height="0.7"/><rect x="454.6" y="538.1" width="0.7" height="0.7"/><rect x="440.2" y="509.5" width="0.7" height="0.7"/><rect x="442.5" y="512.4" width="0.7" height="0.7"/><rect x="442.7" y="505.1" width="0.7" height="0.7"/><rect x="472.0" y="547.3" width="0.7" height="0.7"/><rect x="448.5" y="522.6" width="0.7" height="0.7"/><rect x="474.4" y="548.4" width="0.7" height="0.7"/><rect x="450.3" y="516.6" width="0.7" height="0.7"/><rect x="460.6" y="530.7" width="0.7" height="0.7"/><rect x="455.5" y="532.2" width="0.7" height="0.7"/><rect x="466.1" y="541.6" width="0.7" height="0.7"/><rect x="453.0" y="530.0" width="0.7" height="0.7"/><rect x="463.1" y="536.3" width="0.7" height="0.7"/><rect x="443.5" y="507.8" width="0.7" height="0.7"/><rect x="449.6" y="506.0" width="0.7" height="0.7"/><rect x="445.7" y="512.1" width="0.7" height="0.7"/><rect x="465.8" y="539.7" width="0.7" height="0.7"/><rect x="445.2" y="515.0" width="0.7" height="0.7"/><rect x="453.6" y="535.2" width="0.7" height="0.7"/><rect x="462.4" y="532.1" width="0.7" height="0.7"/><rect x="458.8" y="541.5" width="0.7" height="0.7"/><rect x="443.2" y="516.0" width="0.7" height="0.7"/><rect x="449.0" y="527.4" width="0.7" height="0.7"/><rect x="443.6" y="514.4" width="0.7" height="0.7"/><rect x="452.2" y="531.3" width="0.7" height="0.7"/><rect x="446.6" y="518.5" width="0.7" height="0.7"/><rect x="445.6" y="504.9" width="0.7" height="0.7"/><rect x="446.3" y="520.2" width="0.7" height="0.7"/><rect x="456.2" y="541.4" width="0.7" height="0.7"/><rect x="476.1" y="550.2" width="0.7" height="0.7"/><rect x="444.7" y="504.4" width="0.7" height="0.7"/><rect x="469.0" y="544.2" width="0.7" height="0.7"/><rect x="441.1" y="509.9" width="0.7" height="0.7"/><rect x="449.6" y="512.0" width="0.7" height="0.7"/><rect x="458.2" y="538.3" width="0.7" height="0.7"/><rect x="462.9" y="546.9" width="0.7" height="0.7"/><rect x="469.1" y="548.8" width="0.7" height="0.7"/><rect x="456.4" y="534.6" width="0.7" height="0.7"/><rect x="446.7" y="503.9" width="0.7" height="0.7"/><rect x="447.3" y="521.1" width="0.7" height="0.7"/><rect x="463.5" y="529.7" width="0.7" height="0.7"/><rect x="470.0" y="553.9" width="0.7" height="0.7"/><rect x="443.5" y="508.3" width="0.7" height="0.7"/><rect x="446.4" y="522.5" width="0.7" height="0.7"/><rect x="444.2" y="513.3" width="0.7" height="0.7"/><rect x="457.7" y="527.7" width="0.7" height="0.7"/><rect x="459.5" y="529.7" width="0.7" height="0.7"/><rect x="441.5" y="511.5" width="0.7" height="0.7"/><rect x="456.1" y="541.6" width="0.7" height="0.7"/><rect x="464.3" y="554.1" width="0.7" height="0.7"/><rect x="442.0" y="508.7" width="0.7" height="0.7"/><rect x="459.2" y="526.2" width="0.7" height="0.7"/><rect x="453.3" y="535.7" width="0.7" height="0.7"/><rect x="467.0" y="550.2" width="0.7" height="0.7"/><rect x="457.8" y="543.1" width="0.7" height="0.7"/><rect x="442.5" y="505.4" width="0.7" height="0.7"/><rect x="464.9" y="544.4" width="0.7" height="0.7"/><rect x="455.2" y="536.6" width="0.7" height="0.7"/><rect x="448.4" y="511.3" width="0.7" height="0.7"/><rect x="440.2" y="506.8" width="0.7" height="0.7"/><rect x="459.5" y="540.6" width="0.7" height="0.7"/><rect x="459.8" y="534.4" width="0.7" height="0.7"/><rect x="466.2" y="552.8" width="0.7" height="0.7"/><rect x="473.0" y="554.7" width="0.7" height="0.7"/><rect x="455.5" y="537.3" width="0.7" height="0.7"/><rect x="468.1" y="543.5" width="0.7" height="0.7"/><rect x="467.4" y="544.4" width="0.7" height="0.7"/><rect x="442.2" y="514.0" width="0.7" height="0.7"/><rect x="455.4" y="538.0" width="0.7" height="0.7"/><rect x="443.2" y="507.0" width="0.7" height="0.7"/><rect x="463.0" y="540.8" width="0.7" height="0.7"/><rect x="446.7" y="511.6" width="0.7" height="0.7"/><rect x="462.7" y="550.4" width="0.7" height="0.7"/><rect x="449.7" y="511.3" width="0.7" height="0.7"/><rect x="444.7" y="517.9" width="0.7" height="0.7"/><rect x="462.9" y="555.0" width="0.7" height="0.7"/><rect x="446.9" y="512.7" width="0.7" height="0.7"/><rect x="451.2" y="516.0" width="0.7" height="0.7"/><rect x="455.1" y="533.9" width="0.7" height="0.7"/><rect x="440.6" y="506.1" width="0.7" height="0.7"/><rect x="466.5" y="540.7" width="0.7" height="0.7"/><rect x="445.7" y="509.0" width="0.7" height="0.7"/><rect x="447.3" y="521.2" width="0.7" height="0.7"/><rect x="461.0" y="550.3" width="0.7" height="0.7"/><rect x="479.1" y="547.3" width="0.7" height="0.7"/><rect x="463.1" y="547.8" width="0.7" height="0.7"/><rect x="451.7" y="519.2" width="0.7" height="0.7"/><rect x="443.9" y="503.9" width="0.7" height="0.7"/><rect x="440.8" y="507.4" width="0.7" height="0.7"/><rect x="461.3" y="551.5" width="0.7" height="0.7"/><rect x="447.2" y="523.6" width="0.7" height="0.7"/><rect x="469.6" y="550.2" width="0.7" height="0.7"/><rect x="464.8" y="537.8" width="0.7" height="0.7"/><rect x="454.3" y="521.8" width="0.7" height="0.7"/><rect x="477.2" y="547.2" width="0.7" height="0.7"/><rect x="451.6" y="532.5" width="0.7" height="0.7"/><rect x="464.0" y="522.2" width="0.7" height="0.7"/><rect x="452.6" y="532.4" width="0.7" height="0.7"/><rect x="459.5" y="531.1" width="0.7" height="0.7"/><rect x="449.3" y="517.9" width="0.7" height="0.7"/><rect x="491.2" y="552.7" width="0.7" height="0.7"/><rect x="464.5" y="533.8" width="0.7" height="0.7"/><rect x="468.1" y="552.0" width="0.7" height="0.7"/><rect x="439.4" y="505.3" width="0.7" height="0.7"/><rect x="458.5" y="534.2" width="0.7" height="0.7"/><rect x="448.8" y="522.2" width="0.7" height="0.7"/><rect x="449.5" y="518.0" width="0.7" height="0.7"/><rect x="455.2" y="531.1" width="0.7" height="0.7"/><rect x="452.6" y="526.6" width="0.7" height="0.7"/><rect x="464.7" y="543.4" width="0.7" height="0.7"/><rect x="466.7" y="543.4" width="0.7" height="0.7"/><rect x="443.3" y="515.9" width="0.7" height="0.7"/><rect x="470.1" y="539.8" width="0.7" height="0.7"/><rect x="476.2" y="545.9" width="0.7" height="0.7"/><rect x="472.2" y="554.7" width="0.7" height="0.7"/><rect x="468.5" y="555.4" width="0.7" height="0.7"/><rect x="469.4" y="539.0" width="0.7" height="0.7"/><rect x="459.3" y="535.0" width="0.7" height="0.7"/><rect x="470.7" y="548.8" width="0.7" height="0.7"/><rect x="458.9" y="535.1" width="0.7" height="0.7"/><rect x="459.0" y="536.0" width="0.7" height="0.7"/><rect x="460.4" y="539.1" width="0.7" height="0.7"/><rect x="478.5" y="553.2" width="0.7" height="0.7"/><rect x="464.0" y="540.0" width="0.7" height="0.7"/><rect x="456.3" y="526.8" width="0.7" height="0.7"/><rect x="442.7" y="512.2" width="0.7" height="0.7"/><rect x="449.5" y="513.8" width="0.7" height="0.7"/><rect x="462.0" y="552.8" width="0.7" height="0.7"/><rect x="454.7" y="536.9" width="0.7" height="0.7"/><rect x="442.8" y="504.8" width="0.7" height="0.7"/><rect x="451.8" y="520.9" width="0.7" height="0.7"/><rect x="450.5" y="519.6" width="0.7" height="0.7"/><rect x="454.3" y="535.8" width="0.7" height="0.7"/><rect x="444.3" y="515.5" width="0.7" height="0.7"/><rect x="475.6" y="552.9" width="0.7" height="0.7"/><rect x="454.6" y="532.1" width="0.7" height="0.7"/><rect x="455.3" y="527.9" width="0.7" height="0.7"/><rect x="469.6" y="536.9" width="0.7" height="0.7"/><rect x="462.0" y="545.2" width="0.7" height="0.7"/><rect x="439.9" y="504.1" width="0.7" height="0.7"/><rect x="456.5" y="531.8" width="0.7" height="0.7"/><rect x="451.2" y="528.0" width="0.7" height="0.7"/><rect x="448.5" y="523.2" width="0.7" height="0.7"/><rect x="471.2" y="552.1" width="0.7" height="0.7"/><rect x="466.6" y="533.2" width="0.7" height="0.7"/><rect x="479.6" y="537.4" width="0.7" height="0.7"/><rect x="468.3" y="553.8" width="0.7" height="0.7"/><rect x="466.6" y="535.7" width="0.7" height="0.7"/><rect x="472.3" y="556.4" width="0.7" height="0.7"/><rect x="456.5" y="538.1" width="0.7" height="0.7"/><rect x="449.3" y="508.4" width="0.7" height="0.7"/><rect x="446.2" y="511.2" width="0.7" height="0.7"/><rect x="450.8" y="525.1" width="0.7" height="0.7"/><rect x="471.9" y="548.7" width="0.7" height="0.7"/><rect x="446.8" y="520.5" width="0.7" height="0.7"/><rect x="443.8" y="516.1" width="0.7" height="0.7"/><rect x="456.8" y="525.7" width="0.7" height="0.7"/><rect x="475.7" y="550.4" width="0.7" height="0.7"/><rect x="451.3" y="530.4" width="0.7" height="0.7"/><rect x="476.8" y="548.3" width="0.7" height="0.7"/><rect x="464.2" y="545.4" width="0.7" height="0.7"/><rect x="455.4" y="524.3" width="0.7" height="0.7"/><rect x="460.1" y="533.7" width="0.7" height="0.7"/><rect x="471.2" y="550.0" width="0.7" height="0.7"/><rect x="445.2" y="519.5" width="0.7" height="0.7"/><rect x="441.4" y="508.2" width="0.7" height="0.7"/><rect x="443.3" y="513.5" width="0.7" height="0.7"/><rect x="453.9" y="524.1" width="0.7" height="0.7"/><rect x="479.4" y="551.4" width="0.7" height="0.7"/><rect x="447.0" y="516.2" width="0.7" height="0.7"/><rect x="451.2" y="519.4" width="0.7" height="0.7"/><rect x="453.7" y="533.7" width="0.7" height="0.7"/><rect x="442.0" y="512.1" width="0.7" height="0.7"/><rect x="453.8" y="518.4" width="0.7" height="0.7"/><rect x="440.3" y="505.1" width="0.7" height="0.7"/><rect x="459.1" y="541.4" width="0.7" height="0.7"/><rect x="480.8" y="546.5" width="0.7" height="0.7"/><rect x="479.2" y="554.4" width="0.7" height="0.7"/><rect x="445.9" y="516.2" width="0.7" height="0.7"/><rect x="452.9" y="532.3" width="0.7" height="0.7"/><rect x="471.6" y="540.5" width="0.7" height="0.7"/><rect x="460.4" y="523.4" width="0.7" height="0.7"/><rect x="458.0" y="525.9" width="0.7" height="0.7"/><rect x="447.3" y="513.3" width="0.7" height="0.7"/><rect x="447.7" y="524.4" width="0.7" height="0.7"/><rect x="461.7" y="546.7" width="0.7" height="0.7"/><rect x="463.5" y="550.8" width="0.7" height="0.7"/><rect x="454.5" y="532.7" width="0.7" height="0.7"/><rect x="443.9" y="511.6" width="0.7" height="0.7"/><rect x="440.4" y="506.2" width="0.7" height="0.7"/><rect x="449.9" y="527.4" width="0.7" height="0.7"/><rect x="451.9" y="512.9" width="0.7" height="0.7"/><rect x="443.7" y="509.8" width="0.7" height="0.7"/><rect x="456.9" y="532.1" width="0.7" height="0.7"/><rect x="479.0" y="554.4" width="0.7" height="0.7"/><rect x="446.3" y="510.4" width="0.7" height="0.7"/><rect x="460.1" y="529.0" width="0.7" height="0.7"/><rect x="463.7" y="537.5" width="0.7" height="0.7"/><rect x="443.6" y="508.2" width="0.7" height="0.7"/><rect x="454.5" y="538.7" width="0.7" height="0.7"/><rect x="443.5" y="508.8" width="0.7" height="0.7"/><rect x="463.3" y="545.3" width="0.7" height="0.7"/><rect x="462.0" y="543.5" width="0.7" height="0.7"/><rect x="456.0" y="534.0" width="0.7" height="0.7"/><rect x="448.7" y="527.0" width="0.7" height="0.7"/><rect x="440.7" y="506.4" width="0.7" height="0.7"/><rect x="441.2" y="508.2" width="0.7" height="0.7"/><rect x="480.6" y="546.0" width="0.7" height="0.7"/><rect x="460.9" y="539.0" width="0.7" height="0.7"/><rect x="451.4" y="528.8" width="0.7" height="0.7"/><rect x="455.7" y="524.8" width="0.7" height="0.7"/><rect x="462.3" y="524.8" width="0.7" height="0.7"/><rect x="445.9" y="518.1" width="0.7" height="0.7"/><rect x="485.5" y="554.8" width="0.7" height="0.7"/><rect x="468.1" y="555.3" width="0.7" height="0.7"/><rect x="462.1" y="528.5" width="0.7" height="0.7"/><rect x="461.5" y="540.2" width="0.7" height="0.7"/><rect x="461.0" y="515.9" width="0.7" height="0.7"/><rect x="461.3" y="544.0" width="0.7" height="0.7"/><rect x="459.5" y="523.0" width="0.7" height="0.7"/><rect x="464.3" y="529.3" width="0.7" height="0.7"/><rect x="453.9" y="534.1" width="0.7" height="0.7"/><rect x="443.3" y="511.0" width="0.7" height="0.7"/><rect x="455.4" y="528.6" width="0.7" height="0.7"/><rect x="445.7" y="519.6" width="0.7" height="0.7"/><rect x="467.6" y="543.4" width="0.7" height="0.7"/><rect x="455.9" y="528.4" width="0.7" height="0.7"/><rect x="465.0" y="553.1" width="0.7" height="0.7"/><rect x="458.1" y="543.7" width="0.7" height="0.7"/><rect x="459.9" y="543.8" width="0.7" height="0.7"/><rect x="451.0" y="526.4" width="0.7" height="0.7"/><rect x="443.9" y="507.8" width="0.7" height="0.7"/><rect x="452.0" y="532.4" width="0.7" height="0.7"/><rect x="457.9" y="536.0" width="0.7" height="0.7"/><rect x="445.8" y="517.8" width="0.7" height="0.7"/><rect x="447.4" y="524.1" width="0.7" height="0.7"/><rect x="445.7" y="516.6" width="0.7" height="0.7"/><rect x="464.9" y="545.0" width="0.7" height="0.7"/><rect x="464.7" y="530.7" width="0.7" height="0.7"/><rect x="448.6" y="516.1" width="0.7" height="0.7"/><rect x="467.4" y="550.8" width="0.7" height="0.7"/><rect x="475.4" y="552.2" width="0.7" height="0.7"/><rect x="446.2" y="511.9" width="0.7" height="0.7"/><rect x="456.3" y="531.6" width="0.7" height="0.7"/><rect x="463.7" y="555.7" width="0.7" height="0.7"/><rect x="464.6" y="544.6" width="0.7" height="0.7"/><rect x="459.2" y="545.5" width="0.7" height="0.7"/><rect x="452.2" y="529.8" width="0.7" height="0.7"/><rect x="458.0" y="533.2" width="0.7" height="0.7"/><rect x="458.9" y="532.3" width="0.7" height="0.7"/><rect x="464.1" y="544.8" width="0.7" height="0.7"/><rect x="442.4" y="504.4" width="0.7" height="0.7"/><rect x="465.5" y="540.9" width="0.7" height="0.7"/><rect x="454.7" y="532.1" width="0.7" height="0.7"/><rect x="467.1" y="544.8" width="0.7" height="0.7"/><rect x="449.3" y="511.0" width="0.7" height="0.7"/><rect x="460.0" y="546.9" width="0.7" height="0.7"/><rect x="453.1" y="532.6" width="0.7" height="0.7"/><rect x="460.8" y="547.0" width="0.7" height="0.7"/><rect x="467.1" y="553.3" width="0.7" height="0.7"/><rect x="447.7" y="515.2" width="0.7" height="0.7"/><rect x="462.2" y="553.4" width="0.7" height="0.7"/><rect x="456.5" y="532.9" width="0.7" height="0.7"/><rect x="455.7" y="535.8" width="0.7" height="0.7"/><rect x="444.2" y="509.1" width="0.7" height="0.7"/><rect x="471.3" y="553.4" width="0.7" height="0.7"/><rect x="447.3" y="522.8" width="0.7" height="0.7"/><rect x="445.5" y="509.3" width="0.7" height="0.7"/><rect x="464.5" y="543.0" width="0.7" height="0.7"/><rect x="465.8" y="549.1" width="0.7" height="0.7"/><rect x="447.0" y="515.7" width="0.7" height="0.7"/><rect x="441.6" y="508.3" width="0.7" height="0.7"/><rect x="446.3" y="509.4" width="0.7" height="0.7"/><rect x="457.5" y="541.6" width="0.7" height="0.7"/><rect x="454.8" y="536.7" width="0.7" height="0.7"/><rect x="458.0" y="544.7" width="0.7" height="0.7"/><rect x="452.0" y="523.4" width="0.7" height="0.7"/><rect x="440.2" y="508.0" width="0.7" height="0.7"/><rect x="473.2" y="550.8" width="0.7" height="0.7"/><rect x="453.4" y="521.5" width="0.7" height="0.7"/><rect x="473.1" y="541.3" width="0.7" height="0.7"/><rect x="448.8" y="514.9" width="0.7" height="0.7"/><rect x="445.7" y="504.3" width="0.7" height="0.7"/><rect x="452.9" y="529.6" width="0.7" height="0.7"/><rect x="455.3" y="533.2" width="0.7" height="0.7"/><rect x="447.0" y="520.1" width="0.7" height="0.7"/><rect x="471.2" y="540.6" width="0.7" height="0.7"/><rect x="477.9" y="550.4" width="0.7" height="0.7"/><rect x="449.8" y="528.5" width="0.7" height="0.7"/><rect x="457.9" y="530.1" width="0.7" height="0.7"/><rect x="466.4" y="551.1" width="0.7" height="0.7"/><rect x="474.4" y="545.4" width="0.7" height="0.7"/><rect x="450.3" y="519.9" width="0.7" height="0.7"/><rect x="461.6" y="532.0" width="0.7" height="0.7"/><rect x="439.0" y="507.0" width="0.7" height="0.7"/><rect x="453.8" y="531.2" width="0.7" height="0.7"/><rect x="464.2" y="545.2" width="0.7" height="0.7"/><rect x="455.0" y="530.7" width="0.7" height="0.7"/><rect x="442.2" y="512.2" width="0.7" height="0.7"/><rect x="460.8" y="522.3" width="0.7" height="0.7"/><rect x="457.7" y="540.0" width="0.7" height="0.7"/><rect x="442.1" y="512.1" width="0.7" height="0.7"/><rect x="447.2" y="505.2" width="0.7" height="0.7"/><rect x="468.2" y="552.8" width="0.7" height="0.7"/><rect x="451.7" y="513.4" width="0.7" height="0.7"/><rect x="469.4" y="548.2" width="0.7" height="0.7"/><rect x="444.5" y="517.7" width="0.7" height="0.7"/><rect x="447.8" y="521.5" width="0.7" height="0.7"/><rect x="470.1" y="554.7" width="0.7" height="0.7"/><rect x="467.7" y="544.8" width="0.7" height="0.7"/><rect x="464.9" y="542.2" width="0.7" height="0.7"/><rect x="445.2" y="516.8" width="0.7" height="0.7"/><rect x="456.3" y="536.9" width="0.7" height="0.7"/><rect x="468.9" y="551.4" width="0.7" height="0.7"/><rect x="449.3" y="517.5" width="0.7" height="0.7"/><rect x="464.7" y="538.1" width="0.7" height="0.7"/><rect x="456.3" y="529.0" width="0.7" height="0.7"/><rect x="483.5" y="551.6" width="0.7" height="0.7"/><rect x="466.4" y="546.7" width="0.7" height="0.7"/><rect x="460.3" y="541.8" width="0.7" height="0.7"/><rect x="452.8" y="523.9" width="0.7" height="0.7"/><rect x="451.2" y="521.4" width="0.7" height="0.7"/><rect x="452.4" y="514.7" width="0.7" height="0.7"/><rect x="451.4" y="529.4" width="0.7" height="0.7"/><rect x="446.6" y="514.3" width="0.7" height="0.7"/><rect x="476.1" y="549.2" width="0.7" height="0.7"/><rect x="444.0" y="512.5" width="0.7" height="0.7"/><rect x="475.9" y="543.1" width="0.7" height="0.7"/><rect x="454.4" y="525.7" width="0.7" height="0.7"/><rect x="454.7" y="519.7" width="0.7" height="0.7"/><rect x="464.1" y="544.4" width="0.7" height="0.7"/><rect x="443.7" y="504.4" width="0.7" height="0.7"/><rect x="447.0" y="522.2" width="0.7" height="0.7"/><rect x="444.3" y="509.6" width="0.7" height="0.7"/><rect x="456.5" y="529.0" width="0.7" height="0.7"/><rect x="462.6" y="536.7" width="0.7" height="0.7"/><rect x="447.4" y="524.4" width="0.7" height="0.7"/><rect x="468.8" y="551.2" width="0.7" height="0.7"/><rect x="462.4" y="527.6" width="0.7" height="0.7"/><rect x="465.7" y="542.2" width="0.7" height="0.7"/><rect x="458.6" y="523.7" width="0.7" height="0.7"/><rect x="464.2" y="540.5" width="0.7" height="0.7"/><rect x="444.5" y="517.8" width="0.7" height="0.7"/><rect x="441.5" y="507.8" width="0.7" height="0.7"/><rect x="473.8" y="553.7" width="0.7" height="0.7"/><rect x="448.4" y="512.8" width="0.7" height="0.7"/><rect x="466.7" y="542.8" width="0.7" height="0.7"/><rect x="458.9" y="528.7" width="0.7" height="0.7"/><rect x="458.6" y="544.1" width="0.7" height="0.7"/><rect x="480.8" y="550.5" width="0.7" height="0.7"/><rect x="459.4" y="546.1" width="0.7" height="0.7"/><rect x="463.1" y="549.9" width="0.7" height="0.7"/><rect x="466.9" y="548.4" width="0.7" height="0.7"/><rect x="468.1" y="548.9" width="0.7" height="0.7"/><rect x="447.3" y="518.0" width="0.7" height="0.7"/><rect x="443.2" y="511.8" width="0.7" height="0.7"/><rect x="445.8" y="513.5" width="0.7" height="0.7"/><rect x="453.4" y="535.2" width="0.7" height="0.7"/><rect x="451.7" y="518.7" width="0.7" height="0.7"/><rect x="446.2" y="515.6" width="0.7" height="0.7"/><rect x="448.9" y="525.4" width="0.7" height="0.7"/><rect x="443.2" y="511.9" width="0.7" height="0.7"/><rect x="447.0" y="508.6" width="0.7" height="0.7"/><rect x="442.7" y="511.9" width="0.7" height="0.7"/><rect x="466.8" y="551.4" width="0.7" height="0.7"/><rect x="455.8" y="528.3" width="0.7" height="0.7"/><rect x="455.3" y="538.2" width="0.7" height="0.7"/><rect x="473.2" y="551.7" width="0.7" height="0.7"/><rect x="451.2" y="512.9" width="0.7" height="0.7"/><rect x="445.2" y="516.5" width="0.7" height="0.7"/><rect x="455.8" y="524.1" width="0.7" height="0.7"/><rect x="443.9" y="510.5" width="0.7" height="0.7"/><rect x="461.7" y="550.7" width="0.7" height="0.7"/><rect x="470.2" y="554.8" width="0.7" height="0.7"/><rect x="445.2" y="509.1" width="0.7" height="0.7"/><rect x="443.3" y="508.3" width="0.7" height="0.7"/><rect x="459.3" y="540.3" width="0.7" height="0.7"/><rect x="477.0" y="553.0" width="0.7" height="0.7"/><rect x="466.4" y="555.2" width="0.7" height="0.7"/><rect x="445.4" y="515.1" width="0.7" height="0.7"/><rect x="458.5" y="544.3" width="0.7" height="0.7"/><rect x="456.9" y="533.1" width="0.7" height="0.7"/><rect x="452.9" y="510.2" width="0.7" height="0.7"/><rect x="461.4" y="535.0" width="0.7" height="0.7"/><rect x="450.2" y="529.9" width="0.7" height="0.7"/><rect x="453.0" y="532.5" width="0.7" height="0.7"/><rect x="469.6" y="546.9" width="0.7" height="0.7"/><rect x="453.1" y="522.1" width="0.7" height="0.7"/><rect x="461.4" y="540.1" width="0.7" height="0.7"/><rect x="452.9" y="530.2" width="0.7" height="0.7"/><rect x="464.2" y="540.5" width="0.7" height="0.7"/><rect x="469.0" y="547.0" width="0.7" height="0.7"/><rect x="445.9" y="520.6" width="0.7" height="0.7"/><rect x="445.9" y="507.5" width="0.7" height="0.7"/><rect x="440.3" y="505.4" width="0.7" height="0.7"/><rect x="459.0" y="538.4" width="0.7" height="0.7"/><rect x="450.2" y="527.1" width="0.7" height="0.7"/><rect x="458.5" y="541.7" width="0.7" height="0.7"/><rect x="457.7" y="530.4" width="0.7" height="0.7"/><rect x="461.6" y="536.9" width="0.7" height="0.7"/><rect x="451.9" y="529.1" width="0.7" height="0.7"/><rect x="442.1" y="504.1" width="0.7" height="0.7"/><rect x="456.6" y="540.8" width="0.7" height="0.7"/><rect x="443.1" y="510.2" width="0.7" height="0.7"/><rect x="454.1" y="521.6" width="0.7" height="0.7"/><rect x="440.7" y="505.1" width="0.7" height="0.7"/><rect x="476.2" y="556.1" width="0.7" height="0.7"/><rect x="463.0" y="555.1" width="0.7" height="0.7"/><rect x="459.9" y="529.4" width="0.7" height="0.7"/><rect x="467.8" y="544.9" width="0.7" height="0.7"/><rect x="441.0" y="506.3" width="0.7" height="0.7"/><rect x="472.0" y="552.4" width="0.7" height="0.7"/><rect x="461.8" y="546.5" width="0.7" height="0.7"/><rect x="444.3" y="515.0" width="0.7" height="0.7"/><rect x="445.8" y="508.1" width="0.7" height="0.7"/><rect x="455.9" y="530.0" width="0.7" height="0.7"/><rect x="456.7" y="542.0" width="0.7" height="0.7"/><rect x="457.8" y="530.5" width="0.7" height="0.7"/><rect x="468.8" y="555.5" width="0.7" height="0.7"/><rect x="444.4" y="510.5" width="0.7" height="0.7"/><rect x="442.6" y="510.7" width="0.7" height="0.7"/><rect x="450.5" y="520.3" width="0.7" height="0.7"/><rect x="453.7" y="527.2" width="0.7" height="0.7"/><rect x="475.2" y="554.1" width="0.7" height="0.7"/><rect x="464.0" y="551.8" width="0.7" height="0.7"/><rect x="466.7" y="556.2" width="0.7" height="0.7"/><rect x="463.1" y="542.2" width="0.7" height="0.7"/><rect x="452.8" y="528.0" width="0.7" height="0.7"/><rect x="461.7" y="549.5" width="0.7" height="0.7"/><rect x="461.2" y="533.1" width="0.7" height="0.7"/><rect x="452.7" y="519.6" width="0.7" height="0.7"/><rect x="454.0" y="525.2" width="0.7" height="0.7"/><rect x="447.4" y="517.1" width="0.7" height="0.7"/><rect x="446.7" y="523.0" width="0.7" height="0.7"/><rect x="462.1" y="538.4" width="0.7" height="0.7"/><rect x="458.0" y="527.9" width="0.7" height="0.7"/><rect x="466.1" y="552.5" width="0.7" height="0.7"/><rect x="468.6" y="553.5" width="0.7" height="0.7"/><rect x="451.6" y="513.1" width="0.7" height="0.7"/><rect x="463.2" y="546.3" width="0.7" height="0.7"/><rect x="451.9" y="524.7" width="0.7" height="0.7"/><rect x="465.3" y="552.7" width="0.7" height="0.7"/><rect x="454.3" y="520.3" width="0.7" height="0.7"/><rect x="458.0" y="541.2" width="0.7" height="0.7"/><rect x="468.0" y="546.3" width="0.7" height="0.7"/><rect x="474.3" y="555.7" width="0.7" height="0.7"/><rect x="452.5" y="526.1" width="0.7" height="0.7"/><rect x="444.6" y="509.8" width="0.7" height="0.7"/><rect x="442.7" y="506.3" width="0.7" height="0.7"/><rect x="451.0" y="521.7" width="0.7" height="0.7"/><rect x="476.0" y="545.6" width="0.7" height="0.7"/><rect x="446.4" y="518.8" width="0.7" height="0.7"/><rect x="444.3" y="509.8" width="0.7" height="0.7"/><rect x="443.8" y="516.5" width="0.7" height="0.7"/><rect x="459.7" y="538.6" width="0.7" height="0.7"/><rect x="440.3" y="506.6" width="0.7" height="0.7"/><rect x="452.4" y="516.5" width="0.7" height="0.7"/><rect x="458.0" y="522.3" width="0.7" height="0.7"/><rect x="448.3" y="509.9" width="0.7" height="0.7"/><rect x="460.6" y="544.1" width="0.7" height="0.7"/><rect x="470.7" y="542.0" width="0.7" height="0.7"/><rect x="449.2" y="522.8" width="0.7" height="0.7"/><rect x="461.7" y="539.3" width="0.7" height="0.7"/><rect x="455.2" y="536.8" width="0.7" height="0.7"/><rect x="451.8" y="523.8" width="0.7" height="0.7"/><rect x="444.8" y="504.2" width="0.7" height="0.7"/><rect x="443.2" y="508.1" width="0.7" height="0.7"/><rect x="439.3" y="507.0" width="0.7" height="0.7"/><rect x="474.6" y="549.1" width="0.7" height="0.7"/><rect x="463.1" y="528.9" width="0.7" height="0.7"/><rect x="447.4" y="519.3" width="0.7" height="0.7"/><rect x="453.8" y="522.5" width="0.7" height="0.7"/><rect x="456.6" y="537.0" width="0.7" height="0.7"/><rect x="467.6" y="533.1" width="0.7" height="0.7"/><rect x="468.3" y="550.8" width="0.7" height="0.7"/><rect x="447.5" y="519.0" width="0.7" height="0.7"/><rect x="463.2" y="554.0" width="0.7" height="0.7"/><rect x="451.3" y="516.7" width="0.7" height="0.7"/><rect x="451.7" y="529.1" width="0.7" height="0.7"/><rect x="451.6" y="522.2" width="0.7" height="0.7"/><rect x="443.8" y="513.9" width="0.7" height="0.7"/><rect x="462.4" y="554.0" width="0.7" height="0.7"/><rect x="450.5" y="524.6" width="0.7" height="0.7"/><rect x="450.0" y="529.0" width="0.7" height="0.7"/><rect x="462.9" y="544.6" width="0.7" height="0.7"/><rect x="467.4" y="555.2" width="0.7" height="0.7"/><rect x="457.9" y="542.6" width="0.7" height="0.7"/><rect x="446.1" y="516.5" width="0.7" height="0.7"/><rect x="447.6" y="514.9" width="0.7" height="0.7"/><rect x="469.9" y="549.9" width="0.7" height="0.7"/><rect x="451.8" y="529.4" width="0.7" height="0.7"/><rect x="483.9" y="555.7" width="0.7" height="0.7"/><rect x="458.3" y="531.1" width="0.7" height="0.7"/><rect x="471.9" y="551.8" width="0.7" height="0.7"/><rect x="454.3" y="537.9" width="0.7" height="0.7"/><rect x="469.9" y="545.8" width="0.7" height="0.7"/><rect x="474.7" y="547.3" width="0.7" height="0.7"/><rect x="457.5" y="524.5" width="0.7" height="0.7"/><rect x="455.0" y="537.6" width="0.7" height="0.7"/><rect x="456.2" y="536.6" width="0.7" height="0.7"/><rect x="463.7" y="538.7" width="0.7" height="0.7"/><rect x="459.0" y="539.5" width="0.7" height="0.7"/><rect x="461.4" y="526.5" width="0.7" height="0.7"/><rect x="460.2" y="544.5" width="0.7" height="0.7"/><rect x="465.2" y="537.1" width="0.7" height="0.7"/><rect x="459.9" y="542.7" width="0.7" height="0.7"/><rect x="464.3" y="535.1" width="0.7" height="0.7"/><rect x="467.3" y="548.9" width="0.7" height="0.7"/><rect x="457.4" y="530.4" width="0.7" height="0.7"/><rect x="447.1" y="520.5" width="0.7" height="0.7"/><rect x="459.7" y="547.9" width="0.7" height="0.7"/><rect x="472.4" y="546.5" width="0.7" height="0.7"/><rect x="452.9" y="531.6" width="0.7" height="0.7"/><rect x="448.0" y="525.2" width="0.7" height="0.7"/><rect x="462.4" y="544.5" width="0.7" height="0.7"/><rect x="450.7" y="518.6" width="0.7" height="0.7"/><rect x="443.1" y="515.8" width="0.7" height="0.7"/><rect x="462.6" y="541.8" width="0.7" height="0.7"/><rect x="445.0" y="516.7" width="0.7" height="0.7"/><rect x="464.4" y="555.3" width="0.7" height="0.7"/><rect x="464.7" y="547.2" width="0.7" height="0.7"/><rect x="462.6" y="544.3" width="0.7" height="0.7"/><rect x="461.6" y="550.5" width="0.7" height="0.7"/><rect x="450.4" y="519.6" width="0.7" height="0.7"/><rect x="469.0" y="541.7" width="0.7" height="0.7"/><rect x="443.1" y="512.1" width="0.7" height="0.7"/><rect x="464.6" y="537.8" width="0.7" height="0.7"/><rect x="468.5" y="547.8" width="0.7" height="0.7"/><rect x="458.1" y="519.9" width="0.7" height="0.7"/><rect x="443.2" y="512.1" width="0.7" height="0.7"/><rect x="460.4" y="531.7" width="0.7" height="0.7"/><rect x="455.1" y="532.6" width="0.7" height="0.7"/><rect x="455.4" y="524.3" width="0.7" height="0.7"/><rect x="447.8" y="521.9" width="0.7" height="0.7"/><rect x="448.0" y="521.1" width="0.7" height="0.7"/><rect x="439.9" y="508.3" width="0.7" height="0.7"/><rect x="455.5" y="536.0" width="0.7" height="0.7"/><rect x="456.8" y="530.5" width="0.7" height="0.7"/><rect x="456.5" y="526.3" width="0.7" height="0.7"/><rect x="444.5" y="514.8" width="0.7" height="0.7"/><rect x="445.0" y="515.8" width="0.7" height="0.7"/><rect x="473.8" y="550.0" width="0.7" height="0.7"/><rect x="480.5" y="552.5" width="0.7" height="0.7"/><rect x="461.6" y="532.8" width="0.7" height="0.7"/><rect x="468.3" y="549.5" width="0.7" height="0.7"/><rect x="446.9" y="507.9" width="0.7" height="0.7"/><rect x="447.6" y="515.6" width="0.7" height="0.7"/><rect x="446.7" y="518.8" width="0.7" height="0.7"/><rect x="446.5" y="505.4" width="0.7" height="0.7"/><rect x="442.8" y="511.4" width="0.7" height="0.7"/><rect x="457.9" y="530.3" width="0.7" height="0.7"/><rect x="470.2" y="553.6" width="0.7" height="0.7"/><rect x="452.2" y="531.0" width="0.7" height="0.7"/><rect x="440.8" y="507.1" width="0.7" height="0.7"/><rect x="490.0" y="555.3" width="0.7" height="0.7"/><rect x="457.7" y="533.5" width="0.7" height="0.7"/><rect x="459.9" y="546.2" width="0.7" height="0.7"/><rect x="462.5" y="543.4" width="0.7" height="0.7"/><rect x="453.7" y="533.7" width="0.7" height="0.7"/><rect x="463.3" y="553.8" width="0.7" height="0.7"/><rect x="457.8" y="526.9" width="0.7" height="0.7"/><rect x="464.4" y="550.3" width="0.7" height="0.7"/><rect x="463.0" y="547.6" width="0.7" height="0.7"/><rect x="447.0" y="520.1" width="0.7" height="0.7"/><rect x="458.3" y="535.4" width="0.7" height="0.7"/><rect x="468.2" y="554.5" width="0.7" height="0.7"/><rect x="447.0" y="512.5" width="0.7" height="0.7"/><rect x="443.0" y="508.2" width="0.7" height="0.7"/><rect x="442.1" y="513.6" width="0.7" height="0.7"/><rect x="464.9" y="544.9" width="0.7" height="0.7"/><rect x="440.2" y="504.9" width="0.7" height="0.7"/><rect x="441.7" y="505.8" width="0.7" height="0.7"/><rect x="464.8" y="536.0" width="0.7" height="0.7"/><rect x="460.8" y="534.9" width="0.7" height="0.7"/><rect x="443.1" y="515.8" width="0.7" height="0.7"/><rect x="459.4" y="542.2" width="0.7" height="0.7"/><rect x="453.4" y="524.0" width="0.7" height="0.7"/><rect x="461.8" y="551.9" width="0.7" height="0.7"/><rect x="439.7" y="507.1" width="0.7" height="0.7"/><rect x="462.7" y="534.6" width="0.7" height="0.7"/><rect x="447.8" y="515.2" width="0.7" height="0.7"/><rect x="447.6" y="520.3" width="0.7" height="0.7"/><rect x="456.4" y="540.3" width="0.7" height="0.7"/><rect x="458.1" y="536.9" width="0.7" height="0.7"/><rect x="445.4" y="508.9" width="0.7" height="0.7"/><rect x="441.7" y="508.6" width="0.7" height="0.7"/><rect x="465.6" y="551.4" width="0.7" height="0.7"/><rect x="451.2" y="529.8" width="0.7" height="0.7"/><rect x="461.4" y="547.4" width="0.7" height="0.7"/><rect x="453.4" y="519.8" width="0.7" height="0.7"/><rect x="443.1" y="507.1" width="0.7" height="0.7"/><rect x="449.1" y="525.1" width="0.7" height="0.7"/><rect x="469.8" y="550.0" width="0.7" height="0.7"/><rect x="461.8" y="541.8" width="0.7" height="0.7"/><rect x="469.0" y="547.1" width="0.7" height="0.7"/><rect x="445.0" y="508.1" width="0.7" height="0.7"/><rect x="444.6" y="515.8" width="0.7" height="0.7"/><rect x="444.7" y="507.2" width="0.7" height="0.7"/><rect x="479.4" y="554.5" width="0.7" height="0.7"/><rect x="452.0" y="523.9" width="0.7" height="0.7"/><rect x="468.2" y="550.1" width="0.7" height="0.7"/><rect x="458.0" y="526.2" width="0.7" height="0.7"/><rect x="447.2" y="524.0" width="0.7" height="0.7"/><rect x="447.9" y="518.9" width="0.7" height="0.7"/><rect x="450.2" y="525.1" width="0.7" height="0.7"/><rect x="444.7" y="518.7" width="0.7" height="0.7"/><rect x="448.0" y="517.1" width="0.7" height="0.7"/><rect x="475.0" y="548.5" width="0.7" height="0.7"/><rect x="478.4" y="548.4" width="0.7" height="0.7"/><rect x="455.8" y="528.3" width="0.7" height="0.7"/><rect x="443.3" y="512.0" width="0.7" height="0.7"/><rect x="450.6" y="519.6" width="0.7" height="0.7"/><rect x="449.1" y="504.8" width="0.7" height="0.7"/><rect x="444.8" y="507.3" width="0.7" height="0.7"/><rect x="449.6" y="523.9" width="0.7" height="0.7"/><rect x="465.4" y="546.9" width="0.7" height="0.7"/><rect x="451.9" y="532.6" width="0.7" height="0.7"/><rect x="452.6" y="527.6" width="0.7" height="0.7"/><rect x="454.6" y="531.8" width="0.7" height="0.7"/><rect x="454.5" y="526.9" width="0.7" height="0.7"/><rect x="472.0" y="545.3" width="0.7" height="0.7"/><rect x="464.0" y="553.0" width="0.7" height="0.7"/><rect x="451.4" y="531.2" width="0.7" height="0.7"/><rect x="443.0" y="513.4" width="0.7" height="0.7"/><rect x="464.1" y="548.6" width="0.7" height="0.7"/><rect x="444.3" y="504.8" width="0.7" height="0.7"/><rect x="456.6" y="534.6" width="0.7" height="0.7"/><rect x="455.4" y="534.7" width="0.7" height="0.7"/><rect x="457.1" y="533.6" width="0.7" height="0.7"/><rect x="470.0" y="550.6" width="0.7" height="0.7"/><rect x="460.3" y="549.8" width="0.7" height="0.7"/><rect x="453.8" y="530.3" width="0.7" height="0.7"/><rect x="441.2" y="505.6" width="0.7" height="0.7"/><rect x="456.1" y="522.0" width="0.7" height="0.7"/><rect x="461.6" y="551.3" width="0.7" height="0.7"/><rect x="452.1" y="518.5" width="0.7" height="0.7"/><rect x="452.8" y="521.3" width="0.7" height="0.7"/><rect x="459.1" y="530.1" width="0.7" height="0.7"/><rect x="452.2" y="522.2" width="0.7" height="0.7"/><rect x="460.5" y="523.6" width="0.7" height="0.7"/><rect x="451.8" y="527.2" width="0.7" height="0.7"/><rect x="456.6" y="540.5" width="0.7" height="0.7"/><rect x="466.4" y="551.8" width="0.7" height="0.7"/><rect x="462.6" y="535.1" width="0.7" height="0.7"/><rect x="443.5" y="515.9" width="0.7" height="0.7"/><rect x="460.0" y="537.7" width="0.7" height="0.7"/><rect x="455.6" y="540.9" width="0.7" height="0.7"/><rect x="467.7" y="546.7" width="0.7" height="0.7"/><rect x="463.5" y="546.7" width="0.7" height="0.7"/><rect x="461.1" y="531.8" width="0.7" height="0.7"/><rect x="440.9" y="509.7" width="0.7" height="0.7"/><rect x="467.4" y="548.7" width="0.7" height="0.7"/><rect x="452.8" y="529.5" width="0.7" height="0.7"/><rect x="444.8" y="513.3" width="0.7" height="0.7"/><rect x="441.6" y="512.6" width="0.7" height="0.7"/><rect x="456.2" y="522.9" width="0.7" height="0.7"/><rect x="444.0" y="512.8" width="0.7" height="0.7"/><rect x="455.2" y="532.8" width="0.7" height="0.7"/><rect x="471.1" y="554.8" width="0.7" height="0.7"/><rect x="475.2" y="553.7" width="0.7" height="0.7"/><rect x="469.4" y="554.4" width="0.7" height="0.7"/><rect x="467.4" y="551.7" width="0.7" height="0.7"/><rect x="469.6" y="555.6" width="0.7" height="0.7"/><rect x="457.2" y="540.1" width="0.7" height="0.7"/><rect x="457.5" y="527.4" width="0.7" height="0.7"/><rect x="455.2" y="536.6" width="0.7" height="0.7"/><rect x="459.5" y="542.6" width="0.7" height="0.7"/><rect x="474.5" y="554.0" width="0.7" height="0.7"/><rect x="461.6" y="534.3" width="0.7" height="0.7"/><rect x="465.0" y="536.5" width="0.7" height="0.7"/><rect x="445.9" y="517.9" width="0.7" height="0.7"/><rect x="440.6" y="508.7" width="0.7" height="0.7"/><rect x="445.7" y="509.4" width="0.7" height="0.7"/><rect x="462.2" y="545.5" width="0.7" height="0.7"/><rect x="445.4" y="514.6" width="0.7" height="0.7"/><rect x="444.0" y="507.1" width="0.7" height="0.7"/><rect x="450.2" y="513.6" width="0.7" height="0.7"/><rect x="466.4" y="552.8" width="0.7" height="0.7"/><rect x="445.4" y="506.4" width="0.7" height="0.7"/><rect x="453.2" y="527.8" width="0.7" height="0.7"/><rect x="447.5" y="520.3" width="0.7" height="0.7"/><rect x="459.9" y="538.9" width="0.7" height="0.7"/><rect x="441.3" y="509.3" width="0.7" height="0.7"/><rect x="461.6" y="542.7" width="0.7" height="0.7"/><rect x="443.0" y="507.2" width="0.7" height="0.7"/><rect x="472.6" y="555.1" width="0.7" height="0.7"/><rect x="461.6" y="533.4" width="0.7" height="0.7"/><rect x="459.6" y="547.2" width="0.7" height="0.7"/><rect x="446.1" y="512.7" width="0.7" height="0.7"/><rect x="445.2" y="515.9" width="0.7" height="0.7"/><rect x="475.9" y="555.9" width="0.7" height="0.7"/><rect x="452.9" y="533.7" width="0.7" height="0.7"/><rect x="442.1" y="510.2" width="0.7" height="0.7"/><rect x="452.8" y="525.8" width="0.7" height="0.7"/><rect x="462.0" y="544.2" width="0.7" height="0.7"/><rect x="442.1" y="506.1" width="0.7" height="0.7"/><rect x="470.7" y="544.6" width="0.7" height="0.7"/><rect x="444.9" y="513.2" width="0.7" height="0.7"/><rect x="456.4" y="524.1" width="0.7" height="0.7"/><rect x="440.4" y="507.0" width="0.7" height="0.7"/><rect x="461.6" y="539.1" width="0.7" height="0.7"/><rect x="447.0" y="520.9" width="0.7" height="0.7"/><rect x="476.9" y="554.7" width="0.7" height="0.7"/><rect x="464.7" y="541.6" width="0.7" height="0.7"/><rect x="454.7" y="528.2" width="0.7" height="0.7"/><rect x="466.2" y="554.3" width="0.7" height="0.7"/><rect x="474.1" y="554.9" width="0.7" height="0.7"/><rect x="473.4" y="555.8" width="0.7" height="0.7"/><rect x="446.9" y="510.4" width="0.7" height="0.7"/><rect x="442.2" y="511.3" width="0.7" height="0.7"/><rect x="447.1" y="518.8" width="0.7" height="0.7"/><rect x="445.5" y="517.4" width="0.7" height="0.7"/><rect x="462.6" y="547.5" width="0.7" height="0.7"/><rect x="478.1" y="552.6" width="0.7" height="0.7"/><rect x="468.9" y="552.0" width="0.7" height="0.7"/><rect x="448.5" y="522.4" width="0.7" height="0.7"/><rect x="457.2" y="527.4" width="0.7" height="0.7"/><rect x="441.3" y="510.8" width="0.7" height="0.7"/><rect x="464.7" y="550.0" width="0.7" height="0.7"/><rect x="458.8" y="535.8" width="0.7" height="0.7"/><rect x="446.8" y="513.4" width="0.7" height="0.7"/><rect x="452.9" y="526.5" width="0.7" height="0.7"/><rect x="450.6" y="530.5" width="0.7" height="0.7"/><rect x="469.7" y="553.4" width="0.7" height="0.7"/><rect x="460.6" y="546.6" width="0.7" height="0.7"/><rect x="453.9" y="535.7" width="0.7" height="0.7"/><rect x="468.5" y="549.9" width="0.7" height="0.7"/><rect x="464.2" y="555.0" width="0.7" height="0.7"/><rect x="462.1" y="552.7" width="0.7" height="0.7"/><rect x="445.9" y="519.5" width="0.7" height="0.7"/><rect x="448.9" y="520.6" width="0.7" height="0.7"/><rect x="462.6" y="537.4" width="0.7" height="0.7"/><rect x="458.0" y="544.6" width="0.7" height="0.7"/><rect x="446.5" y="508.8" width="0.7" height="0.7"/><rect x="455.2" y="522.7" width="0.7" height="0.7"/><rect x="439.3" y="503.9" width="0.7" height="0.7"/><rect x="459.7" y="533.7" width="0.7" height="0.7"/><rect x="468.8" y="550.1" width="0.7" height="0.7"/><rect x="476.9" y="544.8" width="0.7" height="0.7"/><rect x="446.7" y="517.6" width="0.7" height="0.7"/><rect x="456.1" y="517.9" width="0.7" height="0.7"/><rect x="448.1" y="519.4" width="0.7" height="0.7"/><rect x="442.8" y="514.9" width="0.7" height="0.7"/><rect x="445.9" y="520.0" width="0.7" height="0.7"/><rect x="452.8" y="521.2" width="0.7" height="0.7"/><rect x="445.5" y="508.0" width="0.7" height="0.7"/><rect x="451.3" y="531.1" width="0.7" height="0.7"/><rect x="442.6" y="511.8" width="0.7" height="0.7"/><rect x="461.8" y="534.7" width="0.7" height="0.7"/><rect x="462.1" y="530.5" width="0.7" height="0.7"/><rect x="474.6" y="550.9" width="0.7" height="0.7"/><rect x="457.4" y="533.9" width="0.7" height="0.7"/><rect x="450.2" y="520.7" width="0.7" height="0.7"/><rect x="461.5" y="544.0" width="0.7" height="0.7"/><rect x="465.2" y="543.7" width="0.7" height="0.7"/><rect x="456.6" y="530.5" width="0.7" height="0.7"/><rect x="441.7" y="504.8" width="0.7" height="0.7"/><rect x="464.1" y="533.9" width="0.7" height="0.7"/><rect x="443.1" y="514.8" width="0.7" height="0.7"/><rect x="446.6" y="509.7" width="0.7" height="0.7"/><rect x="463.5" y="549.2" width="0.7" height="0.7"/><rect x="462.9" y="545.9" width="0.7" height="0.7"/><rect x="454.7" y="531.6" width="0.7" height="0.7"/><rect x="474.0" y="551.9" width="0.7" height="0.7"/><rect x="450.1" y="521.5" width="0.7" height="0.7"/><rect x="463.3" y="541.5" width="0.7" height="0.7"/><rect x="453.9" y="535.8" width="0.7" height="0.7"/><rect x="462.0" y="543.1" width="0.7" height="0.7"/><rect x="453.6" y="533.8" width="0.7" height="0.7"/><rect x="477.0" y="555.7" width="0.7" height="0.7"/><rect x="459.9" y="547.5" width="0.7" height="0.7"/><rect x="463.5" y="543.2" width="0.7" height="0.7"/><rect x="460.7" y="532.6" width="0.7" height="0.7"/><rect x="461.0" y="550.3" width="0.7" height="0.7"/><rect x="447.4" y="511.6" width="0.7" height="0.7"/><rect x="452.0" y="511.7" width="0.7" height="0.7"/><rect x="481.1" y="549.0" width="0.7" height="0.7"/><rect x="460.0" y="538.3" width="0.7" height="0.7"/><rect x="442.7" y="510.1" width="0.7" height="0.7"/><rect x="441.8" y="507.7" width="0.7" height="0.7"/><rect x="441.5" y="505.8" width="0.7" height="0.7"/><rect x="465.2" y="536.6" width="0.7" height="0.7"/><rect x="467.9" y="546.8" width="0.7" height="0.7"/><rect x="441.6" y="503.5" width="0.7" height="0.7"/><rect x="441.3" y="511.2" width="0.7" height="0.7"/><rect x="453.3" y="527.7" width="0.7" height="0.7"/><rect x="443.9" y="511.3" width="0.7" height="0.7"/><rect x="470.3" y="540.2" width="0.7" height="0.7"/><rect x="477.6" y="546.9" width="0.7" height="0.7"/><rect x="465.9" y="546.8" width="0.7" height="0.7"/><rect x="460.1" y="545.8" width="0.7" height="0.7"/><rect x="441.8" y="510.1" width="0.7" height="0.7"/><rect x="439.0" y="504.6" width="0.7" height="0.7"/><rect x="491.2" y="553.7" width="0.7" height="0.7"/><rect x="449.8" y="523.5" width="0.7" height="0.7"/><rect x="446.5" y="520.6" width="0.7" height="0.7"/><rect x="467.3" y="548.3" width="0.7" height="0.7"/><rect x="462.4" y="551.9" width="0.7" height="0.7"/><rect x="446.5" y="519.9" width="0.7" height="0.7"/><rect x="448.1" y="523.4" width="0.7" height="0.7"/><rect x="454.4" y="523.8" width="0.7" height="0.7"/><rect x="465.9" y="553.8" width="0.7" height="0.7"/><rect x="441.6" y="503.6" width="0.7" height="0.7"/><rect x="472.5" y="553.5" width="0.7" height="0.7"/><rect x="444.7" y="514.6" width="0.7" height="0.7"/><rect x="453.1" y="530.3" width="0.7" height="0.7"/><rect x="464.6" y="552.9" width="0.7" height="0.7"/><rect x="450.6" y="530.8" width="0.7" height="0.7"/><rect x="451.8" y="524.8" width="0.7" height="0.7"/><rect x="444.3" y="518.0" width="0.7" height="0.7"/><rect x="458.3" y="541.2" width="0.7" height="0.7"/><rect x="464.1" y="554.4" width="0.7" height="0.7"/><rect x="449.0" y="523.9" width="0.7" height="0.7"/><rect x="459.6" y="534.8" width="0.7" height="0.7"/><rect x="450.1" y="505.1" width="0.7" height="0.7"/><rect x="459.8" y="529.3" width="0.7" height="0.7"/><rect x="471.1" y="552.9" width="0.7" height="0.7"/><rect x="448.4" y="521.5" width="0.7" height="0.7"/><rect x="446.4" y="505.2" width="0.7" height="0.7"/><rect x="464.0" y="555.5" width="0.7" height="0.7"/><rect x="465.0" y="537.2" width="0.7" height="0.7"/><rect x="442.1" y="508.3" width="0.7" height="0.7"/><rect x="451.4" y="524.8" width="0.7" height="0.7"/><rect x="464.4" y="538.1" width="0.7" height="0.7"/><rect x="459.1" y="526.4" width="0.7" height="0.7"/><rect x="465.4" y="550.3" width="0.7" height="0.7"/><rect x="446.2" y="512.4" width="0.7" height="0.7"/><rect x="442.2" y="504.4" width="0.7" height="0.7"/><rect x="452.8" y="523.1" width="0.7" height="0.7"/><rect x="458.6" y="521.1" width="0.7" height="0.7"/><rect x="450.9" y="527.5" width="0.7" height="0.7"/><rect x="456.2" y="534.8" width="0.7" height="0.7"/><rect x="444.2" y="505.0" width="0.7" height="0.7"/><rect x="446.9" y="510.5" width="0.7" height="0.7"/><rect x="439.4" y="506.2" width="0.7" height="0.7"/><rect x="450.0" y="509.4" width="0.7" height="0.7"/><rect x="461.6" y="548.5" width="0.7" height="0.7"/><rect x="446.3" y="515.5" width="0.7" height="0.7"/><rect x="463.5" y="542.9" width="0.7" height="0.7"/><rect x="444.9" y="512.6" width="0.7" height="0.7"/><rect x="444.8" y="503.7" width="0.7" height="0.7"/><rect x="440.0" y="509.2" width="0.7" height="0.7"/><rect x="450.9" y="516.4" width="0.7" height="0.7"/><rect x="440.4" y="505.9" width="0.7" height="0.7"/><rect x="440.9" y="509.7" width="0.7" height="0.7"/><rect x="475.6" y="556.1" width="0.7" height="0.7"/><rect x="445.6" y="514.2" width="0.7" height="0.7"/><rect x="461.5" y="540.6" width="0.7" height="0.7"/><rect x="444.4" y="513.1" width="0.7" height="0.7"/><rect x="448.1" y="520.5" width="0.7" height="0.7"/><rect x="447.4" y="523.4" width="0.7" height="0.7"/><rect x="465.4" y="534.3" width="0.7" height="0.7"/><rect x="446.3" y="518.0" width="0.7" height="0.7"/><rect x="467.9" y="548.1" width="0.7" height="0.7"/><rect x="475.8" y="553.4" width="0.7" height="0.7"/><rect x="451.5" y="519.7" width="0.7" height="0.7"/><rect x="442.5" y="504.7" width="0.7" height="0.7"/><rect x="441.6" y="511.6" width="0.7" height="0.7"/><rect x="462.5" y="544.9" width="0.7" height="0.7"/><rect x="458.1" y="541.3" width="0.7" height="0.7"/><rect x="453.4" y="534.9" width="0.7" height="0.7"/><rect x="467.2" y="550.2" width="0.7" height="0.7"/><rect x="458.0" y="543.2" width="0.7" height="0.7"/><rect x="449.5" y="514.3" width="0.7" height="0.7"/><rect x="454.2" y="526.7" width="0.7" height="0.7"/><rect x="468.3" y="538.2" width="0.7" height="0.7"/><rect x="449.6" y="522.1" width="0.7" height="0.7"/><rect x="465.3" y="538.6" width="0.7" height="0.7"/><rect x="459.5" y="541.7" width="0.7" height="0.7"/><rect x="476.7" y="552.5" width="0.7" height="0.7"/><rect x="456.1" y="534.6" width="0.7" height="0.7"/><rect x="444.8" y="511.7" width="0.7" height="0.7"/><rect x="457.4" y="543.5" width="0.7" height="0.7"/><rect x="454.8" y="536.9" width="0.7" height="0.7"/><rect x="455.0" y="533.6" width="0.7" height="0.7"/><rect x="453.1" y="516.5" width="0.7" height="0.7"/><rect x="456.8" y="543.1" width="0.7" height="0.7"/><rect x="456.0" y="523.7" width="0.7" height="0.7"/><rect x="444.7" y="519.0" width="0.7" height="0.7"/><rect x="473.7" y="554.4" width="0.7" height="0.7"/><rect x="444.1" y="510.4" width="0.7" height="0.7"/><rect x="460.6" y="549.0" width="0.7" height="0.7"/><rect x="461.8" y="543.1" width="0.7" height="0.7"/><rect x="444.6" y="513.6" width="0.7" height="0.7"/><rect x="448.7" y="508.3" width="0.7" height="0.7"/><rect x="451.1" y="516.2" width="0.7" height="0.7"/><rect x="454.9" y="532.0" width="0.7" height="0.7"/><rect x="468.3" y="541.8" width="0.7" height="0.7"/><rect x="480.3" y="550.0" width="0.7" height="0.7"/><rect x="440.8" y="503.9" width="0.7" height="0.7"/><rect x="466.4" y="544.8" width="0.7" height="0.7"/><rect x="441.1" y="507.2" width="0.7" height="0.7"/><rect x="458.1" y="539.1" width="0.7" height="0.7"/><rect x="470.8" y="552.8" width="0.7" height="0.7"/><rect x="452.9" y="526.6" width="0.7" height="0.7"/><rect x="440.7" y="506.7" width="0.7" height="0.7"/><rect x="441.0" y="509.8" width="0.7" height="0.7"/><rect x="442.0" y="504.2" width="0.7" height="0.7"/><rect x="463.9" y="549.9" width="0.7" height="0.7"/><rect x="453.0" y="527.3" width="0.7" height="0.7"/><rect x="463.1" y="548.4" width="0.7" height="0.7"/><rect x="448.0" y="519.0" width="0.7" height="0.7"/><rect x="450.5" y="523.1" width="0.7" height="0.7"/><rect x="452.6" y="516.6" width="0.7" height="0.7"/><rect x="455.2" y="529.4" width="0.7" height="0.7"/><rect x="445.5" y="517.6" width="0.7" height="0.7"/><rect x="466.0" y="541.6" width="0.7" height="0.7"/><rect x="459.1" y="532.6" width="0.7" height="0.7"/><rect x="458.3" y="543.2" width="0.7" height="0.7"/><rect x="453.3" y="533.1" width="0.7" height="0.7"/><rect x="441.8" y="507.1" width="0.7" height="0.7"/><rect x="464.9" y="536.7" width="0.7" height="0.7"/><rect x="456.9" y="540.4" width="0.7" height="0.7"/><rect x="473.4" y="556.3" width="0.7" height="0.7"/><rect x="469.0" y="548.2" width="0.7" height="0.7"/><rect x="467.4" y="541.3" width="0.7" height="0.7"/><rect x="444.7" y="509.0" width="0.7" height="0.7"/><rect x="476.6" y="552.9" width="0.7" height="0.7"/><rect x="467.1" y="546.6" width="0.7" height="0.7"/><rect x="449.2" y="523.4" width="0.7" height="0.7"/><rect x="464.6" y="549.3" width="0.7" height="0.7"/><rect x="439.4" y="506.3" width="0.7" height="0.7"/><rect x="447.3" y="524.0" width="0.7" height="0.7"/><rect x="465.4" y="552.8" width="0.7" height="0.7"/><rect x="464.1" y="546.9" width="0.7" height="0.7"/><rect x="454.6" y="535.4" width="0.7" height="0.7"/><rect x="443.2" y="511.7" width="0.7" height="0.7"/><rect x="451.3" y="527.5" width="0.7" height="0.7"/><rect x="446.7" y="515.6" width="0.7" height="0.7"/><rect x="444.3" y="516.7" width="0.7" height="0.7"/><rect x="469.3" y="552.3" width="0.7" height="0.7"/><rect x="454.2" y="527.5" width="0.7" height="0.7"/><rect x="464.3" y="550.1" width="0.7" height="0.7"/><rect x="442.7" y="513.2" width="0.7" height="0.7"/><rect x="460.5" y="532.9" width="0.7" height="0.7"/><rect x="444.8" y="517.3" width="0.7" height="0.7"/><rect x="463.0" y="540.1" width="0.7" height="0.7"/><rect x="451.3" y="512.9" width="0.7" height="0.7"/><rect x="448.7" y="525.5" width="0.7" height="0.7"/><rect x="464.9" y="545.4" width="0.7" height="0.7"/><rect x="459.7" y="542.9" width="0.7" height="0.7"/><rect x="460.5" y="546.1" width="0.7" height="0.7"/><rect x="455.7" y="536.6" width="0.7" height="0.7"/><rect x="461.5" y="547.9" width="0.7" height="0.7"/><rect x="470.2" y="550.9" width="0.7" height="0.7"/><rect x="445.6" y="511.7" width="0.7" height="0.7"/><rect x="460.6" y="550.7" width="0.7" height="0.7"/><rect x="458.7" y="535.3" width="0.7" height="0.7"/><rect x="444.9" y="507.4" width="0.7" height="0.7"/><rect x="446.7" y="514.0" width="0.7" height="0.7"/><rect x="447.5" y="515.6" width="0.7" height="0.7"/><rect x="449.8" y="525.6" width="0.7" height="0.7"/><rect x="467.0" y="543.5" width="0.7" height="0.7"/><rect x="445.4" y="513.1" width="0.7" height="0.7"/><rect x="451.5" y="524.1" width="0.7" height="0.7"/><rect x="441.5" y="504.8" width="0.7" height="0.7"/><rect x="477.7" y="552.6" width="0.7" height="0.7"/><rect x="441.1" y="510.8" width="0.7" height="0.7"/><rect x="445.3" y="512.8" width="0.7" height="0.7"/><rect x="448.0" y="520.9" width="0.7" height="0.7"/><rect x="446.1" y="513.4" width="0.7" height="0.7"/><rect x="459.4" y="536.8" width="0.7" height="0.7"/><rect x="472.2" y="537.6" width="0.7" height="0.7"/><rect x="458.3" y="533.9" width="0.7" height="0.7"/><rect x="473.7" y="549.4" width="0.7" height="0.7"/><rect x="468.1" y="538.2" width="0.7" height="0.7"/><rect x="468.7" y="556.2" width="0.7" height="0.7"/><rect x="461.5" y="546.0" width="0.7" height="0.7"/><rect x="456.3" y="539.3" width="0.7" height="0.7"/><rect x="460.4" y="547.5" width="0.7" height="0.7"/><rect x="452.1" y="527.3" width="0.7" height="0.7"/><rect x="439.4" y="506.1" width="0.7" height="0.7"/><rect x="457.6" y="526.2" width="0.7" height="0.7"/><rect x="453.8" y="532.8" width="0.7" height="0.7"/><rect x="444.5" y="517.9" width="0.7" height="0.7"/><rect x="471.3" y="540.0" width="0.7" height="0.7"/><rect x="472.6" y="543.9" width="0.7" height="0.7"/><rect x="447.7" y="518.8" width="0.7" height="0.7"/><rect x="471.5" y="542.5" width="0.7" height="0.7"/><rect x="439.7" y="506.9" width="0.7" height="0.7"/><rect x="450.4" y="512.5" width="0.7" height="0.7"/><rect x="453.7" y="527.8" width="0.7" height="0.7"/><rect x="456.7" y="535.0" width="0.7" height="0.7"/><rect x="459.3" y="543.8" width="0.7" height="0.7"/><rect x="459.8" y="544.1" width="0.7" height="0.7"/><rect x="461.7" y="537.6" width="0.7" height="0.7"/><rect x="460.1" y="543.2" width="0.7" height="0.7"/><rect x="452.7" y="528.7" width="0.7" height="0.7"/><rect x="446.0" y="519.9" width="0.7" height="0.7"/><rect x="458.6" y="534.6" width="0.7" height="0.7"/><rect x="465.8" y="546.7" width="0.7" height="0.7"/><rect x="467.5" y="544.7" width="0.7" height="0.7"/><rect x="461.9" y="546.9" width="0.7" height="0.7"/><rect x="473.1" y="544.4" width="0.7" height="0.7"/><rect x="458.5" y="536.3" width="0.7" height="0.7"/><rect x="471.1" y="550.9" width="0.7" height="0.7"/><rect x="442.7" y="505.5" width="0.7" height="0.7"/><rect x="464.9" y="554.7" width="0.7" height="0.7"/><rect x="457.8" y="541.9" width="0.7" height="0.7"/><rect x="472.2" y="551.0" width="0.7" height="0.7"/><rect x="445.2" y="517.2" width="0.7" height="0.7"/><rect x="445.8" y="517.6" width="0.7" height="0.7"/><rect x="450.6" y="526.0" width="0.7" height="0.7"/><rect x="466.4" y="554.6" width="0.7" height="0.7"/><rect x="458.5" y="540.0" width="0.7" height="0.7"/><rect x="454.5" y="533.6" width="0.7" height="0.7"/><rect x="467.4" y="552.1" width="0.7" height="0.7"/><rect x="473.9" y="541.8" width="0.7" height="0.7"/><rect x="468.1" y="547.8" width="0.7" height="0.7"/><rect x="441.5" y="509.8" width="0.7" height="0.7"/><rect x="455.4" y="539.1" width="0.7" height="0.7"/><rect x="446.9" y="515.7" width="0.7" height="0.7"/><rect x="450.3" y="515.8" width="0.7" height="0.7"/><rect x="467.6" y="528.8" width="0.7" height="0.7"/><rect x="480.8" y="549.5" width="0.7" height="0.7"/><rect x="449.6" y="519.7" width="0.7" height="0.7"/><rect x="449.5" y="523.9" width="0.7" height="0.7"/><rect x="440.7" y="505.8" width="0.7" height="0.7"/><rect x="446.0" y="514.6" width="0.7" height="0.7"/><rect x="463.9" y="548.6" width="0.7" height="0.7"/><rect x="447.7" y="516.1" width="0.7" height="0.7"/><rect x="462.2" y="547.7" width="0.7" height="0.7"/><rect x="447.1" y="523.4" width="0.7" height="0.7"/><rect x="471.9" y="529.0" width="0.7" height="0.7"/><rect x="457.3" y="543.7" width="0.7" height="0.7"/><rect x="440.4" y="508.6" width="0.7" height="0.7"/><rect x="447.9" y="509.6" width="0.7" height="0.7"/><rect x="461.6" y="546.1" width="0.7" height="0.7"/><rect x="469.5" y="553.7" width="0.7" height="0.7"/><rect x="448.8" y="523.8" width="0.7" height="0.7"/><rect x="442.5" y="512.6" width="0.7" height="0.7"/><rect x="444.0" y="513.4" width="0.7" height="0.7"/><rect x="464.6" y="550.1" width="0.7" height="0.7"/><rect x="443.7" y="513.5" width="0.7" height="0.7"/><rect x="464.0" y="556.1" width="0.7" height="0.7"/><rect x="439.4" y="505.2" width="0.7" height="0.7"/><rect x="447.9" y="514.9" width="0.7" height="0.7"/><rect x="449.9" y="510.5" width="0.7" height="0.7"/><rect x="455.4" y="531.4" width="0.7" height="0.7"/><rect x="443.2" y="513.0" width="0.7" height="0.7"/><rect x="457.4" y="537.1" width="0.7" height="0.7"/><rect x="458.2" y="537.4" width="0.7" height="0.7"/><rect x="444.2" y="507.7" width="0.7" height="0.7"/><rect x="478.0" y="548.8" width="0.7" height="0.7"/><rect x="473.2" y="554.2" width="0.7" height="0.7"/><rect x="467.0" y="543.5" width="0.7" height="0.7"/><rect x="456.6" y="541.8" width="0.7" height="0.7"/><rect x="448.6" y="516.7" width="0.7" height="0.7"/><rect x="469.2" y="530.3" width="0.7" height="0.7"/><rect x="468.2" y="520.0" width="0.7" height="0.7"/><rect x="470.7" y="520.8" width="0.7" height="0.7"/><rect x="470.4" y="515.7" width="0.7" height="0.7"/><rect x="474.2" y="513.5" width="0.7" height="0.7"/><rect x="466.6" y="512.3" width="0.7" height="0.7"/><rect x="468.7" y="524.0" width="0.7" height="0.7"/><rect x="478.3" y="515.1" width="0.7" height="0.7"/><rect x="470.0" y="513.8" width="0.7" height="0.7"/><rect x="483.1" y="509.7" width="0.7" height="0.7"/><rect x="464.7" y="519.5" width="0.7" height="0.7"/><rect x="472.6" y="513.3" width="0.7" height="0.7"/><rect x="475.5" y="521.6" width="0.7" height="0.7"/><rect x="475.5" y="526.0" width="0.7" height="0.7"/><rect x="476.0" y="521.2" width="0.7" height="0.7"/><rect x="477.6" y="521.5" width="0.7" height="0.7"/><rect x="469.5" y="508.2" width="0.7" height="0.7"/><rect x="470.4" y="513.5" width="0.7" height="0.7"/><rect x="471.2" y="506.7" width="0.7" height="0.7"/><rect x="476.5" y="512.0" width="0.7" height="0.7"/><rect x="471.3" y="522.6" width="0.7" height="0.7"/><rect x="473.4" y="518.8" width="0.7" height="0.7"/><rect x="470.8" y="516.8" width="0.7" height="0.7"/><rect x="464.1" y="516.8" width="0.7" height="0.7"/><rect x="467.9" y="508.4" width="0.7" height="0.7"/><rect x="472.6" y="525.8" width="0.7" height="0.7"/><rect x="474.6" y="515.1" width="0.7" height="0.7"/><rect x="460.9" y="518.7" width="0.7" height="0.7"/><rect x="471.8" y="517.4" width="0.7" height="0.7"/><rect x="462.7" y="516.8" width="0.7" height="0.7"/><rect x="479.9" y="523.4" width="0.7" height="0.7"/><rect x="471.5" y="523.9" width="0.7" height="0.7"/><rect x="477.4" y="516.1" width="0.7" height="0.7"/><rect x="478.5" y="516.3" width="0.7" height="0.7"/><rect x="479.0" y="515.2" width="0.7" height="0.7"/><rect x="457.1" y="514.3" width="0.7" height="0.7"/><rect x="471.7" y="512.3" width="0.7" height="0.7"/><rect x="480.1" y="517.1" width="0.7" height="0.7"/><rect x="474.7" y="522.6" width="0.7" height="0.7"/><rect x="471.2" y="514.4" width="0.7" height="0.7"/><rect x="466.3" y="521.2" width="0.7" height="0.7"/><rect x="466.2" y="516.5" width="0.7" height="0.7"/><rect x="473.8" y="512.4" width="0.7" height="0.7"/><rect x="481.7" y="518.0" width="0.7" height="0.7"/><rect x="471.1" y="510.1" width="0.7" height="0.7"/><rect x="478.4" y="523.5" width="0.7" height="0.7"/><rect x="482.8" y="511.5" width="0.7" height="0.7"/><rect x="475.8" y="516.0" width="0.7" height="0.7"/><rect x="478.2" y="505.2" width="0.7" height="0.7"/><rect x="467.3" y="525.4" width="0.7" height="0.7"/><rect x="480.4" y="512.1" width="0.7" height="0.7"/><rect x="464.0" y="515.2" width="0.7" height="0.7"/><rect x="484.3" y="525.1" width="0.7" height="0.7"/><rect x="474.1" y="518.1" width="0.7" height="0.7"/><rect x="468.5" y="518.2" width="0.7" height="0.7"/><rect x="475.6" y="510.4" width="0.7" height="0.7"/><rect x="479.5" y="520.4" width="0.7" height="0.7"/><rect x="469.1" y="512.2" width="0.7" height="0.7"/><rect x="475.6" y="522.9" width="0.7" height="0.7"/><rect x="478.4" y="520.0" width="0.7" height="0.7"/><rect x="485.5" y="512.0" width="0.7" height="0.7"/><rect x="472.8" y="520.3" width="0.7" height="0.7"/><rect x="477.1" y="519.3" width="0.7" height="0.7"/><rect x="468.2" y="514.7" width="0.7" height="0.7"/><rect x="473.8" y="517.3" width="0.7" height="0.7"/><rect x="468.0" y="514.9" width="0.7" height="0.7"/><rect x="475.6" y="520.7" width="0.7" height="0.7"/><rect x="474.1" y="518.5" width="0.7" height="0.7"/><rect x="473.6" y="523.7" width="0.7" height="0.7"/><rect x="470.4" y="526.9" width="0.7" height="0.7"/><rect x="461.9" y="521.5" width="0.7" height="0.7"/><rect x="478.7" y="527.2" width="0.7" height="0.7"/><rect x="474.9" y="519.4" width="0.7" height="0.7"/><rect x="475.0" y="520.4" width="0.7" height="0.7"/><rect x="478.4" y="512.4" width="0.7" height="0.7"/><rect x="470.3" y="518.1" width="0.7" height="0.7"/><rect x="482.5" y="521.6" width="0.7" height="0.7"/><rect x="474.4" y="519.3" width="0.7" height="0.7"/><rect x="465.6" y="513.4" width="0.7" height="0.7"/><rect x="473.6" y="522.0" width="0.7" height="0.7"/><rect x="474.0" y="515.4" width="0.7" height="0.7"/><rect x="471.4" y="513.9" width="0.7" height="0.7"/><rect x="468.0" y="520.0" width="0.7" height="0.7"/><rect x="461.1" y="519.6" width="0.7" height="0.7"/><rect x="474.4" y="517.2" width="0.7" height="0.7"/><rect x="480.0" y="521.0" width="0.7" height="0.7"/><rect x="474.3" y="521.8" width="0.7" height="0.7"/><rect x="465.6" y="516.2" width="0.7" height="0.7"/><rect x="473.2" y="518.8" width="0.7" height="0.7"/><rect x="466.5" y="511.8" width="0.7" height="0.7"/><rect x="469.6" y="519.6" width="0.7" height="0.7"/><rect x="471.4" y="514.7" width="0.7" height="0.7"/><rect x="470.5" y="515.9" width="0.7" height="0.7"/><rect x="478.4" y="510.4" width="0.7" height="0.7"/><rect x="483.7" y="523.4" width="0.7" height="0.7"/><rect x="474.1" y="518.5" width="0.7" height="0.7"/><rect x="468.9" y="523.3" width="0.7" height="0.7"/><rect x="483.6" y="523.4" width="0.7" height="0.7"/><rect x="467.3" y="519.9" width="0.7" height="0.7"/><rect x="467.9" y="519.2" width="0.7" height="0.7"/><rect x="468.8" y="515.0" width="0.7" height="0.7"/><rect x="473.7" y="520.6" width="0.7" height="0.7"/><rect x="474.8" y="520.5" width="0.7" height="0.7"/><rect x="475.3" y="512.8" width="0.7" height="0.7"/><rect x="477.8" y="509.4" width="0.7" height="0.7"/><rect x="459.4" y="523.4" width="0.7" height="0.7"/><rect x="477.7" y="521.0" width="0.7" height="0.7"/><rect x="472.4" y="517.8" width="0.7" height="0.7"/><rect x="492.8" y="520.6" width="0.7" height="0.7"/><rect x="467.0" y="530.1" width="0.7" height="0.7"/><rect x="470.5" y="504.2" width="0.7" height="0.7"/><rect x="467.7" y="520.3" width="0.7" height="0.7"/><rect x="478.7" y="517.2" width="0.7" height="0.7"/><rect x="478.9" y="520.6" width="0.7" height="0.7"/><rect x="478.3" y="514.9" width="0.7" height="0.7"/><rect x="466.3" y="521.7" width="0.7" height="0.7"/><rect x="467.8" y="514.7" width="0.7" height="0.7"/><rect x="469.0" y="520.6" width="0.7" height="0.7"/><rect x="476.1" y="519.1" width="0.7" height="0.7"/><rect x="472.5" y="514.3" width="0.7" height="0.7"/><rect x="488.8" y="521.3" width="0.7" height="0.7"/><rect x="480.9" y="520.1" width="0.7" height="0.7"/><rect x="473.7" y="515.3" width="0.7" height="0.7"/><rect x="484.2" y="514.1" width="0.7" height="0.7"/><rect x="470.9" y="511.5" width="0.7" height="0.7"/><rect x="472.8" y="516.9" width="0.7" height="0.7"/><rect x="465.3" y="511.6" width="0.7" height="0.7"/><rect x="469.7" y="510.9" width="0.7" height="0.7"/><rect x="468.4" y="516.2" width="0.7" height="0.7"/><rect x="472.3" y="520.4" width="0.7" height="0.7"/><rect x="474.9" y="510.2" width="0.7" height="0.7"/><rect x="480.6" y="514.7" width="0.7" height="0.7"/><rect x="480.3" y="520.3" width="0.7" height="0.7"/><rect x="474.4" y="515.7" width="0.7" height="0.7"/><rect x="478.9" y="520.5" width="0.7" height="0.7"/><rect x="476.6" y="523.9" width="0.7" height="0.7"/><rect x="481.2" y="512.0" width="0.7" height="0.7"/><rect x="462.9" y="510.2" width="0.7" height="0.7"/><rect x="482.9" y="521.2" width="0.7" height="0.7"/><rect x="479.1" y="515.1" width="0.7" height="0.7"/><rect x="473.7" y="521.5" width="0.7" height="0.7"/><rect x="471.9" y="510.4" width="0.7" height="0.7"/><rect x="471.3" y="517.1" width="0.7" height="0.7"/><rect x="483.1" y="518.4" width="0.7" height="0.7"/><rect x="472.9" y="513.5" width="0.7" height="0.7"/><rect x="479.5" y="512.6" width="0.7" height="0.7"/><rect x="469.7" y="512.8" width="0.7" height="0.7"/><rect x="464.0" y="517.6" width="0.7" height="0.7"/><rect x="472.2" y="524.4" width="0.7" height="0.7"/><rect x="469.0" y="515.4" width="0.7" height="0.7"/><rect x="476.3" y="514.1" width="0.7" height="0.7"/><rect x="474.5" y="514.0" width="0.7" height="0.7"/><rect x="466.2" y="520.1" width="0.7" height="0.7"/><rect x="478.5" y="510.6" width="0.7" height="0.7"/><rect x="478.5" y="511.8" width="0.7" height="0.7"/><rect x="475.4" y="520.1" width="0.7" height="0.7"/><rect x="477.3" y="516.1" width="0.7" height="0.7"/><rect x="473.2" y="509.9" width="0.7" height="0.7"/><rect x="480.8" y="512.0" width="0.7" height="0.7"/><rect x="476.9" y="516.3" width="0.7" height="0.7"/><rect x="486.3" y="515.1" width="0.7" height="0.7"/><rect x="470.4" y="515.4" width="0.7" height="0.7"/><rect x="472.8" y="516.2" width="0.7" height="0.7"/><rect x="482.3" y="517.9" width="0.7" height="0.7"/><rect x="471.2" y="522.2" width="0.7" height="0.7"/><rect x="484.5" y="517.1" width="0.7" height="0.7"/><rect x="484.5" y="517.3" width="0.7" height="0.7"/><rect x="470.4" y="513.9" width="0.7" height="0.7"/><rect x="481.1" y="516.2" width="0.7" height="0.7"/><rect x="481.1" y="515.2" width="0.7" height="0.7"/><rect x="478.6" y="520.6" width="0.7" height="0.7"/><rect x="477.2" y="515.2" width="0.7" height="0.7"/><rect x="474.6" y="518.3" width="0.7" height="0.7"/><rect x="463.3" y="521.4" width="0.7" height="0.7"/><rect x="466.4" y="517.6" width="0.7" height="0.7"/><rect x="478.4" y="520.9" width="0.7" height="0.7"/><rect x="484.4" y="507.7" width="0.7" height="0.7"/><rect x="473.9" y="510.7" width="0.7" height="0.7"/><rect x="468.7" y="517.1" width="0.7" height="0.7"/><rect x="476.0" y="516.8" width="0.7" height="0.7"/><rect x="470.0" y="516.4" width="0.7" height="0.7"/><rect x="470.4" y="518.9" width="0.7" height="0.7"/><rect x="477.2" y="511.1" width="0.7" height="0.7"/><rect x="478.0" y="516.2" width="0.7" height="0.7"/><rect x="479.1" y="508.6" width="0.7" height="0.7"/><rect x="467.9" y="516.3" width="0.7" height="0.7"/><rect x="471.8" y="508.7" width="0.7" height="0.7"/><rect x="468.7" y="519.5" width="0.7" height="0.7"/><rect x="471.0" y="520.5" width="0.7" height="0.7"/><rect x="470.1" y="513.9" width="0.7" height="0.7"/><rect x="470.0" y="516.5" width="0.7" height="0.7"/><rect x="479.1" y="521.4" width="0.7" height="0.7"/><rect x="472.7" y="512.7" width="0.7" height="0.7"/><rect x="473.8" y="510.9" width="0.7" height="0.7"/><rect x="476.4" y="510.0" width="0.7" height="0.7"/><rect x="468.0" y="522.4" width="0.7" height="0.7"/><rect x="484.6" y="514.8" width="0.7" height="0.7"/><rect x="477.0" y="515.1" width="0.7" height="0.7"/><rect x="467.6" y="520.4" width="0.7" height="0.7"/><rect x="470.4" y="515.3" width="0.7" height="0.7"/><rect x="472.1" y="518.8" width="0.7" height="0.7"/><rect x="474.1" y="521.0" width="0.7" height="0.7"/><rect x="478.2" y="510.2" width="0.7" height="0.7"/><rect x="461.9" y="518.5" width="0.7" height="0.7"/><rect x="473.8" y="511.3" width="0.7" height="0.7"/><rect x="482.8" y="518.6" width="0.7" height="0.7"/><rect x="475.6" y="513.4" width="0.7" height="0.7"/><rect x="471.8" y="520.6" width="0.7" height="0.7"/><rect x="467.6" y="515.4" width="0.7" height="0.7"/><rect x="473.7" y="503.3" width="0.7" height="0.7"/><rect x="471.6" y="513.9" width="0.7" height="0.7"/><rect x="475.1" y="514.7" width="0.7" height="0.7"/><rect x="475.5" y="511.8" width="0.7" height="0.7"/><rect x="476.3" y="517.2" width="0.7" height="0.7"/><rect x="476.3" y="517.5" width="0.7" height="0.7"/><rect x="475.7" y="516.6" width="0.7" height="0.7"/><rect x="488.8" y="519.8" width="0.7" height="0.7"/><rect x="484.2" y="518.7" width="0.7" height="0.7"/><rect x="472.1" y="505.6" width="0.7" height="0.7"/><rect x="466.9" y="523.8" width="0.7" height="0.7"/><rect x="462.5" y="519.8" width="0.7" height="0.7"/><rect x="484.4" y="518.2" width="0.7" height="0.7"/><rect x="478.8" y="512.9" width="0.7" height="0.7"/><rect x="476.7" y="516.7" width="0.7" height="0.7"/><rect x="466.7" y="516.8" width="0.7" height="0.7"/><rect x="473.7" y="517.5" width="0.7" height="0.7"/><rect x="478.8" y="505.8" width="0.7" height="0.7"/><rect x="471.2" y="518.3" width="0.7" height="0.7"/><rect x="465.4" y="518.7" width="0.7" height="0.7"/><rect x="475.8" y="514.5" width="0.7" height="0.7"/><rect x="474.6" y="517.3" width="0.7" height="0.7"/><rect x="473.1" y="522.4" width="0.7" height="0.7"/><rect x="472.3" y="517.6" width="0.7" height="0.7"/><rect x="462.0" y="511.9" width="0.7" height="0.7"/><rect x="477.7" y="511.1" width="0.7" height="0.7"/><rect x="479.1" y="518.7" width="0.7" height="0.7"/><rect x="475.2" y="516.4" width="0.7" height="0.7"/><rect x="470.8" y="525.8" width="0.7" height="0.7"/><rect x="466.7" y="513.4" width="0.7" height="0.7"/><rect x="473.8" y="513.4" width="0.7" height="0.7"/><rect x="479.7" y="519.1" width="0.7" height="0.7"/><rect x="476.0" y="513.8" width="0.7" height="0.7"/><rect x="486.4" y="520.1" width="0.7" height="0.7"/><rect x="480.9" y="516.2" width="0.7" height="0.7"/><rect x="464.8" y="523.3" width="0.7" height="0.7"/><rect x="475.8" y="514.2" width="0.7" height="0.7"/><rect x="487.1" y="513.7" width="0.7" height="0.7"/><rect x="470.4" y="507.9" width="0.7" height="0.7"/><rect x="462.3" y="523.4" width="0.7" height="0.7"/><rect x="472.9" y="517.3" width="0.7" height="0.7"/><rect x="473.8" y="527.7" width="0.7" height="0.7"/><rect x="471.8" y="516.6" width="0.7" height="0.7"/><rect x="479.5" y="518.8" width="0.7" height="0.7"/><rect x="470.1" y="518.4" width="0.7" height="0.7"/><rect x="476.1" y="522.0" width="0.7" height="0.7"/><rect x="475.2" y="521.0" width="0.7" height="0.7"/><rect x="472.6" y="519.5" width="0.7" height="0.7"/><rect x="467.8" y="513.5" width="0.7" height="0.7"/><rect x="468.8" y="521.7" width="0.7" height="0.7"/><rect x="469.9" y="512.3" width="0.7" height="0.7"/><rect x="471.8" y="519.1" width="0.7" height="0.7"/><rect x="475.6" y="513.8" width="0.7" height="0.7"/><rect x="463.4" y="522.1" width="0.7" height="0.7"/><rect x="471.0" y="519.9" width="0.7" height="0.7"/><rect x="467.6" y="520.8" width="0.7" height="0.7"/><rect x="476.1" y="519.6" width="0.7" height="0.7"/><rect x="474.9" y="511.1" width="0.7" height="0.7"/><rect x="465.8" y="513.3" width="0.7" height="0.7"/><rect x="476.9" y="518.1" width="0.7" height="0.7"/><rect x="475.0" y="520.8" width="0.7" height="0.7"/><rect x="475.9" y="518.3" width="0.7" height="0.7"/><rect x="474.8" y="520.4" width="0.7" height="0.7"/><rect x="467.5" y="515.1" width="0.7" height="0.7"/><rect x="475.5" y="519.2" width="0.7" height="0.7"/><rect x="460.1" y="513.1" width="0.7" height="0.7"/><rect x="474.9" y="513.9" width="0.7" height="0.7"/><rect x="478.4" y="520.2" width="0.7" height="0.7"/><rect x="470.1" y="511.6" width="0.7" height="0.7"/><rect x="494.6" y="514.0" width="0.7" height="0.7"/><rect x="474.1" y="521.8" width="0.7" height="0.7"/><rect x="464.1" y="521.7" width="0.7" height="0.7"/><rect x="473.6" y="518.0" width="0.7" height="0.7"/><rect x="478.1" y="513.5" width="0.7" height="0.7"/><rect x="471.0" y="521.3" width="0.7" height="0.7"/><rect x="474.8" y="513.7" width="0.7" height="0.7"/><rect x="477.7" y="517.3" width="0.7" height="0.7"/><rect x="477.1" y="517.7" width="0.7" height="0.7"/><rect x="467.6" y="513.9" width="0.7" height="0.7"/><rect x="477.7" y="520.8" width="0.7" height="0.7"/><rect x="469.1" y="521.2" width="0.7" height="0.7"/><rect x="478.7" y="524.5" width="0.7" height="0.7"/><rect x="472.0" y="517.9" width="0.7" height="0.7"/><rect x="472.0" y="513.0" width="0.7" height="0.7"/><rect x="480.2" y="512.6" width="0.7" height="0.7"/><rect x="472.1" y="519.3" width="0.7" height="0.7"/><rect x="481.7" y="515.6" width="0.7" height="0.7"/><rect x="470.4" y="516.6" width="0.7" height="0.7"/><rect x="476.7" y="518.5" width="0.7" height="0.7"/><rect x="471.3" y="513.9" width="0.7" height="0.7"/><rect x="476.8" y="520.5" width="0.7" height="0.7"/><rect x="468.6" y="517.0" width="0.7" height="0.7"/><rect x="470.7" y="512.7" width="0.7" height="0.7"/><rect x="480.2" y="517.5" width="0.7" height="0.7"/><rect x="477.3" y="515.7" width="0.7" height="0.7"/><rect x="470.6" y="521.2" width="0.7" height="0.7"/><rect x="467.6" y="519.9" width="0.7" height="0.7"/><rect x="477.6" y="522.4" width="0.7" height="0.7"/><rect x="458.7" y="515.5" width="0.7" height="0.7"/><rect x="477.1" y="516.0" width="0.7" height="0.7"/><rect x="474.2" y="518.3" width="0.7" height="0.7"/><rect x="466.7" y="522.2" width="0.7" height="0.7"/><rect x="481.3" y="519.5" width="0.7" height="0.7"/><rect x="457.9" y="520.8" width="0.7" height="0.7"/><rect x="480.4" y="507.5" width="0.7" height="0.7"/><rect x="471.4" y="510.2" width="0.7" height="0.7"/><rect x="478.3" y="519.3" width="0.7" height="0.7"/><rect x="470.2" y="513.0" width="0.7" height="0.7"/><rect x="460.6" y="520.0" width="0.7" height="0.7"/><rect x="472.1" y="520.2" width="0.7" height="0.7"/><rect x="479.0" y="515.2" width="0.7" height="0.7"/><rect x="480.3" y="516.5" width="0.7" height="0.7"/><rect x="469.8" y="518.9" width="0.7" height="0.7"/><rect x="465.5" y="528.9" width="0.7" height="0.7"/><rect x="471.6" y="519.6" width="0.7" height="0.7"/><rect x="461.1" y="526.8" width="0.7" height="0.7"/><rect x="461.7" y="525.7" width="0.7" height="0.7"/><rect x="455.9" y="537.7" width="0.7" height="0.7"/><rect x="461.0" y="535.8" width="0.7" height="0.7"/><rect x="462.1" y="530.3" width="0.7" height="0.7"/><rect x="456.2" y="531.6" width="0.7" height="0.7"/><rect x="463.6" y="532.7" width="0.7" height="0.7"/><rect x="449.9" y="540.8" width="0.7" height="0.7"/><rect x="463.4" y="519.8" width="0.7" height="0.7"/><rect x="453.2" y="537.0" width="0.7" height="0.7"/><rect x="463.1" y="527.8" width="0.7" height="0.7"/><rect x="461.0" y="524.2" width="0.7" height="0.7"/><rect x="455.9" y="533.3" width="0.7" height="0.7"/><rect x="464.1" y="524.4" width="0.7" height="0.7"/><rect x="468.2" y="516.5" width="0.7" height="0.7"/><rect x="464.3" y="525.9" width="0.7" height="0.7"/><rect x="460.5" y="527.5" width="0.7" height="0.7"/><rect x="455.4" y="533.6" width="0.7" height="0.7"/><rect x="455.8" y="528.5" width="0.7" height="0.7"/><rect x="454.7" y="535.6" width="0.7" height="0.7"/><rect x="459.0" y="541.4" width="0.7" height="0.7"/><rect x="458.2" y="539.3" width="0.7" height="0.7"/><rect x="460.1" y="536.4" width="0.7" height="0.7"/><rect x="463.5" y="520.1" width="0.7" height="0.7"/><rect x="466.7" y="531.8" width="0.7" height="0.7"/><rect x="458.8" y="529.1" width="0.7" height="0.7"/><rect x="467.4" y="523.4" width="0.7" height="0.7"/><rect x="455.6" y="529.3" width="0.7" height="0.7"/><rect x="455.7" y="540.6" width="0.7" height="0.7"/><rect x="468.9" y="523.7" width="0.7" height="0.7"/><rect x="453.5" y="538.3" width="0.7" height="0.7"/><rect x="455.6" y="534.6" width="0.7" height="0.7"/><rect x="456.7" y="536.5" width="0.7" height="0.7"/><rect x="460.3" y="528.7" width="0.7" height="0.7"/><rect x="452.2" y="531.1" width="0.7" height="0.7"/><rect x="460.8" y="537.2" width="0.7" height="0.7"/><rect x="471.9" y="514.7" width="0.7" height="0.7"/><rect x="447.3" y="531.2" width="0.7" height="0.7"/><rect x="453.1" y="535.0" width="0.7" height="0.7"/><rect x="463.4" y="524.6" width="0.7" height="0.7"/><rect x="466.9" y="526.9" width="0.7" height="0.7"/><rect x="468.2" y="520.8" width="0.7" height="0.7"/><rect x="458.8" y="527.5" width="0.7" height="0.7"/><rect x="467.7" y="522.5" width="0.7" height="0.7"/><rect x="458.8" y="530.0" width="0.7" height="0.7"/><rect x="461.4" y="528.1" width="0.7" height="0.7"/><rect x="454.6" y="542.7" width="0.7" height="0.7"/><rect x="467.9" y="520.3" width="0.7" height="0.7"/><rect x="457.2" y="536.3" width="0.7" height="0.7"/><rect x="460.7" y="540.8" width="0.7" height="0.7"/><rect x="459.6" y="530.1" width="0.7" height="0.7"/><rect x="468.9" y="522.4" width="0.7" height="0.7"/><rect x="465.2" y="528.6" width="0.7" height="0.7"/><rect x="474.6" y="525.9" width="0.7" height="0.7"/><rect x="453.7" y="532.9" width="0.7" height="0.7"/><rect x="457.3" y="533.7" width="0.7" height="0.7"/><rect x="475.9" y="518.5" width="0.7" height="0.7"/><rect x="465.8" y="529.6" width="0.7" height="0.7"/><rect x="455.1" y="530.9" width="0.7" height="0.7"/><rect x="455.8" y="533.5" width="0.7" height="0.7"/><rect x="471.9" y="520.9" width="0.7" height="0.7"/><rect x="453.6" y="541.9" width="0.7" height="0.7"/><rect x="459.7" y="531.4" width="0.7" height="0.7"/><rect x="462.0" y="533.9" width="0.7" height="0.7"/><rect x="465.5" y="527.0" width="0.7" height="0.7"/><rect x="461.4" y="523.8" width="0.7" height="0.7"/><rect x="454.3" y="533.6" width="0.7" height="0.7"/><rect x="469.7" y="531.3" width="0.7" height="0.7"/><rect x="464.0" y="527.1" width="0.7" height="0.7"/><rect x="458.2" y="536.9" width="0.7" height="0.7"/><rect x="458.4" y="535.0" width="0.7" height="0.7"/><rect x="452.6" y="541.2" width="0.7" height="0.7"/><rect x="468.7" y="521.4" width="0.7" height="0.7"/><rect x="454.0" y="538.3" width="0.7" height="0.7"/><rect x="462.4" y="532.3" width="0.7" height="0.7"/><rect x="458.7" y="533.9" width="0.7" height="0.7"/><rect x="458.6" y="536.8" width="0.7" height="0.7"/><rect x="472.8" y="519.6" width="0.7" height="0.7"/><rect x="461.3" y="535.0" width="0.7" height="0.7"/><rect x="452.6" y="539.2" width="0.7" height="0.7"/><rect x="462.7" y="529.1" width="0.7" height="0.7"/><rect x="458.0" y="534.7" width="0.7" height="0.7"/><rect x="461.2" y="528.8" width="0.7" height="0.7"/><rect x="467.2" y="525.4" width="0.7" height="0.7"/><rect x="456.7" y="535.2" width="0.7" height="0.7"/><rect x="470.1" y="520.1" width="0.7" height="0.7"/><rect x="467.7" y="525.9" width="0.7" height="0.7"/><rect x="464.5" y="522.9" width="0.7" height="0.7"/><rect x="452.0" y="536.0" width="0.7" height="0.7"/><rect x="468.7" y="527.4" width="0.7" height="0.7"/><rect x="466.0" y="522.5" width="0.7" height="0.7"/><rect x="467.8" y="525.5" width="0.7" height="0.7"/><rect x="464.4" y="528.1" width="0.7" height="0.7"/><rect x="468.3" y="525.1" width="0.7" height="0.7"/><rect x="472.2" y="520.5" width="0.7" height="0.7"/><rect x="463.7" y="527.3" width="0.7" height="0.7"/><rect x="463.9" y="532.3" width="0.7" height="0.7"/><rect x="472.2" y="521.8" width="0.7" height="0.7"/><rect x="461.1" y="534.8" width="0.7" height="0.7"/><rect x="460.7" y="535.5" width="0.7" height="0.7"/><rect x="452.3" y="538.4" width="0.7" height="0.7"/><rect x="456.3" y="539.8" width="0.7" height="0.7"/><rect x="467.5" y="525.2" width="0.7" height="0.7"/><rect x="447.9" y="533.7" width="0.7" height="0.7"/><rect x="459.1" y="533.8" width="0.7" height="0.7"/><rect x="465.9" y="517.1" width="0.7" height="0.7"/><rect x="465.4" y="528.2" width="0.7" height="0.7"/><rect x="464.6" y="528.1" width="0.7" height="0.7"/><rect x="451.4" y="538.4" width="0.7" height="0.7"/><rect x="462.3" y="522.4" width="0.7" height="0.7"/><rect x="468.5" y="526.3" width="0.7" height="0.7"/><rect x="463.4" y="530.5" width="0.7" height="0.7"/><rect x="456.2" y="532.0" width="0.7" height="0.7"/><rect x="450.4" y="537.4" width="0.7" height="0.7"/><rect x="469.9" y="521.6" width="0.7" height="0.7"/><rect x="458.1" y="532.2" width="0.7" height="0.7"/><rect x="461.1" y="523.0" width="0.7" height="0.7"/><rect x="457.6" y="530.6" width="0.7" height="0.7"/><rect x="458.9" y="534.3" width="0.7" height="0.7"/><rect x="456.8" y="533.7" width="0.7" height="0.7"/><rect x="464.6" y="527.3" width="0.7" height="0.7"/><rect x="457.0" y="535.7" width="0.7" height="0.7"/><rect x="462.2" y="527.1" width="0.7" height="0.7"/><rect x="468.6" y="528.7" width="0.7" height="0.7"/><rect x="461.6" y="530.2" width="0.7" height="0.7"/><rect x="455.4" y="531.4" width="0.7" height="0.7"/><rect x="455.4" y="533.2" width="0.7" height="0.7"/><rect x="454.2" y="532.7" width="0.7" height="0.7"/><rect x="457.2" y="530.5" width="0.7" height="0.7"/><rect x="464.9" y="528.2" width="0.7" height="0.7"/><rect x="457.1" y="526.3" width="0.7" height="0.7"/><rect x="462.3" y="522.0" width="0.7" height="0.7"/><rect x="450.0" y="540.5" width="0.7" height="0.7"/><rect x="448.4" y="537.8" width="0.7" height="0.7"/><rect x="466.3" y="517.7" width="0.7" height="0.7"/><rect x="478.0" y="514.1" width="0.7" height="0.7"/><rect x="464.0" y="529.3" width="0.7" height="0.7"/><rect x="459.4" y="539.1" width="0.7" height="0.7"/><rect x="471.1" y="518.1" width="0.7" height="0.7"/><rect x="470.0" y="530.2" width="0.7" height="0.7"/><rect x="456.2" y="538.2" width="0.7" height="0.7"/><rect x="458.0" y="539.9" width="0.7" height="0.7"/><rect x="462.0" y="527.1" width="0.7" height="0.7"/><rect x="461.4" y="527.4" width="0.7" height="0.7"/><rect x="474.7" y="524.4" width="0.7" height="0.7"/><rect x="455.1" y="533.2" width="0.7" height="0.7"/><rect x="461.8" y="529.8" width="0.7" height="0.7"/><rect x="455.6" y="535.4" width="0.7" height="0.7"/><rect x="467.9" y="521.5" width="0.7" height="0.7"/><rect x="468.9" y="527.8" width="0.7" height="0.7"/><rect x="456.9" y="534.3" width="0.7" height="0.7"/><rect x="456.6" y="533.8" width="0.7" height="0.7"/><rect x="470.2" y="529.8" width="0.7" height="0.7"/><rect x="463.1" y="529.7" width="0.7" height="0.7"/><rect x="470.3" y="520.6" width="0.7" height="0.7"/><rect x="461.5" y="531.2" width="0.7" height="0.7"/><rect x="461.9" y="521.1" width="0.7" height="0.7"/><rect x="467.5" y="520.8" width="0.7" height="0.7"/><rect x="459.7" y="531.8" width="0.7" height="0.7"/><rect x="455.8" y="540.0" width="0.7" height="0.7"/><rect x="453.5" y="531.6" width="0.7" height="0.7"/><rect x="459.8" y="521.6" width="0.7" height="0.7"/><rect x="470.1" y="521.1" width="0.7" height="0.7"/><rect x="467.8" y="523.6" width="0.7" height="0.7"/><rect x="469.9" y="515.5" width="0.7" height="0.7"/><rect x="462.4" y="525.3" width="0.7" height="0.7"/><rect x="463.3" y="531.0" width="0.7" height="0.7"/><rect x="457.2" y="538.2" width="0.7" height="0.7"/><rect x="472.0" y="513.2" width="0.7" height="0.7"/><rect x="467.3" y="522.3" width="0.7" height="0.7"/><rect x="472.7" y="520.1" width="0.7" height="0.7"/><rect x="463.8" y="523.5" width="0.7" height="0.7"/><rect x="466.4" y="525.9" width="0.7" height="0.7"/><rect x="458.0" y="531.7" width="0.7" height="0.7"/><rect x="468.3" y="522.6" width="0.7" height="0.7"/><rect x="458.7" y="538.4" width="0.7" height="0.7"/><rect x="472.5" y="521.1" width="0.7" height="0.7"/><rect x="467.3" y="519.3" width="0.7" height="0.7"/><rect x="466.2" y="534.6" width="0.7" height="0.7"/><rect x="466.5" y="528.0" width="0.7" height="0.7"/><rect x="462.9" y="532.1" width="0.7" height="0.7"/><rect x="464.5" y="524.9" width="0.7" height="0.7"/><rect x="453.9" y="543.6" width="0.7" height="0.7"/><rect x="470.9" y="520.8" width="0.7" height="0.7"/><rect x="472.1" y="517.4" width="0.7" height="0.7"/><rect x="452.7" y="531.7" width="0.7" height="0.7"/><rect x="452.7" y="538.7" width="0.7" height="0.7"/><rect x="468.3" y="518.7" width="0.7" height="0.7"/><rect x="470.5" y="516.1" width="0.7" height="0.7"/><rect x="458.8" y="529.6" width="0.7" height="0.7"/><rect x="463.5" y="531.3" width="0.7" height="0.7"/><rect x="452.4" y="534.0" width="0.7" height="0.7"/><rect x="459.9" y="536.5" width="0.7" height="0.7"/><rect x="468.8" y="531.2" width="0.7" height="0.7"/><rect x="452.8" y="538.2" width="0.7" height="0.7"/><rect x="469.2" y="519.9" width="0.7" height="0.7"/><rect x="466.2" y="527.2" width="0.7" height="0.7"/></g>
<g fill="#000" opacity="0.6"><rect x="454.3" y="543.1" width="0.7" height="0.7"/><rect x="451.8" y="550.0" width="0.7" height="0.7"/><rect x="453.8" y="554.5" width="0.7" height="0.7"/><rect x="449.5" y="535.3" width="0.7" height="0.7"/><rect x="441.7" y="545.9" width="0.7" height="0.7"/><rect x="448.7" y="541.7" width="0.7" height="0.7"/><rect x="450.2" y="551.5" width="0.7" height="0.7"/><rect x="443.9" y="545.7" width="0.7" height="0.7"/><rect x="454.7" y="532.4" width="0.7" height="0.7"/><rect x="451.9" y="550.4" width="0.7" height="0.7"/><rect x="445.8" y="545.4" width="0.7" height="0.7"/><rect x="453.7" y="534.2" width="0.7" height="0.7"/><rect x="449.1" y="546.5" width="0.7" height="0.7"/><rect x="443.1" y="542.1" width="0.7" height="0.7"/><rect x="444.1" y="551.8" width="0.7" height="0.7"/><rect x="454.8" y="550.1" width="0.7" height="0.7"/><rect x="447.9" y="534.3" width="0.7" height="0.7"/><rect x="448.0" y="545.7" width="0.7" height="0.7"/><rect x="448.6" y="534.8" width="0.7" height="0.7"/><rect x="446.7" y="550.4" width="0.7" height="0.7"/><rect x="446.4" y="546.7" width="0.7" height="0.7"/><rect x="451.0" y="542.9" width="0.7" height="0.7"/><rect x="442.1" y="540.6" width="0.7" height="0.7"/><rect x="443.7" y="555.3" width="0.7" height="0.7"/><rect x="442.7" y="540.5" width="0.7" height="0.7"/><rect x="450.6" y="548.3" width="0.7" height="0.7"/><rect x="443.1" y="555.2" width="0.7" height="0.7"/><rect x="446.8" y="540.3" width="0.7" height="0.7"/><rect x="441.4" y="539.5" width="0.7" height="0.7"/><rect x="454.1" y="542.3" width="0.7" height="0.7"/><rect x="449.6" y="546.1" width="0.7" height="0.7"/><rect x="441.8" y="554.0" width="0.7" height="0.7"/><rect x="449.9" y="543.5" width="0.7" height="0.7"/><rect x="441.2" y="544.4" width="0.7" height="0.7"/><rect x="442.4" y="536.2" width="0.7" height="0.7"/><rect x="450.6" y="544.7" width="0.7" height="0.7"/><rect x="443.2" y="543.9" width="0.7" height="0.7"/><rect x="442.6" y="540.3" width="0.7" height="0.7"/><rect x="446.3" y="544.9" width="0.7" height="0.7"/><rect x="450.8" y="533.2" width="0.7" height="0.7"/><rect x="453.5" y="552.8" width="0.7" height="0.7"/><rect x="454.3" y="542.2" width="0.7" height="0.7"/><rect x="442.4" y="548.3" width="0.7" height="0.7"/><rect x="441.1" y="548.7" width="0.7" height="0.7"/><rect x="449.9" y="532.2" width="0.7" height="0.7"/><rect x="454.9" y="550.7" width="0.7" height="0.7"/><rect x="447.5" y="553.6" width="0.7" height="0.7"/><rect x="448.8" y="535.7" width="0.7" height="0.7"/><rect x="446.6" y="553.6" width="0.7" height="0.7"/><rect x="442.7" y="538.6" width="0.7" height="0.7"/><rect x="442.3" y="553.5" width="0.7" height="0.7"/><rect x="451.3" y="541.1" width="0.7" height="0.7"/><rect x="450.4" y="541.7" width="0.7" height="0.7"/><rect x="448.3" y="536.9" width="0.7" height="0.7"/><rect x="446.3" y="551.0" width="0.7" height="0.7"/><rect x="451.3" y="554.3" width="0.7" height="0.7"/><rect x="452.1" y="554.1" width="0.7" height="0.7"/><rect x="449.1" y="533.5" width="0.7" height="0.7"/><rect x="443.4" y="545.5" width="0.7" height="0.7"/><rect x="450.0" y="542.5" width="0.7" height="0.7"/></g>
<g fill="#a0a0d0"><rect x="492.1" y="544.7" width="0.8" height="0.8"/><rect x="495.8" y="517.1" width="0.8" height="0.8"/><rect x="501.7" y="530.2" width="0.8" height="0.8"/><rect x="509.3" y="510.6" width="0.8" height="0.8"/><rect x="462.9" y="552.6" width="0.8" height="0.8"/><rect x="493.1" y="521.7" width="0.8" height="0.8"/><rect x="499.1" y="541.3" width="0.8" height="0.8"/><rect x="464.6" y="505.2" width="0.8" height="0.8"/><rect x="469.1" y="547.1" width="0.8" height="0.8"/><rect x="471.2" y="548.9" width="0.8" height="0.8"/><rect x="496.6" y="548.2" width="0.8" height="0.8"/><rect x="481.1" y="524.9" width="0.8" height="0.8"/><rect x="474.2" y="547.7" width="0.8" height="0.8"/><rect x="502.1" y="506.6" width="0.8" height="0.8"/><rect x="489.3" y="523.3" width="0.8" height="0.8"/><rect x="490.5" y="505.8" width="0.8" height="0.8"/><rect x="478.9" y="555.3" width="0.8" height="0.8"/><rect x="488.2" y="513.0" width="0.8" height="0.8"/><rect x="484.4" y="556.9" width="0.8" height="0.8"/><rect x="466.1" y="551.6" width="0.8" height="0.8"/><rect x="470.4" y="528.7" width="0.8" height="0.8"/><rect x="507.6" y="507.3" width="0.8" height="0.8"/></g>
<line x1="455.80" y1="483.70" x2="455.80" y2="567.00" stroke="#3e3a98" stroke-width="1.5"/>
<line x1="429.50" y1="542.90" x2="512.20" y2="542.90" stroke="#3e3a98" stroke-width="1.5"/>
<text x="431.76" y="499.20" font-size="6.4" textLength="21.15" lengthAdjust="spacingAndGlyphs" fill="#222">TEMRA</text>
<text x="491.75" y="499.20" font-size="6.4" textLength="17.04" lengthAdjust="spacingAndGlyphs" fill="#222">Naive</text>
<text x="431.60" y="555.80" font-size="6.4" fill="#222">EM</text>
<text x="497.63" y="555.80" font-size="6.4" textLength="11.48" lengthAdjust="spacingAndGlyphs" fill="#222">CM</text>
<line x1="432.00" y1="567.00" x2="432.00" y2="569.20" stroke="#000" stroke-width="0.6"/>
<line x1="434.60" y1="567.00" x2="434.60" y2="569.20" stroke="#000" stroke-width="0.6"/>
<line x1="437.20" y1="567.00" x2="437.20" y2="569.20" stroke="#000" stroke-width="0.6"/>
<line x1="439.80" y1="567.00" x2="439.80" y2="569.20" stroke="#000" stroke-width="0.6"/>
<line x1="442.40" y1="567.00" x2="442.40" y2="569.20" stroke="#000" stroke-width="0.6"/>
<line x1="445.00" y1="567.00" x2="445.00" y2="569.20" stroke="#000" stroke-width="0.6"/>
<line x1="447.60" y1="567.00" x2="447.60" y2="569.20" stroke="#000" stroke-width="0.6"/>
<line x1="450.20" y1="567.00" x2="450.20" y2="569.20" stroke="#000" stroke-width="0.6"/>
<line x1="452.80" y1="567.00" x2="452.80" y2="569.20" stroke="#000" stroke-width="0.6"/>
<line x1="455.40" y1="567.00" x2="455.40" y2="569.20" stroke="#000" stroke-width="0.6"/>
<line x1="458.00" y1="567.00" x2="458.00" y2="569.20" stroke="#000" stroke-width="0.6"/>
<line x1="460.60" y1="567.00" x2="460.60" y2="569.20" stroke="#000" stroke-width="0.6"/>
<line x1="463.20" y1="567.00" x2="463.20" y2="569.20" stroke="#000" stroke-width="0.6"/>
<line x1="465.80" y1="567.00" x2="465.80" y2="569.20" stroke="#000" stroke-width="0.6"/>
<line x1="468.40" y1="567.00" x2="468.40" y2="569.20" stroke="#000" stroke-width="0.6"/>
<line x1="471.00" y1="567.00" x2="471.00" y2="569.20" stroke="#000" stroke-width="0.6"/>
<line x1="473.60" y1="567.00" x2="473.60" y2="569.20" stroke="#000" stroke-width="0.6"/>
<line x1="476.20" y1="567.00" x2="476.20" y2="569.20" stroke="#000" stroke-width="0.6"/>
<line x1="478.80" y1="567.00" x2="478.80" y2="569.20" stroke="#000" stroke-width="0.6"/>
<line x1="481.40" y1="567.00" x2="481.40" y2="569.20" stroke="#000" stroke-width="0.6"/>
<line x1="484.00" y1="567.00" x2="484.00" y2="569.20" stroke="#000" stroke-width="0.6"/>
<line x1="486.60" y1="567.00" x2="486.60" y2="569.20" stroke="#000" stroke-width="0.6"/>
<line x1="489.20" y1="567.00" x2="489.20" y2="569.20" stroke="#000" stroke-width="0.6"/>
<line x1="491.80" y1="567.00" x2="491.80" y2="569.20" stroke="#000" stroke-width="0.6"/>
<line x1="494.40" y1="567.00" x2="494.40" y2="569.20" stroke="#000" stroke-width="0.6"/>
<line x1="497.00" y1="567.00" x2="497.00" y2="569.20" stroke="#000" stroke-width="0.6"/>
<line x1="499.60" y1="567.00" x2="499.60" y2="569.20" stroke="#000" stroke-width="0.6"/>
<line x1="502.20" y1="567.00" x2="502.20" y2="569.20" stroke="#000" stroke-width="0.6"/>
<line x1="504.80" y1="567.00" x2="504.80" y2="569.20" stroke="#000" stroke-width="0.6"/>
<line x1="507.40" y1="567.00" x2="507.40" y2="569.20" stroke="#000" stroke-width="0.6"/>
<line x1="510.00" y1="567.00" x2="510.00" y2="569.20" stroke="#000" stroke-width="0.6"/>
<line x1="427.30" y1="487.00" x2="429.50" y2="487.00" stroke="#000" stroke-width="0.6"/>
<line x1="427.30" y1="489.60" x2="429.50" y2="489.60" stroke="#000" stroke-width="0.6"/>
<line x1="427.30" y1="492.20" x2="429.50" y2="492.20" stroke="#000" stroke-width="0.6"/>
<line x1="427.30" y1="494.80" x2="429.50" y2="494.80" stroke="#000" stroke-width="0.6"/>
<line x1="427.30" y1="497.40" x2="429.50" y2="497.40" stroke="#000" stroke-width="0.6"/>
<line x1="427.30" y1="500.00" x2="429.50" y2="500.00" stroke="#000" stroke-width="0.6"/>
<line x1="427.30" y1="502.60" x2="429.50" y2="502.60" stroke="#000" stroke-width="0.6"/>
<line x1="427.30" y1="505.20" x2="429.50" y2="505.20" stroke="#000" stroke-width="0.6"/>
<line x1="427.30" y1="507.80" x2="429.50" y2="507.80" stroke="#000" stroke-width="0.6"/>
<line x1="427.30" y1="510.40" x2="429.50" y2="510.40" stroke="#000" stroke-width="0.6"/>
<line x1="427.30" y1="513.00" x2="429.50" y2="513.00" stroke="#000" stroke-width="0.6"/>
<line x1="427.30" y1="515.60" x2="429.50" y2="515.60" stroke="#000" stroke-width="0.6"/>
<line x1="427.30" y1="518.20" x2="429.50" y2="518.20" stroke="#000" stroke-width="0.6"/>
<line x1="427.30" y1="520.80" x2="429.50" y2="520.80" stroke="#000" stroke-width="0.6"/>
<line x1="427.30" y1="523.40" x2="429.50" y2="523.40" stroke="#000" stroke-width="0.6"/>
<line x1="427.30" y1="526.00" x2="429.50" y2="526.00" stroke="#000" stroke-width="0.6"/>
<line x1="427.30" y1="528.60" x2="429.50" y2="528.60" stroke="#000" stroke-width="0.6"/>
<line x1="427.30" y1="531.20" x2="429.50" y2="531.20" stroke="#000" stroke-width="0.6"/>
<line x1="427.30" y1="533.80" x2="429.50" y2="533.80" stroke="#000" stroke-width="0.6"/>
<line x1="427.30" y1="536.40" x2="429.50" y2="536.40" stroke="#000" stroke-width="0.6"/>
<line x1="427.30" y1="539.00" x2="429.50" y2="539.00" stroke="#000" stroke-width="0.6"/>
<line x1="427.30" y1="541.60" x2="429.50" y2="541.60" stroke="#000" stroke-width="0.6"/>
<line x1="427.30" y1="544.20" x2="429.50" y2="544.20" stroke="#000" stroke-width="0.6"/>
<line x1="427.30" y1="546.80" x2="429.50" y2="546.80" stroke="#000" stroke-width="0.6"/>
<line x1="427.30" y1="549.40" x2="429.50" y2="549.40" stroke="#000" stroke-width="0.6"/>
<line x1="427.30" y1="552.00" x2="429.50" y2="552.00" stroke="#000" stroke-width="0.6"/>
<line x1="427.30" y1="554.60" x2="429.50" y2="554.60" stroke="#000" stroke-width="0.6"/>
<line x1="427.30" y1="557.20" x2="429.50" y2="557.20" stroke="#000" stroke-width="0.6"/>
<line x1="427.30" y1="559.80" x2="429.50" y2="559.80" stroke="#000" stroke-width="0.6"/>
<line x1="427.30" y1="562.40" x2="429.50" y2="562.40" stroke="#000" stroke-width="0.6"/>
<line x1="427.30" y1="565.00" x2="429.50" y2="565.00" stroke="#000" stroke-width="0.6"/>
<text x="433.29" y="581.20" font-size="8.6" textLength="73.20" lengthAdjust="spacingAndGlyphs" fill="#333">172Yb_CCR7 [Yb172Di]</text>
<text x="420.60" y="565.50" font-size="8.4" textLength="78.97" lengthAdjust="spacingAndGlyphs" fill="#333" transform="rotate(-90 420.60 565.50)">153Eu_CD45RA [Eu153Di]</text></svg>
<div class="frame"></div>
</body></html>
